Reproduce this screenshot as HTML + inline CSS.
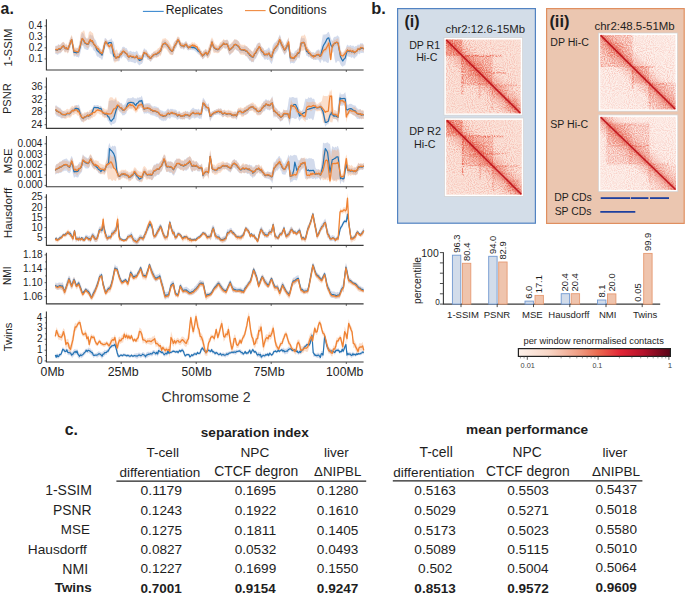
<!DOCTYPE html>
<html><head><meta charset="utf-8"><title>figure</title>
<style>
html,body{margin:0;padding:0;background:#fff;overflow:hidden}
svg{display:block}
text{font-family:"Liberation Sans",sans-serif;fill:#1e1e1e}
</style></head><body>
<svg width="685" height="598" viewBox="0 0 685 598">
<defs>
<linearGradient id="reds" x1="0" x2="1" y1="0" y2="0">
<stop offset="0" stop-color="#fdf1ea"/>
<stop offset="0.2" stop-color="#f8d6c6"/>
<stop offset="0.4" stop-color="#ef9c82"/>
<stop offset="0.52" stop-color="#eb6b50"/>
<stop offset="0.67" stop-color="#e22636"/>
<stop offset="0.82" stop-color="#b5122b"/>
<stop offset="1" stop-color="#580518"/>
</linearGradient>
<filter id="nz1" x="0" y="0" width="100%" height="100%" color-interpolation-filters="sRGB">
<feTurbulence type="fractalNoise" baseFrequency="0.95" numOctaves="1" seed="4" result="t"/>
<feColorMatrix in="t" type="matrix" values="0 0 0 0 0.92  0 0 0 0 0.36  0 0 0 0 0.28  3.2 0 0 0 -1.3"/>
<feGaussianBlur stdDeviation="0.3"/>
<feComposite in2="SourceGraphic" operator="in"/>
</filter>
<filter id="nz2" x="0" y="0" width="100%" height="100%" color-interpolation-filters="sRGB">
<feTurbulence type="fractalNoise" baseFrequency="0.9" numOctaves="1" seed="11" result="t"/>
<feColorMatrix in="t" type="matrix" values="0 0 0 0 0.9  0 0 0 0 0.3  0 0 0 0 0.22  0 3.2 0 0 -1.2"/>
<feGaussianBlur stdDeviation="0.3"/>
<feComposite in2="SourceGraphic" operator="in"/>
</filter>
<filter id="bl" x="-20%" y="-20%" width="140%" height="140%"><feGaussianBlur stdDeviation="1.2"/></filter>
<linearGradient id="gdiag" x1="1" y1="0" x2="0" y2="1">
<stop offset="0" stop-color="#fff" stop-opacity="0.22"/>
<stop offset="0.3" stop-color="#fff" stop-opacity="0.35"/>
<stop offset="0.42" stop-color="#fff" stop-opacity="0.55"/>
<stop offset="0.47" stop-color="#fff" stop-opacity="0.8"/>
<stop offset="0.5" stop-color="#fff" stop-opacity="1"/>
<stop offset="0.53" stop-color="#fff" stop-opacity="0.8"/>
<stop offset="0.58" stop-color="#fff" stop-opacity="0.55"/>
<stop offset="0.7" stop-color="#fff" stop-opacity="0.35"/>
<stop offset="1" stop-color="#fff" stop-opacity="0.22"/>
</linearGradient>
<linearGradient id="gdiag2" x1="1" y1="0" x2="0" y2="1">
<stop offset="0.38" stop-color="#e2452f" stop-opacity="0"/>
<stop offset="0.46" stop-color="#e2452f" stop-opacity="0.2"/>
<stop offset="0.5" stop-color="#d8302a" stop-opacity="0.55"/>
<stop offset="0.54" stop-color="#e2452f" stop-opacity="0.2"/>
<stop offset="0.62" stop-color="#e2452f" stop-opacity="0"/>
</linearGradient>
<mask id="mdiag" maskContentUnits="objectBoundingBox"><rect width="1" height="1" fill="url(#gdiag)"/></mask>
</defs>

<text x="0.58" y="13.70" font-size="15.84" font-weight="bold">a.</text>
<line x1="142.9" y1="11.4" x2="163.7" y2="11.4" stroke="#3c8ad0" stroke-width="1.1"/>
<text x="165.72" y="13.66" font-size="12.27">Replicates</text>
<line x1="245.0" y1="10.6" x2="265.6" y2="10.6" stroke="#f08a40" stroke-width="1.1"/>
<text x="268.69" y="13.78" font-size="12.24">Conditions</text>
<path d="M46.4,19.2 V70.0 H363.6" fill="none" stroke="#3a3a3a" stroke-width="1.1"/>
<line x1="44.6" y1="25.9" x2="46.4" y2="25.9" stroke="#3a3a3a" stroke-width="0.8"/>
<text x="28.50" y="28.95" font-size="10.00">0.4</text>
<line x1="44.6" y1="36.8" x2="46.4" y2="36.8" stroke="#3a3a3a" stroke-width="0.8"/>
<text x="28.65" y="39.85" font-size="10.00">0.3</text>
<line x1="44.6" y1="47.8" x2="46.4" y2="47.8" stroke="#3a3a3a" stroke-width="0.8"/>
<text x="28.70" y="50.85" font-size="10.00">0.2</text>
<line x1="44.6" y1="58.9" x2="46.4" y2="58.9" stroke="#3a3a3a" stroke-width="0.8"/>
<text x="28.70" y="61.95" font-size="10.00">0.1</text>
<line x1="121.2" y1="70.0" x2="121.2" y2="72.0" stroke="#3a3a3a" stroke-width="0.8"/>
<line x1="196.2" y1="70.0" x2="196.2" y2="72.0" stroke="#3a3a3a" stroke-width="0.8"/>
<line x1="271.2" y1="70.0" x2="271.2" y2="72.0" stroke="#3a3a3a" stroke-width="0.8"/>
<line x1="346.3" y1="70.0" x2="346.3" y2="72.0" stroke="#3a3a3a" stroke-width="0.8"/>
<text transform="translate(11.56,66.45) rotate(-90)" font-size="11.34">1-SSIM</text>
<path d="M46.4,77.6 V128.4 H363.6" fill="none" stroke="#3a3a3a" stroke-width="1.1"/>
<line x1="44.6" y1="87.0" x2="46.4" y2="87.0" stroke="#3a3a3a" stroke-width="0.8"/>
<text x="31.45" y="90.05" font-size="10.00">36</text>
<line x1="44.6" y1="99.5" x2="46.4" y2="99.5" stroke="#3a3a3a" stroke-width="0.8"/>
<text x="31.50" y="102.55" font-size="10.00">32</text>
<line x1="44.6" y1="112.1" x2="46.4" y2="112.1" stroke="#3a3a3a" stroke-width="0.8"/>
<text x="31.40" y="115.15" font-size="10.00">28</text>
<line x1="44.6" y1="124.7" x2="46.4" y2="124.7" stroke="#3a3a3a" stroke-width="0.8"/>
<text x="31.30" y="127.80" font-size="10.00">24</text>
<line x1="45.1" y1="93.2" x2="46.4" y2="93.2" stroke="#3a3a3a" stroke-width="0.7"/>
<line x1="45.1" y1="105.8" x2="46.4" y2="105.8" stroke="#3a3a3a" stroke-width="0.7"/>
<line x1="45.1" y1="118.4" x2="46.4" y2="118.4" stroke="#3a3a3a" stroke-width="0.7"/>
<line x1="121.2" y1="128.4" x2="121.2" y2="130.4" stroke="#3a3a3a" stroke-width="0.8"/>
<line x1="196.2" y1="128.4" x2="196.2" y2="130.4" stroke="#3a3a3a" stroke-width="0.8"/>
<line x1="271.2" y1="128.4" x2="271.2" y2="130.4" stroke="#3a3a3a" stroke-width="0.8"/>
<line x1="346.3" y1="128.4" x2="346.3" y2="130.4" stroke="#3a3a3a" stroke-width="0.8"/>
<text transform="translate(11.46,114.08) rotate(-90)" font-size="11.06">PSNR</text>
<path d="M46.4,136.1 V186.8 H363.6" fill="none" stroke="#3a3a3a" stroke-width="1.1"/>
<line x1="44.6" y1="143.8" x2="46.4" y2="143.8" stroke="#3a3a3a" stroke-width="0.8"/>
<text x="17.40" y="146.85" font-size="10.00">0.004</text>
<line x1="44.6" y1="154.5" x2="46.4" y2="154.5" stroke="#3a3a3a" stroke-width="0.8"/>
<text x="17.55" y="157.55" font-size="10.00">0.003</text>
<line x1="44.6" y1="164.8" x2="46.4" y2="164.8" stroke="#3a3a3a" stroke-width="0.8"/>
<text x="17.60" y="167.85" font-size="10.00">0.002</text>
<line x1="44.6" y1="175.1" x2="46.4" y2="175.1" stroke="#3a3a3a" stroke-width="0.8"/>
<text x="17.60" y="178.15" font-size="10.00">0.001</text>
<line x1="44.6" y1="185.4" x2="46.4" y2="185.4" stroke="#3a3a3a" stroke-width="0.8"/>
<text x="17.50" y="188.45" font-size="10.00">0.000</text>
<line x1="121.2" y1="186.8" x2="121.2" y2="188.8" stroke="#3a3a3a" stroke-width="0.8"/>
<line x1="196.2" y1="186.8" x2="196.2" y2="188.8" stroke="#3a3a3a" stroke-width="0.8"/>
<line x1="271.2" y1="186.8" x2="271.2" y2="188.8" stroke="#3a3a3a" stroke-width="0.8"/>
<line x1="346.3" y1="186.8" x2="346.3" y2="188.8" stroke="#3a3a3a" stroke-width="0.8"/>
<text transform="translate(11.63,173.42) rotate(-90)" font-size="11.54">MSE</text>
<path d="M46.4,194.3 V245.4 H363.6" fill="none" stroke="#3a3a3a" stroke-width="1.1"/>
<line x1="44.6" y1="197.2" x2="46.4" y2="197.2" stroke="#3a3a3a" stroke-width="0.8"/>
<text x="31.40" y="200.25" font-size="10.00">25</text>
<line x1="44.6" y1="207.5" x2="46.4" y2="207.5" stroke="#3a3a3a" stroke-width="0.8"/>
<text x="31.40" y="210.55" font-size="10.00">20</text>
<line x1="44.6" y1="217.6" x2="46.4" y2="217.6" stroke="#3a3a3a" stroke-width="0.8"/>
<text x="31.40" y="220.60" font-size="10.00">15</text>
<line x1="44.6" y1="227.6" x2="46.4" y2="227.6" stroke="#3a3a3a" stroke-width="0.8"/>
<text x="31.40" y="230.65" font-size="10.00">10</text>
<line x1="44.6" y1="237.5" x2="46.4" y2="237.5" stroke="#3a3a3a" stroke-width="0.8"/>
<text x="36.95" y="240.50" font-size="10.00">5</text>
<line x1="121.2" y1="245.4" x2="121.2" y2="247.4" stroke="#3a3a3a" stroke-width="0.8"/>
<line x1="196.2" y1="245.4" x2="196.2" y2="247.4" stroke="#3a3a3a" stroke-width="0.8"/>
<line x1="271.2" y1="245.4" x2="271.2" y2="247.4" stroke="#3a3a3a" stroke-width="0.8"/>
<line x1="346.3" y1="245.4" x2="346.3" y2="247.4" stroke="#3a3a3a" stroke-width="0.8"/>
<text transform="translate(11.83,238.24) rotate(-90)" font-size="11.70">Hausdorff</text>
<path d="M46.4,252.8 V303.9 H363.6" fill="none" stroke="#3a3a3a" stroke-width="1.1"/>
<line x1="44.6" y1="254.9" x2="46.4" y2="254.9" stroke="#3a3a3a" stroke-width="0.8"/>
<text x="23.05" y="257.95" font-size="10.00">1.18</text>
<line x1="44.6" y1="269.0" x2="46.4" y2="269.0" stroke="#3a3a3a" stroke-width="0.8"/>
<text x="22.95" y="272.05" font-size="10.00">1.14</text>
<line x1="44.6" y1="282.7" x2="46.4" y2="282.7" stroke="#3a3a3a" stroke-width="0.8"/>
<text x="23.05" y="285.75" font-size="10.00">1.10</text>
<line x1="44.6" y1="296.6" x2="46.4" y2="296.6" stroke="#3a3a3a" stroke-width="0.8"/>
<text x="23.10" y="299.65" font-size="10.00">1.06</text>
<line x1="45.1" y1="261.9" x2="46.4" y2="261.9" stroke="#3a3a3a" stroke-width="0.7"/>
<line x1="45.1" y1="275.9" x2="46.4" y2="275.9" stroke="#3a3a3a" stroke-width="0.7"/>
<line x1="45.1" y1="289.6" x2="46.4" y2="289.6" stroke="#3a3a3a" stroke-width="0.7"/>
<line x1="121.2" y1="303.9" x2="121.2" y2="305.9" stroke="#3a3a3a" stroke-width="0.8"/>
<line x1="196.2" y1="303.9" x2="196.2" y2="305.9" stroke="#3a3a3a" stroke-width="0.8"/>
<line x1="271.2" y1="303.9" x2="271.2" y2="305.9" stroke="#3a3a3a" stroke-width="0.8"/>
<line x1="346.3" y1="303.9" x2="346.3" y2="305.9" stroke="#3a3a3a" stroke-width="0.8"/>
<text transform="translate(11.12,284.90) rotate(-90)" font-size="10.06">NMI</text>
<path d="M46.4,311.4 V362.0 H363.6" fill="none" stroke="#3a3a3a" stroke-width="1.1"/>
<line x1="44.6" y1="317.6" x2="46.4" y2="317.6" stroke="#3a3a3a" stroke-width="0.8"/>
<text x="36.85" y="320.65" font-size="10.00">4</text>
<line x1="44.6" y1="328.3" x2="46.4" y2="328.3" stroke="#3a3a3a" stroke-width="0.8"/>
<text x="37.00" y="331.35" font-size="10.00">3</text>
<line x1="44.6" y1="339.2" x2="46.4" y2="339.2" stroke="#3a3a3a" stroke-width="0.8"/>
<text x="37.05" y="342.30" font-size="10.00">2</text>
<line x1="44.6" y1="350.2" x2="46.4" y2="350.2" stroke="#3a3a3a" stroke-width="0.8"/>
<text x="37.05" y="353.25" font-size="10.00">1</text>
<line x1="44.6" y1="360.9" x2="46.4" y2="360.9" stroke="#3a3a3a" stroke-width="0.8"/>
<text x="36.95" y="363.95" font-size="10.00">0</text>
<line x1="45.1" y1="322.9" x2="46.4" y2="322.9" stroke="#3a3a3a" stroke-width="0.7"/>
<line x1="45.1" y1="333.8" x2="46.4" y2="333.8" stroke="#3a3a3a" stroke-width="0.7"/>
<line x1="45.1" y1="344.7" x2="46.4" y2="344.7" stroke="#3a3a3a" stroke-width="0.7"/>
<line x1="45.1" y1="355.5" x2="46.4" y2="355.5" stroke="#3a3a3a" stroke-width="0.7"/>
<line x1="121.2" y1="362.0" x2="121.2" y2="364.0" stroke="#3a3a3a" stroke-width="0.8"/>
<line x1="196.2" y1="362.0" x2="196.2" y2="364.0" stroke="#3a3a3a" stroke-width="0.8"/>
<line x1="271.2" y1="362.0" x2="271.2" y2="364.0" stroke="#3a3a3a" stroke-width="0.8"/>
<line x1="346.3" y1="362.0" x2="346.3" y2="364.0" stroke="#3a3a3a" stroke-width="0.8"/>
<text transform="translate(11.65,351.32) rotate(-90)" font-size="11.20">Twins</text>
<path d="M55.3,46.1 L56.2,45.6 L57.2,45.9 L58.1,44.3 L59.1,44.4 L60.0,45.3 L61.2,43.7 L62.4,42.7 L63.5,42.0 L64.7,44.0 L65.6,45.5 L66.5,44.7 L67.3,46.5 L68.2,45.7 L69.1,41.9 L70.0,39.7 L70.8,37.7 L71.7,35.9 L72.8,40.1 L74.0,47.8 L74.9,48.8 L75.9,48.8 L76.8,48.5 L77.8,47.6 L78.7,46.1 L79.6,42.1 L80.5,38.6 L81.3,34.5 L82.2,32.8 L83.1,33.1 L84.0,34.6 L84.8,36.7 L85.7,37.6 L86.8,38.6 L88.0,38.8 L88.8,37.5 L89.6,34.8 L90.4,34.2 L91.3,35.7 L92.2,34.6 L93.0,36.0 L93.9,37.8 L94.8,39.4 L95.7,39.9 L96.5,42.3 L97.4,45.3 L98.3,46.1 L99.2,47.2 L100.2,48.4 L101.1,48.9 L102.0,50.2 L102.9,45.8 L103.8,42.6 L104.7,38.3 L105.6,37.9 L106.4,38.9 L107.3,40.2 L108.2,40.7 L109.0,39.8 L109.8,39.7 L110.6,39.3 L111.4,37.9 L112.6,41.0 L113.7,41.7 L114.8,47.8 L116.0,55.1 L116.9,53.4 L117.8,53.0 L118.7,53.4 L119.6,51.9 L120.4,50.0 L121.3,50.2 L122.2,47.2 L123.0,46.7 L123.9,46.8 L124.8,47.3 L125.7,48.3 L126.6,48.0 L127.8,50.6 L128.9,52.1 L129.8,50.9 L130.7,50.7 L131.5,51.6 L132.4,51.9 L133.3,51.5 L134.2,52.0 L135.0,52.3 L135.9,51.5 L136.8,50.5 L137.7,52.1 L138.5,53.9 L139.4,55.2 L140.2,55.7 L141.0,55.4 L141.8,55.3 L142.9,51.2 L144.1,48.0 L145.2,49.5 L146.4,49.8 L147.3,51.5 L148.2,53.3 L149.1,53.9 L150.0,55.4 L150.9,54.7 L151.8,53.5 L152.6,53.2 L153.5,51.9 L154.4,51.8 L155.3,51.6 L156.3,52.0 L157.2,50.8 L158.1,49.7 L158.9,49.8 L159.7,48.4 L160.5,47.7 L161.7,42.4 L162.8,40.5 L163.9,40.5 L165.1,39.6 L165.9,40.8 L166.7,41.6 L167.5,42.4 L168.7,43.4 L169.8,45.0 L170.9,46.9 L172.1,48.0 L173.0,45.7 L173.8,43.1 L174.7,41.6 L175.6,40.5 L176.4,39.7 L177.2,37.7 L178.0,37.5 L179.2,37.8 L180.3,41.0 L181.2,42.7 L182.1,43.3 L182.9,42.3 L183.8,43.6 L185.0,41.8 L186.2,41.1 L187.3,43.0 L188.5,45.2 L189.4,44.0 L190.2,44.0 L191.1,45.0 L192.0,44.2 L192.9,45.2 L193.8,44.0 L194.6,45.1 L195.5,44.8 L196.4,46.1 L197.2,46.7 L198.1,48.0 L199.0,48.8 L199.9,48.8 L200.8,50.4 L201.6,51.1 L202.5,52.9 L203.4,50.8 L204.2,51.1 L205.1,49.5 L206.0,49.4 L207.3,51.8 L208.5,48.7 L209.7,45.4 L210.8,41.3 L212.0,39.1 L213.2,42.2 L214.3,44.9 L215.2,45.2 L216.1,46.5 L216.9,46.6 L217.8,47.0 L219.0,45.6 L220.2,43.5 L221.1,43.4 L221.9,42.1 L222.8,41.0 L223.7,39.7 L224.6,40.6 L225.4,40.2 L226.3,40.0 L227.2,39.4 L228.3,41.1 L229.5,45.0 L230.3,43.9 L231.1,43.9 L231.9,43.2 L233.1,42.0 L234.2,39.6 L235.1,39.6 L235.9,40.0 L236.8,39.8 L237.7,40.7 L238.8,41.6 L240.0,44.4 L240.9,46.4 L241.8,46.4 L242.6,46.7 L243.5,47.0 L244.4,45.8 L245.2,46.0 L246.1,46.6 L247.0,46.2 L247.9,47.7 L248.8,47.9 L249.6,49.5 L250.5,49.7 L251.3,51.0 L252.1,51.3 L252.9,52.4 L253.8,49.7 L254.6,47.6 L255.5,48.0 L256.4,45.1 L257.3,43.6 L258.3,42.9 L259.2,42.5 L260.2,43.1 L261.2,45.9 L262.2,47.1 L263.2,48.0 L264.3,49.9 L265.3,50.0 L266.2,49.5 L267.2,49.6 L268.1,48.1 L269.0,47.3 L269.9,49.1 L270.7,51.1 L271.6,51.0 L272.8,45.6 L273.9,43.5 L274.8,42.6 L275.6,42.2 L276.5,41.1 L277.4,39.9 L278.5,37.4 L279.7,34.5 L280.5,36.1 L281.3,39.4 L282.1,40.6 L283.2,42.6 L284.4,45.4 L285.2,45.0 L286.0,43.1 L286.8,41.0 L287.7,39.4 L288.6,38.1 L289.5,44.2 L290.3,51.8 L291.2,52.1 L292.1,53.3 L292.9,52.8 L293.8,53.7 L294.8,51.3 L295.8,50.6 L296.8,50.2 L297.7,48.5 L298.7,48.4 L299.6,44.8 L301.2,36.7 L302.2,38.3 L303.3,38.3 L304.3,37.8 L305.5,41.3 L306.6,46.7 L307.5,47.0 L308.4,49.2 L309.2,49.8 L310.1,50.9 L311.0,51.4 L311.9,52.7 L312.7,52.0 L313.6,52.1 L314.5,53.4 L315.4,52.0 L316.2,50.8 L317.1,50.1 L318.0,49.7 L318.9,49.3 L319.7,50.7 L320.6,49.0 L321.8,41.1 L323.0,33.8 L323.9,35.5 L324.8,33.9 L325.6,34.4 L326.5,34.0 L327.6,32.6 L328.8,31.7 L329.8,34.7 L330.7,37.7 L331.5,39.7 L332.3,40.9 L333.5,37.7 L334.6,36.7 L335.5,36.7 L336.4,36.5 L337.2,35.2 L338.1,35.9 L339.3,37.3 L340.5,48.9 L341.6,52.2 L342.8,55.2 L344.0,52.6 L345.2,51.0 L346.4,46.2 L347.5,44.4 L348.4,45.6 L349.2,46.1 L350.1,44.9 L351.0,45.2 L351.9,46.2 L352.8,45.4 L353.6,45.8 L354.5,47.0 L355.4,46.0 L356.2,46.3 L357.1,45.6 L358.0,44.3 L358.9,45.1 L359.8,44.5 L360.6,43.1 L361.5,43.4 L362.6,43.3 L363.8,44.8 L363.8,53.2 L362.6,52.8 L361.5,53.1 L360.6,52.4 L359.8,54.6 L358.9,53.6 L358.0,53.7 L357.1,55.9 L356.2,56.6 L355.4,57.3 L354.5,58.8 L353.6,58.2 L352.8,56.7 L351.9,57.9 L351.0,57.4 L350.1,56.5 L349.2,57.1 L348.4,56.4 L347.5,55.8 L346.4,60.5 L345.2,65.2 L344.0,65.6 L342.8,66.8 L341.6,66.0 L340.5,64.6 L339.3,61.6 L338.1,60.9 L337.2,61.2 L336.4,62.8 L335.5,62.7 L334.6,59.0 L333.5,51.2 L332.3,53.1 L331.5,52.6 L330.7,51.2 L329.8,55.5 L328.8,62.4 L327.6,62.9 L326.5,62.2 L325.6,61.4 L324.8,60.9 L323.9,62.5 L323.0,60.8 L321.8,59.6 L320.6,63.1 L319.7,62.2 L318.9,60.5 L318.0,59.8 L317.1,59.6 L316.2,59.9 L315.4,60.1 L314.5,59.8 L313.6,60.0 L312.7,59.0 L311.9,58.8 L311.0,58.3 L310.1,57.2 L309.2,56.8 L308.4,57.4 L307.5,55.7 L306.6,55.9 L305.5,52.6 L304.3,48.4 L303.3,46.6 L302.2,47.6 L301.2,49.6 L299.6,58.6 L298.7,58.3 L297.7,57.5 L296.8,59.8 L295.8,61.0 L294.8,62.8 L293.8,63.5 L292.9,63.1 L292.1,62.9 L291.2,62.7 L290.3,63.9 L289.5,59.7 L288.6,51.2 L287.7,48.9 L286.8,52.3 L286.0,53.1 L285.2,54.4 L284.4,54.9 L283.2,52.4 L282.1,50.2 L281.3,49.0 L280.5,47.1 L279.7,44.8 L278.5,49.1 L277.4,51.3 L276.5,51.9 L275.6,53.5 L274.8,54.1 L273.9,56.6 L272.8,60.8 L271.6,64.2 L270.7,62.7 L269.9,61.5 L269.0,59.0 L268.1,60.0 L267.2,60.1 L266.2,58.8 L265.3,59.7 L264.3,59.6 L263.2,57.3 L262.2,56.5 L261.2,55.2 L260.2,52.8 L259.2,51.0 L258.3,53.8 L257.3,55.8 L256.4,57.8 L255.5,59.1 L254.6,59.5 L253.8,62.3 L252.9,62.2 L252.1,61.6 L251.3,62.5 L250.5,60.7 L249.6,61.1 L248.8,59.3 L247.9,58.4 L247.0,56.2 L246.1,56.2 L245.2,55.5 L244.4,53.4 L243.5,53.7 L242.6,53.0 L241.8,53.3 L240.9,53.3 L240.0,53.5 L238.8,51.8 L237.7,51.1 L236.8,50.5 L235.9,49.3 L235.1,49.2 L234.2,50.3 L233.1,52.1 L231.9,52.7 L231.1,54.0 L230.3,54.9 L229.5,55.6 L228.3,52.7 L227.2,49.1 L226.3,48.2 L225.4,48.7 L224.6,48.4 L223.7,47.0 L222.8,48.2 L221.9,48.8 L221.1,49.5 L220.2,50.6 L219.0,52.1 L217.8,52.5 L216.9,52.0 L216.1,52.1 L215.2,51.9 L214.3,51.2 L213.2,50.3 L212.0,45.2 L210.8,52.1 L209.7,55.1 L208.5,56.7 L207.3,58.0 L206.0,55.6 L205.1,56.8 L204.2,58.1 L203.4,58.8 L202.5,59.2 L201.6,57.5 L200.8,56.8 L199.9,55.0 L199.0,54.4 L198.1,54.2 L197.2,52.9 L196.4,52.2 L195.5,51.4 L194.6,50.8 L193.8,50.1 L192.9,50.5 L192.0,49.5 L191.1,50.3 L190.2,49.5 L189.4,50.0 L188.5,50.6 L187.3,50.0 L186.2,47.7 L185.0,48.1 L183.8,49.9 L182.9,48.5 L182.1,48.6 L181.2,48.6 L180.3,48.2 L179.2,45.2 L178.0,42.7 L177.2,45.1 L176.4,47.4 L175.6,48.4 L174.7,50.3 L173.8,52.2 L173.0,55.1 L172.1,54.7 L170.9,54.2 L169.8,53.4 L168.7,51.4 L167.5,49.0 L166.7,47.5 L165.9,47.8 L165.1,46.5 L163.9,47.5 L162.8,48.5 L161.7,52.1 L160.5,55.0 L159.7,54.3 L158.9,55.9 L158.1,56.2 L157.2,56.9 L156.3,57.3 L155.3,56.8 L154.4,57.6 L153.5,57.9 L152.6,59.3 L151.8,60.0 L150.9,61.9 L150.0,61.3 L149.1,59.9 L148.2,60.1 L147.3,59.5 L146.4,57.3 L145.2,57.7 L144.1,57.1 L142.9,62.2 L141.8,63.9 L141.0,63.9 L140.2,64.8 L139.4,65.5 L138.5,64.4 L137.7,63.8 L136.8,61.4 L135.9,63.3 L135.0,62.9 L134.2,63.2 L133.3,62.3 L132.4,62.3 L131.5,62.1 L130.7,61.8 L129.8,61.6 L128.9,62.2 L127.8,61.3 L126.6,59.1 L125.7,58.1 L124.8,57.7 L123.9,55.9 L123.0,56.5 L122.2,57.3 L121.3,58.8 L120.4,57.8 L119.6,60.8 L118.7,61.6 L117.8,60.8 L116.9,60.8 L116.0,61.3 L114.8,60.7 L113.7,61.7 L112.6,56.3 L111.4,54.1 L110.6,54.1 L109.8,52.9 L109.0,49.1 L108.2,46.7 L107.3,46.7 L106.4,46.4 L105.6,45.9 L104.7,49.6 L103.8,54.6 L102.9,58.0 L102.0,60.3 L101.1,58.7 L100.2,58.0 L99.2,57.7 L98.3,56.4 L97.4,56.7 L96.5,55.6 L95.7,52.9 L94.8,51.2 L93.9,50.7 L93.0,49.4 L92.2,46.7 L91.3,47.6 L90.4,45.7 L89.6,46.8 L88.8,48.8 L88.0,49.9 L86.8,49.9 L85.7,49.3 L84.8,49.3 L84.0,48.0 L83.1,46.0 L82.2,44.8 L81.3,48.9 L80.5,52.5 L79.6,56.0 L78.7,57.7 L77.8,57.0 L76.8,57.1 L75.9,56.6 L74.9,55.7 L74.0,57.2 L72.8,51.3 L71.7,43.2 L70.8,45.1 L70.0,48.4 L69.1,50.4 L68.2,52.5 L67.3,52.4 L66.5,50.8 L65.6,51.9 L64.7,51.7 L63.5,49.8 L62.4,50.4 L61.2,52.5 L60.0,53.7 L59.1,53.2 L58.1,54.7 L57.2,54.8 L56.2,54.1 L55.3,53.9Z" fill="rgba(125,150,200,0.34)" stroke="none"/>
<path d="M55.3,46.5 L56.2,45.9 L57.2,46.4 L58.1,44.7 L59.1,44.7 L60.0,45.2 L61.2,43.5 L62.4,42.0 L63.5,41.7 L64.7,43.0 L65.6,44.6 L66.5,43.2 L67.3,45.3 L68.2,44.7 L69.1,40.8 L70.0,38.8 L70.8,36.8 L71.7,34.7 L72.8,38.4 L74.0,46.2 L74.9,47.7 L75.9,47.3 L76.8,48.1 L77.8,48.3 L78.7,47.1 L79.6,42.7 L80.5,34.5 L81.3,32.1 L82.2,31.7 L83.1,31.3 L84.0,29.9 L84.8,32.6 L85.7,37.5 L86.8,39.6 L88.0,37.0 L88.8,32.6 L89.6,31.4 L90.4,31.0 L91.3,32.0 L92.2,32.7 L93.0,33.1 L93.9,37.3 L94.8,41.2 L95.7,43.1 L96.5,44.0 L97.4,45.5 L98.3,45.4 L99.2,46.9 L100.2,49.1 L101.1,49.9 L102.0,51.0 L102.9,47.7 L103.8,43.1 L104.7,40.2 L105.6,39.3 L106.4,39.7 L107.3,40.9 L108.2,42.0 L109.0,43.7 L109.8,43.7 L110.6,42.1 L111.4,41.1 L112.6,43.7 L113.7,48.4 L114.8,51.1 L116.0,49.8 L116.9,49.6 L117.8,52.1 L118.7,54.3 L119.6,52.9 L120.4,51.0 L121.3,51.4 L122.2,49.0 L123.0,48.6 L123.9,48.1 L124.8,48.9 L125.7,50.0 L126.6,50.0 L127.8,51.7 L128.9,53.9 L129.8,53.0 L130.7,53.6 L131.5,53.8 L132.4,54.1 L133.3,54.0 L134.2,55.2 L135.0,54.9 L135.9,54.5 L136.8,52.9 L137.7,54.7 L138.5,56.1 L139.4,55.0 L140.2,55.4 L141.0,55.6 L141.8,55.8 L142.9,51.1 L144.1,49.8 L145.2,50.9 L146.4,50.4 L147.3,52.0 L148.2,53.7 L149.1,54.0 L150.0,55.1 L150.9,54.9 L151.8,53.0 L152.6,53.0 L153.5,51.5 L154.4,51.3 L155.3,50.5 L156.3,50.2 L157.2,49.2 L158.1,48.0 L158.9,48.1 L159.7,46.7 L160.5,45.8 L161.7,40.7 L162.8,38.6 L163.9,38.8 L165.1,38.0 L165.9,38.4 L166.7,39.4 L167.5,39.8 L168.7,41.0 L169.8,43.3 L170.9,44.9 L172.1,47.2 L173.0,45.5 L173.8,42.5 L174.7,41.5 L175.6,40.4 L176.4,39.4 L177.2,36.8 L178.0,36.4 L179.2,36.9 L180.3,40.2 L181.2,42.0 L182.1,42.9 L182.9,42.8 L183.8,44.1 L185.0,42.0 L186.2,41.4 L187.3,43.1 L188.5,45.1 L189.4,44.5 L190.2,44.7 L191.1,42.6 L192.0,42.8 L192.9,41.8 L193.8,43.2 L194.6,42.1 L195.5,43.5 L196.4,44.0 L197.2,44.2 L198.1,46.5 L199.0,46.7 L199.9,47.6 L200.8,50.5 L201.6,50.5 L202.5,52.4 L203.4,50.5 L204.2,50.8 L205.1,49.2 L206.0,48.7 L207.3,50.8 L208.5,46.9 L209.7,43.9 L210.8,39.6 L212.0,37.2 L213.2,39.6 L214.3,42.5 L215.2,43.9 L216.1,44.7 L216.9,44.6 L217.8,46.0 L219.0,44.4 L220.2,42.1 L221.1,42.2 L221.9,40.8 L222.8,40.2 L223.7,38.8 L224.6,39.9 L225.4,40.3 L226.3,39.7 L227.2,39.8 L228.3,41.1 L229.5,45.5 L230.3,44.2 L231.1,43.0 L231.9,42.3 L233.1,41.0 L234.2,39.4 L235.1,39.3 L235.9,39.6 L236.8,39.8 L237.7,40.6 L238.8,41.6 L240.0,43.6 L240.9,44.4 L241.8,44.7 L242.6,44.7 L243.5,45.0 L244.4,44.5 L245.2,44.9 L246.1,45.9 L247.0,46.3 L247.9,47.8 L248.8,47.9 L249.6,49.5 L250.5,49.6 L251.3,50.8 L252.1,51.1 L252.9,51.9 L253.8,50.1 L254.6,48.7 L255.5,48.0 L256.4,46.0 L257.3,44.8 L258.3,43.2 L259.2,42.6 L260.2,43.5 L261.2,46.2 L262.2,47.8 L263.2,48.0 L264.3,50.5 L265.3,52.2 L266.2,51.1 L267.2,51.7 L268.1,50.6 L269.0,50.0 L269.9,51.5 L270.7,53.0 L271.6,52.7 L272.8,47.8 L273.9,45.9 L274.8,44.4 L275.6,43.4 L276.5,41.9 L277.4,41.3 L278.5,38.1 L279.7,35.9 L280.5,37.3 L281.3,39.3 L282.1,41.2 L283.2,42.5 L284.4,46.1 L285.2,45.4 L286.0,43.3 L286.8,41.9 L287.7,39.4 L288.6,37.1 L289.5,43.7 L290.3,51.8 L291.2,53.6 L292.1,54.7 L292.9,53.8 L293.8,54.7 L294.8,52.7 L295.8,52.7 L296.8,50.4 L297.7,48.8 L298.7,48.9 L299.6,44.1 L301.2,36.1 L302.2,35.5 L303.3,36.1 L304.3,34.2 L305.5,36.1 L306.6,39.8 L307.5,46.5 L308.4,48.6 L309.2,49.5 L310.1,50.2 L311.0,52.0 L311.9,52.5 L312.7,53.2 L313.6,54.5 L314.5,52.6 L315.4,53.2 L316.2,52.0 L317.1,51.4 L318.0,50.7 L318.9,50.5 L319.7,52.7 L320.6,52.6 L321.8,49.7 L323.0,47.3 L323.9,47.2 L324.8,46.4 L325.6,46.6 L326.5,43.9 L327.6,42.1 L328.8,39.0 L329.8,46.6 L330.7,57.0 L331.5,47.5 L332.3,40.8 L333.5,41.2 L334.6,39.5 L335.5,40.0 L336.4,39.0 L337.2,38.7 L338.1,38.1 L339.3,43.4 L340.5,50.4 L341.6,52.5 L342.8,52.5 L344.0,51.2 L345.2,49.6 L346.4,48.1 L347.5,46.7 L348.4,47.1 L349.2,47.3 L350.1,47.0 L351.0,47.4 L351.9,48.6 L352.8,47.8 L353.6,48.9 L354.5,49.2 L355.4,48.7 L356.2,48.5 L357.1,47.4 L358.0,46.1 L358.9,46.8 L359.8,46.4 L360.6,44.1 L361.5,44.8 L362.6,44.2 L363.8,45.8 L363.8,52.0 L362.6,51.3 L361.5,50.6 L360.6,50.8 L359.8,52.0 L358.9,51.4 L358.0,51.7 L357.1,53.8 L356.2,54.3 L355.4,54.5 L354.5,55.6 L353.6,54.9 L352.8,53.8 L351.9,54.6 L351.0,55.0 L350.1,53.3 L349.2,54.7 L348.4,54.0 L347.5,53.3 L346.4,55.1 L345.2,57.4 L344.0,58.4 L342.8,59.3 L341.6,58.8 L340.5,59.0 L339.3,55.6 L338.1,47.9 L337.2,45.9 L336.4,45.3 L335.5,45.7 L334.6,46.5 L333.5,48.0 L332.3,50.0 L331.5,58.5 L330.7,61.8 L329.8,57.6 L328.8,47.0 L327.6,49.4 L326.5,51.5 L325.6,52.4 L324.8,52.5 L323.9,53.1 L323.0,55.1 L321.8,58.6 L320.6,59.2 L319.7,59.5 L318.9,58.6 L318.0,58.2 L317.1,58.0 L316.2,58.2 L315.4,59.3 L314.5,58.7 L313.6,59.5 L312.7,59.1 L311.9,58.5 L311.0,58.2 L310.1,56.8 L309.2,55.7 L308.4,56.0 L307.5,52.9 L306.6,53.2 L305.5,51.1 L304.3,49.2 L303.3,51.1 L302.2,50.5 L301.2,51.1 L299.6,57.6 L298.7,56.6 L297.7,57.0 L296.8,59.0 L295.8,60.4 L294.8,60.0 L293.8,61.7 L292.9,61.1 L292.1,62.1 L291.2,60.4 L290.3,62.2 L289.5,55.5 L288.6,46.7 L287.7,48.1 L286.8,51.1 L286.0,52.4 L285.2,53.3 L284.4,53.9 L283.2,52.0 L282.1,49.6 L281.3,47.9 L280.5,45.8 L279.7,43.1 L278.5,47.3 L277.4,49.5 L276.5,50.2 L275.6,51.4 L274.8,52.3 L273.9,54.1 L272.8,58.0 L271.6,61.3 L270.7,60.0 L269.9,59.0 L269.0,56.2 L268.1,56.4 L267.2,58.0 L266.2,57.0 L265.3,57.2 L264.3,57.8 L263.2,56.1 L262.2,54.6 L261.2,54.1 L260.2,52.3 L259.2,50.4 L258.3,53.4 L257.3,54.7 L256.4,56.4 L255.5,57.9 L254.6,58.0 L253.8,61.0 L252.9,62.1 L252.1,61.5 L251.3,61.6 L250.5,59.8 L249.6,60.1 L248.8,58.0 L247.9,57.5 L247.0,56.1 L246.1,56.4 L245.2,55.6 L244.4,54.6 L243.5,55.0 L242.6,54.8 L241.8,54.8 L240.9,54.7 L240.0,54.2 L238.8,51.4 L237.7,50.2 L236.8,50.3 L235.9,49.3 L235.1,49.2 L234.2,50.4 L233.1,52.4 L231.9,53.1 L231.1,53.7 L230.3,54.0 L229.5,54.5 L228.3,52.5 L227.2,48.6 L226.3,48.3 L225.4,48.5 L224.6,48.3 L223.7,47.2 L222.8,48.5 L221.9,49.5 L221.1,50.5 L220.2,50.9 L219.0,52.9 L217.8,53.2 L216.9,53.2 L216.1,53.0 L215.2,52.8 L214.3,52.9 L213.2,52.2 L212.0,46.6 L210.8,53.7 L209.7,56.1 L208.5,57.9 L207.3,58.6 L206.0,56.1 L205.1,56.8 L204.2,57.3 L203.4,58.2 L202.5,59.4 L201.6,57.3 L200.8,56.9 L199.9,55.8 L199.0,53.3 L198.1,52.3 L197.2,50.0 L196.4,49.3 L195.5,49.5 L194.6,48.5 L193.8,49.5 L192.9,48.1 L192.0,48.0 L191.1,48.7 L190.2,50.0 L189.4,49.1 L188.5,50.3 L187.3,49.2 L186.2,47.0 L185.0,47.5 L183.8,48.9 L182.9,47.9 L182.1,48.5 L181.2,48.6 L180.3,48.2 L179.2,46.0 L178.0,42.6 L177.2,45.0 L176.4,47.2 L175.6,48.0 L174.7,50.0 L173.8,52.4 L173.0,54.7 L172.1,55.2 L170.9,55.1 L169.8,54.5 L168.7,52.7 L167.5,51.0 L166.7,49.6 L165.9,49.2 L165.1,48.0 L163.9,48.6 L162.8,49.8 L161.7,53.2 L160.5,56.6 L159.7,55.1 L158.9,56.9 L158.1,56.8 L157.2,57.6 L156.3,58.0 L155.3,57.6 L154.4,57.5 L153.5,57.9 L152.6,59.3 L151.8,59.7 L150.9,61.0 L150.0,61.3 L149.1,59.6 L148.2,59.0 L147.3,58.1 L146.4,56.6 L145.2,55.8 L144.1,55.0 L142.9,58.8 L141.8,62.0 L141.0,61.2 L140.2,61.4 L139.4,61.4 L138.5,61.3 L137.7,61.8 L136.8,59.0 L135.9,59.5 L135.0,59.5 L134.2,59.9 L133.3,59.0 L132.4,59.1 L131.5,59.2 L130.7,58.7 L129.8,59.0 L128.9,60.1 L127.8,60.1 L126.6,57.0 L125.7,56.0 L124.8,55.5 L123.9,54.6 L123.0,53.8 L122.2,55.0 L121.3,57.5 L120.4,56.7 L119.6,58.9 L118.7,59.9 L117.8,61.3 L116.9,61.6 L116.0,61.8 L114.8,63.1 L113.7,60.3 L112.6,53.0 L111.4,47.3 L110.6,48.0 L109.8,49.2 L109.0,49.3 L108.2,48.2 L107.3,46.7 L106.4,45.1 L105.6,44.5 L104.7,47.4 L103.8,51.9 L102.9,55.1 L102.0,56.0 L101.1,55.1 L100.2,55.9 L99.2,53.8 L98.3,52.0 L97.4,52.3 L96.5,50.3 L95.7,50.2 L94.8,48.5 L93.9,48.2 L93.0,46.6 L92.2,45.7 L91.3,45.1 L90.4,44.0 L89.6,44.8 L88.8,47.3 L88.0,48.4 L86.8,47.7 L85.7,46.6 L84.8,46.2 L84.0,44.8 L83.1,45.3 L82.2,45.7 L81.3,45.2 L80.5,48.7 L79.6,52.4 L78.7,55.3 L77.8,55.7 L76.8,55.3 L75.9,55.1 L74.9,54.8 L74.0,56.2 L72.8,52.1 L71.7,44.3 L70.8,45.7 L70.0,48.6 L69.1,51.1 L68.2,53.1 L67.3,53.4 L66.5,52.0 L65.6,52.4 L64.7,52.4 L63.5,49.8 L62.4,51.0 L61.2,52.3 L60.0,52.6 L59.1,52.4 L58.1,53.6 L57.2,53.6 L56.2,52.9 L55.3,52.7Z" fill="rgba(245,172,125,0.40)" stroke="none"/>
<path d="M55.3,50.0 L56.2,49.9 L57.2,50.3 L58.1,49.5 L59.1,48.8 L60.0,49.5 L61.2,48.1 L62.4,46.6 L63.5,45.9 L64.7,47.9 L65.6,48.7 L66.5,47.7 L67.3,49.4 L68.2,49.1 L69.1,46.1 L70.0,44.0 L70.8,41.4 L71.7,39.5 L72.8,45.7 L74.0,52.5 L74.9,52.3 L75.9,52.7 L76.8,52.8 L77.8,52.3 L78.7,51.9 L79.6,49.1 L80.5,45.5 L81.3,41.7 L82.2,38.8 L83.1,39.5 L84.0,41.3 L84.8,43.0 L85.7,43.5 L86.8,44.2 L88.0,44.3 L88.8,43.2 L89.6,40.8 L90.4,40.0 L91.3,41.7 L92.2,40.7 L93.0,42.7 L93.9,44.3 L94.8,45.3 L95.7,46.4 L96.5,49.0 L97.4,51.0 L98.3,51.3 L99.2,52.5 L100.2,53.2 L101.1,53.8 L102.0,55.2 L102.9,51.9 L103.8,48.6 L104.7,44.0 L105.6,41.9 L106.4,42.6 L107.3,43.4 L108.2,43.7 L109.0,42.7 L109.8,42.5 L110.6,42.7 L111.4,42.9 L112.6,49.8 L113.7,56.0 L114.8,56.7 L116.0,58.2 L116.9,57.1 L117.8,56.9 L118.7,57.5 L119.6,56.4 L120.4,53.9 L121.3,54.5 L122.2,52.3 L123.0,51.6 L123.9,51.4 L124.8,52.5 L125.7,53.2 L126.6,53.6 L127.8,56.0 L128.9,57.2 L129.8,56.3 L130.7,56.2 L131.5,56.9 L132.4,57.1 L133.3,56.9 L134.2,57.6 L135.0,57.6 L135.9,57.4 L136.8,56.0 L137.7,57.9 L138.5,59.1 L139.4,60.4 L140.2,60.2 L141.0,59.7 L141.8,59.6 L142.9,56.7 L144.1,52.5 L145.2,53.6 L146.4,53.5 L147.3,55.5 L148.2,56.7 L149.1,56.9 L150.0,58.3 L150.9,58.3 L151.8,56.8 L152.6,56.2 L153.5,54.9 L154.4,54.7 L155.3,54.2 L156.3,54.6 L157.2,53.9 L158.1,53.0 L158.9,52.9 L159.7,51.3 L160.5,51.4 L161.7,47.3 L162.8,44.5 L163.9,44.0 L165.1,43.0 L165.9,44.3 L166.7,44.6 L167.5,45.7 L168.7,47.4 L169.8,49.2 L170.9,50.5 L172.1,51.4 L173.0,50.4 L173.8,47.7 L174.7,46.0 L175.6,44.4 L176.4,43.6 L177.2,41.4 L178.0,40.1 L179.2,41.5 L180.3,44.6 L181.2,45.6 L182.1,45.9 L182.9,45.4 L183.8,46.7 L185.0,44.9 L186.2,44.4 L187.3,46.5 L188.5,47.9 L189.4,47.0 L190.2,46.7 L191.1,47.6 L192.0,46.9 L192.9,47.9 L193.8,47.1 L194.6,48.0 L195.5,48.1 L196.4,49.1 L197.2,49.8 L198.1,51.1 L199.0,51.6 L199.9,51.9 L200.8,53.6 L201.6,54.3 L202.5,56.0 L203.4,54.8 L204.2,54.6 L205.1,53.2 L206.0,52.5 L207.3,54.9 L208.5,52.7 L209.7,50.3 L210.8,46.7 L212.0,42.2 L213.2,46.2 L214.3,48.0 L215.2,48.6 L216.1,49.3 L216.9,49.3 L217.8,49.8 L219.0,48.9 L220.2,47.1 L221.1,46.5 L221.9,45.4 L222.8,44.6 L223.7,43.3 L224.6,44.5 L225.4,44.4 L226.3,44.1 L227.2,44.2 L228.3,46.9 L229.5,50.3 L230.3,49.4 L231.1,48.9 L231.9,48.0 L233.1,47.0 L234.2,44.9 L235.1,44.4 L235.9,44.6 L236.8,45.2 L237.7,45.9 L238.8,46.7 L240.0,49.0 L240.9,49.9 L241.8,49.8 L242.6,49.8 L243.5,50.4 L244.4,49.6 L245.2,50.7 L246.1,51.4 L247.0,51.2 L247.9,53.0 L248.8,53.6 L249.6,55.3 L250.5,55.2 L251.3,56.8 L252.1,56.4 L252.9,57.3 L253.8,56.0 L254.6,53.6 L255.5,53.5 L256.4,51.5 L257.3,49.7 L258.3,48.4 L259.2,46.8 L260.2,47.9 L261.2,50.5 L262.2,51.8 L263.2,52.6 L264.3,54.8 L265.3,54.8 L266.2,54.2 L267.2,54.9 L268.1,54.1 L269.0,53.1 L269.9,55.3 L270.7,56.9 L271.6,57.6 L272.8,53.2 L273.9,50.0 L274.8,48.4 L275.6,47.9 L276.5,46.5 L277.4,45.6 L278.5,43.3 L279.7,39.7 L280.5,41.6 L281.3,44.2 L282.1,45.4 L283.2,47.5 L284.4,50.1 L285.2,49.7 L286.0,48.1 L286.8,46.7 L287.7,44.1 L288.6,44.6 L289.5,51.9 L290.3,57.9 L291.2,57.4 L292.1,58.1 L292.9,58.0 L293.8,58.6 L294.8,57.1 L295.8,55.8 L296.8,55.0 L297.7,53.0 L298.7,53.4 L299.6,51.7 L301.2,43.1 L302.2,43.0 L303.3,42.4 L304.3,43.1 L305.5,46.9 L306.6,51.3 L307.5,51.3 L308.4,53.3 L309.2,53.3 L310.1,54.1 L311.0,54.9 L311.9,55.8 L312.7,55.5 L313.6,56.0 L314.5,56.6 L315.4,56.0 L316.2,55.3 L317.1,54.8 L318.0,54.8 L318.9,54.9 L319.7,56.4 L320.6,56.0 L321.8,51.0 L323.0,46.6 L323.9,44.7 L324.8,43.4 L325.6,41.9 L326.5,39.9 L327.6,38.2 L328.8,37.8 L329.8,41.6 L330.7,44.4 L331.5,46.2 L332.3,47.0 L333.5,44.4 L334.6,43.3 L335.5,43.2 L336.4,42.4 L337.2,42.4 L338.1,43.5 L339.3,50.2 L340.5,56.7 L341.6,59.1 L342.8,61.0 L344.0,59.1 L345.2,58.1 L346.4,53.3 L347.5,50.1 L348.4,51.0 L349.2,51.6 L350.1,50.7 L351.0,51.3 L351.9,52.0 L352.8,51.0 L353.6,52.0 L354.5,52.9 L355.4,51.7 L356.2,51.4 L357.1,50.8 L358.0,49.0 L358.9,49.3 L359.8,49.6 L360.6,47.8 L361.5,48.3 L362.6,48.1 L363.8,49.0" fill="none" stroke="#2373b3" stroke-width="1.2" stroke-linejoin="round"/>
<path d="M55.3,49.6 L56.2,49.4 L57.2,50.0 L58.1,49.2 L59.1,48.5 L60.0,48.9 L61.2,47.9 L62.4,46.5 L63.5,45.8 L64.7,47.7 L65.6,48.5 L66.5,47.6 L67.3,49.3 L68.2,48.9 L69.1,46.0 L70.0,43.7 L70.8,41.3 L71.7,39.5 L72.8,45.3 L74.0,51.2 L74.9,51.2 L75.9,51.2 L76.8,51.7 L77.8,52.0 L78.7,51.2 L79.6,47.8 L80.5,44.7 L81.3,41.4 L82.2,38.4 L83.1,39.4 L84.0,40.7 L84.8,42.5 L85.7,43.0 L86.8,43.7 L88.0,44.2 L88.8,42.8 L89.6,40.4 L90.4,39.5 L91.3,41.4 L92.2,40.6 L93.0,42.3 L93.9,44.2 L94.8,44.9 L95.7,46.7 L96.5,47.1 L97.4,48.9 L98.3,48.7 L99.2,50.4 L100.2,52.5 L101.1,52.5 L102.0,53.5 L102.9,51.4 L103.8,47.5 L104.7,43.8 L105.6,41.9 L106.4,42.4 L107.3,43.8 L108.2,45.1 L109.0,46.5 L109.8,46.5 L110.6,45.1 L111.4,44.2 L112.6,48.2 L113.7,52.4 L114.8,55.3 L116.0,58.2 L116.9,58.0 L117.8,56.6 L118.7,57.1 L119.6,55.9 L120.4,53.9 L121.3,54.4 L122.2,52.0 L123.0,51.2 L123.9,51.4 L124.8,52.2 L125.7,53.0 L126.6,53.5 L127.8,55.9 L128.9,57.0 L129.8,56.0 L130.7,56.2 L131.5,56.5 L132.4,56.6 L133.3,56.5 L134.2,57.6 L135.0,57.2 L135.9,57.0 L136.8,55.9 L137.7,58.3 L138.5,58.7 L139.4,58.2 L140.2,58.4 L141.0,58.4 L141.8,58.9 L142.9,55.0 L144.1,52.4 L145.2,53.3 L146.4,53.5 L147.3,55.1 L148.2,56.3 L149.1,56.8 L150.0,58.2 L150.9,58.0 L151.8,56.3 L152.6,56.2 L153.5,54.7 L154.4,54.4 L155.3,54.0 L156.3,54.1 L157.2,53.4 L158.1,52.4 L158.9,52.5 L159.7,50.9 L160.5,51.2 L161.7,46.9 L162.8,44.2 L163.9,43.7 L165.1,43.0 L165.9,43.8 L166.7,44.5 L167.5,45.4 L168.7,46.8 L169.8,48.9 L170.9,50.0 L172.1,51.2 L173.0,50.1 L173.8,47.4 L174.7,45.8 L175.6,44.2 L176.4,43.3 L177.2,40.9 L178.0,39.5 L179.2,41.4 L180.3,44.2 L181.2,45.3 L182.1,45.7 L182.9,45.4 L183.8,46.5 L185.0,44.8 L186.2,44.2 L187.3,46.2 L188.5,47.7 L189.4,46.8 L190.2,47.3 L191.1,45.7 L192.0,45.4 L192.9,44.9 L193.8,46.3 L194.6,45.3 L195.5,46.5 L196.4,46.6 L197.2,47.1 L198.1,49.4 L199.0,50.0 L199.9,51.7 L200.8,53.7 L201.6,53.9 L202.5,55.9 L203.4,54.4 L204.2,54.1 L205.1,53.0 L206.0,52.4 L207.3,54.7 L208.5,52.4 L209.7,50.0 L210.8,46.6 L212.0,41.9 L213.2,45.9 L214.3,47.7 L215.2,48.3 L216.1,48.9 L216.9,48.9 L217.8,49.6 L219.0,48.7 L220.2,46.5 L221.1,46.3 L221.9,45.2 L222.8,44.4 L223.7,43.0 L224.6,44.1 L225.4,44.4 L226.3,44.0 L227.2,44.2 L228.3,46.8 L229.5,50.0 L230.3,49.1 L231.1,48.4 L231.9,47.7 L233.1,46.7 L234.2,44.9 L235.1,44.3 L235.9,44.5 L236.8,45.0 L237.7,45.4 L238.8,46.5 L240.0,48.9 L240.9,49.5 L241.8,49.8 L242.6,49.7 L243.5,50.0 L244.4,49.6 L245.2,50.3 L246.1,51.1 L247.0,51.2 L247.9,52.6 L248.8,53.0 L249.6,54.8 L250.5,54.7 L251.3,56.2 L252.1,56.3 L252.9,57.0 L253.8,55.6 L254.6,53.3 L255.5,53.0 L256.4,51.2 L257.3,49.7 L258.3,48.3 L259.2,46.5 L260.2,47.9 L261.2,50.2 L262.2,51.2 L263.2,52.1 L264.3,54.2 L265.3,54.7 L266.2,54.0 L267.2,54.8 L268.1,53.5 L269.0,53.1 L269.9,55.2 L270.7,56.5 L271.6,57.0 L272.8,52.9 L273.9,50.0 L274.8,48.4 L275.6,47.4 L276.5,46.1 L277.4,45.4 L278.5,42.7 L279.7,39.5 L280.5,41.5 L281.3,43.6 L282.1,45.4 L283.2,47.3 L284.4,50.0 L285.2,49.3 L286.0,47.8 L286.8,46.5 L287.7,43.7 L288.6,41.9 L289.5,49.6 L290.3,57.0 L291.2,57.0 L292.1,58.4 L292.9,57.4 L293.8,58.2 L294.8,56.4 L295.8,56.5 L296.8,54.7 L297.7,52.9 L298.7,52.8 L299.6,51.2 L301.2,43.0 L302.2,42.6 L303.3,42.3 L304.3,43.0 L305.5,46.5 L306.6,50.0 L307.5,49.8 L308.4,52.3 L309.2,52.6 L310.1,53.5 L311.0,55.1 L311.9,55.5 L312.7,56.2 L313.6,57.0 L314.5,55.6 L315.4,56.2 L316.2,55.1 L317.1,54.7 L318.0,54.5 L318.9,54.5 L319.7,56.1 L320.6,55.9 L321.8,54.1 L323.0,51.2 L323.9,50.2 L324.8,49.5 L325.6,49.5 L326.5,47.7 L327.6,45.7 L328.8,43.0 L329.8,52.1 L330.7,59.4 L331.5,53.0 L332.3,45.4 L333.5,44.6 L334.6,43.0 L335.5,42.8 L336.4,42.2 L337.2,42.3 L338.1,43.0 L339.3,49.5 L340.5,54.7 L341.6,55.7 L342.8,55.9 L344.0,54.8 L345.2,53.5 L346.4,51.6 L347.5,50.0 L348.4,50.5 L349.2,51.0 L350.1,50.1 L351.0,51.2 L351.9,51.6 L352.8,50.8 L353.6,51.9 L354.5,52.4 L355.4,51.6 L356.2,51.4 L357.1,50.6 L358.0,48.9 L358.9,49.1 L359.8,49.2 L360.6,47.5 L361.5,47.7 L362.6,47.8 L363.8,48.9" fill="none" stroke="#ef8232" stroke-width="1.3" stroke-linejoin="round"/>
<path d="M55.3,106.1 L56.1,105.0 L56.9,106.2 L57.7,106.6 L58.6,107.3 L59.5,107.8 L60.3,107.7 L61.2,109.5 L62.1,110.3 L63.0,111.0 L63.8,111.1 L64.7,111.4 L65.6,112.0 L66.6,111.3 L67.5,110.9 L68.5,111.2 L69.4,111.2 L70.6,109.3 L71.7,108.1 L72.6,108.0 L73.5,107.8 L74.3,106.8 L75.2,105.3 L76.1,105.2 L77.0,105.3 L77.8,105.2 L78.7,104.4 L79.8,107.1 L81.0,111.1 L81.8,113.4 L82.6,114.0 L83.4,115.3 L84.3,113.8 L85.2,113.6 L86.0,113.1 L86.9,112.3 L87.8,111.6 L88.7,113.1 L89.5,111.7 L90.4,112.3 L91.3,110.1 L92.2,109.2 L93.0,106.7 L93.9,104.9 L94.8,105.1 L95.7,105.4 L96.5,105.2 L97.4,105.0 L98.3,105.0 L99.2,106.1 L100.0,106.2 L100.9,105.5 L101.8,107.2 L102.7,109.3 L103.5,110.3 L104.4,111.3 L105.3,111.8 L106.2,110.8 L107.0,110.8 L107.9,110.0 L108.8,101.0 L109.7,100.7 L110.5,100.6 L111.4,100.2 L112.6,100.2 L113.7,100.7 L114.8,100.3 L116.0,99.1 L116.8,102.7 L117.7,102.4 L118.7,102.0 L119.7,102.5 L120.7,103.2 L121.6,102.7 L122.5,104.5 L123.4,105.2 L124.3,104.6 L125.2,103.7 L126.0,102.2 L126.9,99.1 L127.8,98.2 L128.9,98.0 L130.1,98.4 L131.0,97.8 L131.8,98.3 L132.7,97.0 L133.6,97.6 L134.8,98.4 L135.9,98.3 L136.7,98.8 L137.5,97.3 L138.3,98.1 L139.2,97.2 L140.1,97.4 L140.9,97.1 L141.8,95.6 L142.9,99.2 L144.1,104.3 L145.0,103.7 L145.8,103.6 L146.7,103.3 L147.6,103.2 L148.5,103.3 L149.3,103.3 L150.2,103.5 L151.1,105.5 L152.0,105.4 L153.0,107.0 L153.9,105.9 L154.9,106.3 L155.8,106.4 L156.7,106.8 L157.7,107.6 L158.6,107.5 L159.6,109.5 L160.5,110.0 L161.4,110.5 L162.2,110.5 L163.1,111.2 L164.0,111.4 L164.9,111.4 L165.8,110.9 L166.6,110.1 L167.5,108.7 L168.4,108.6 L169.3,109.9 L170.3,108.7 L171.2,108.9 L172.1,108.8 L173.0,109.2 L174.0,109.4 L174.9,109.6 L175.9,109.7 L176.8,110.4 L177.7,112.4 L178.7,111.0 L179.6,111.0 L180.6,112.9 L181.5,112.8 L182.4,112.9 L183.4,111.9 L184.3,112.4 L185.3,110.7 L186.2,111.5 L187.1,111.3 L187.9,110.9 L188.8,112.4 L189.7,111.7 L190.6,110.0 L191.4,109.3 L192.3,108.2 L193.2,107.6 L194.1,108.4 L195.0,109.1 L196.0,109.1 L196.9,109.2 L197.8,109.6 L198.7,108.6 L199.6,110.1 L200.4,109.6 L201.3,108.6 L202.2,101.4 L203.0,97.4 L204.0,98.8 L205.0,100.3 L206.0,102.4 L206.8,103.8 L207.7,104.6 L208.5,102.8 L210.1,111.0 L210.9,112.5 L211.8,111.4 L212.6,110.9 L213.5,110.9 L214.3,109.9 L215.2,110.3 L216.2,109.1 L217.1,109.5 L218.1,108.5 L219.0,108.8 L219.9,109.0 L220.9,108.1 L221.8,109.6 L222.8,111.0 L223.7,110.3 L224.6,110.3 L225.6,111.2 L226.5,111.3 L227.5,112.1 L228.4,110.9 L229.3,111.4 L230.2,110.9 L231.2,111.7 L232.1,113.2 L233.0,112.3 L233.9,112.7 L234.8,112.1 L235.6,111.7 L236.5,112.3 L237.3,109.7 L238.1,108.8 L238.9,108.7 L239.8,109.1 L240.7,108.6 L241.7,109.8 L242.6,109.6 L243.5,109.6 L244.4,107.5 L245.4,107.5 L246.3,106.4 L247.3,105.9 L248.2,105.1 L249.1,104.5 L250.1,104.8 L251.0,103.8 L252.0,104.0 L252.9,103.9 L253.8,105.1 L254.8,106.1 L255.7,105.7 L256.7,106.9 L257.6,108.0 L258.5,109.0 L259.4,108.2 L260.2,107.5 L261.1,105.6 L262.0,104.1 L262.9,102.9 L263.9,100.8 L264.8,100.8 L265.7,99.1 L266.6,99.6 L267.4,100.4 L268.3,99.6 L269.2,101.2 L270.2,100.5 L271.3,98.4 L272.3,96.1 L273.9,104.4 L274.8,106.1 L275.6,107.8 L276.5,108.3 L277.4,109.4 L278.3,111.1 L279.1,110.4 L280.0,111.9 L280.9,113.2 L281.8,112.6 L282.6,112.2 L283.5,109.7 L284.4,110.1 L285.3,110.7 L286.1,109.9 L287.0,110.0 L287.9,105.7 L288.8,99.3 L289.6,97.0 L291.0,97.7 L292.0,97.1 L292.9,97.1 L293.9,97.2 L294.9,98.0 L295.7,97.7 L296.5,97.8 L297.3,97.5 L298.5,105.5 L299.6,111.1 L300.5,110.6 L301.4,111.3 L302.2,110.0 L303.1,109.1 L304.2,103.5 L305.4,98.5 L306.6,99.1 L307.5,99.0 L308.4,97.1 L309.2,98.0 L310.1,97.7 L311.0,97.3 L311.9,98.0 L312.7,99.2 L313.6,98.6 L314.5,99.5 L315.4,103.8 L316.2,105.0 L317.1,105.4 L318.0,105.3 L318.9,105.1 L319.7,104.1 L320.6,103.1 L321.8,105.2 L323.0,107.1 L324.1,111.5 L325.3,118.2 L326.3,119.6 L327.3,119.1 L328.3,118.0 L329.1,114.2 L330.0,111.3 L330.8,110.9 L331.6,109.2 L332.3,111.8 L333.2,111.9 L334.1,113.2 L334.9,112.2 L335.8,112.8 L337.0,113.3 L338.1,104.7 L339.1,95.9 L340.0,92.0 L340.9,94.8 L341.9,93.9 L342.8,94.6 L344.0,93.8 L345.2,92.0 L346.3,97.6 L347.2,104.0 L348.1,105.2 L348.9,104.1 L349.8,103.9 L350.7,103.8 L351.7,104.1 L352.6,104.7 L353.6,105.2 L354.5,105.4 L355.4,105.6 L356.2,106.8 L357.1,108.5 L358.0,108.5 L358.8,109.8 L359.7,109.1 L360.5,109.0 L361.3,111.0 L362.1,110.6 L363.0,111.1 L363.8,111.5 L363.8,118.2 L363.0,119.0 L362.1,117.9 L361.3,119.6 L360.5,118.5 L359.7,119.2 L358.8,119.0 L358.0,118.8 L357.1,119.1 L356.2,117.5 L355.4,116.4 L354.5,115.6 L353.6,115.6 L352.6,114.7 L351.7,113.7 L350.7,113.4 L349.8,113.6 L348.9,113.8 L348.1,113.9 L347.2,113.9 L346.3,115.9 L345.2,106.2 L344.0,104.9 L342.8,105.4 L341.9,106.1 L340.9,105.2 L340.0,105.9 L339.1,115.3 L338.1,123.0 L337.0,120.3 L335.8,119.3 L334.9,119.1 L334.1,119.3 L333.2,118.2 L332.3,118.0 L331.6,115.7 L330.8,117.2 L330.0,118.8 L329.1,122.1 L328.3,124.5 L327.3,124.3 L326.3,125.2 L325.3,126.8 L324.1,121.7 L323.0,115.7 L321.8,113.3 L320.6,109.8 L319.7,110.1 L318.9,110.1 L318.0,109.9 L317.1,110.4 L316.2,109.8 L315.4,110.9 L314.5,115.6 L313.6,119.6 L312.7,120.2 L311.9,119.0 L311.0,118.3 L310.1,118.7 L309.2,119.0 L308.4,118.1 L307.5,120.0 L306.6,120.1 L305.4,119.5 L304.2,118.4 L303.1,117.5 L302.2,117.5 L301.4,118.8 L300.5,119.2 L299.6,121.3 L298.5,119.2 L297.3,116.8 L296.5,118.8 L295.7,118.7 L294.9,119.0 L293.9,118.2 L292.9,118.1 L292.0,118.1 L291.0,118.7 L289.6,125.8 L288.8,122.5 L287.9,118.9 L287.0,117.6 L286.1,117.3 L285.3,117.3 L284.4,117.5 L283.5,118.5 L282.6,120.4 L281.8,120.5 L280.9,121.4 L280.0,121.4 L279.1,119.3 L278.3,118.9 L277.4,118.1 L276.5,116.8 L275.6,117.5 L274.8,115.9 L273.9,118.3 L272.3,109.8 L271.3,108.8 L270.2,110.2 L269.2,110.4 L268.3,109.8 L267.4,110.1 L266.6,108.9 L265.7,109.2 L264.8,111.6 L263.9,110.7 L262.9,112.2 L262.0,112.5 L261.1,114.6 L260.2,114.7 L259.4,114.6 L258.5,114.7 L257.6,114.6 L256.7,114.3 L255.7,111.8 L254.8,111.7 L253.8,111.0 L252.9,109.8 L252.0,109.7 L251.0,110.4 L250.1,110.6 L249.1,111.6 L248.2,113.3 L247.3,114.1 L246.3,114.5 L245.4,115.0 L244.4,114.7 L243.5,116.0 L242.6,115.3 L241.7,115.4 L240.7,114.3 L239.8,113.7 L238.9,114.5 L238.1,115.1 L237.3,118.2 L236.5,120.0 L235.6,118.5 L234.8,117.4 L233.9,118.6 L233.0,117.8 L232.1,117.9 L231.2,117.4 L230.2,116.4 L229.3,116.2 L228.4,116.2 L227.5,116.8 L226.5,117.0 L225.6,116.3 L224.6,115.8 L223.7,116.6 L222.8,117.4 L221.8,116.4 L220.9,115.1 L219.9,115.4 L219.0,114.3 L218.1,114.5 L217.1,114.6 L216.2,114.9 L215.2,115.1 L214.3,115.1 L213.5,116.2 L212.6,117.0 L211.8,118.1 L210.9,119.8 L210.1,121.7 L208.5,112.7 L207.7,110.9 L206.8,111.2 L206.0,111.4 L205.0,110.2 L204.0,109.0 L203.0,108.7 L202.2,115.8 L201.3,119.4 L200.4,118.2 L199.6,119.0 L198.7,118.2 L197.8,117.5 L196.9,117.6 L196.0,118.0 L195.0,118.3 L194.1,118.7 L193.2,117.3 L192.3,117.9 L191.4,118.4 L190.6,119.3 L189.7,119.9 L188.8,119.4 L187.9,119.1 L187.1,117.9 L186.2,118.6 L185.3,118.3 L184.3,119.7 L183.4,118.8 L182.4,119.5 L181.5,119.2 L180.6,119.4 L179.6,118.6 L178.7,118.7 L177.7,119.7 L176.8,119.5 L175.9,117.8 L174.9,118.2 L174.0,117.0 L173.0,117.7 L172.1,116.6 L171.2,117.2 L170.3,118.4 L169.3,118.7 L168.4,117.7 L167.5,118.4 L166.6,119.9 L165.8,120.7 L164.9,120.7 L164.0,120.6 L163.1,121.5 L162.2,120.2 L161.4,120.7 L160.5,119.6 L159.6,119.5 L158.6,118.0 L157.7,117.0 L156.7,117.2 L155.8,116.4 L154.9,116.2 L153.9,115.3 L153.0,115.9 L152.0,114.8 L151.1,115.4 L150.2,114.5 L149.3,113.6 L148.5,113.5 L147.6,113.0 L146.7,113.5 L145.8,113.6 L145.0,113.1 L144.1,114.3 L142.9,111.0 L141.8,108.2 L140.9,107.1 L140.1,107.1 L139.2,108.7 L138.3,108.7 L137.5,107.3 L136.7,108.8 L135.9,109.6 L134.8,109.1 L133.6,107.6 L132.7,107.6 L131.8,108.8 L131.0,107.8 L130.1,109.0 L128.9,108.0 L127.8,108.6 L126.9,111.7 L126.0,113.9 L125.2,114.3 L124.3,115.2 L123.4,115.3 L122.5,115.5 L121.6,113.7 L120.7,112.8 L119.7,111.9 L118.7,109.7 L117.7,110.4 L116.8,117.3 L116.0,122.1 L114.8,123.3 L113.7,124.0 L112.6,123.8 L111.4,125.7 L110.5,124.8 L109.7,123.8 L108.8,121.6 L107.9,121.1 L107.0,118.6 L106.2,116.5 L105.3,117.0 L104.4,116.4 L103.5,115.6 L102.7,115.6 L101.8,114.4 L100.9,111.1 L100.0,110.7 L99.2,111.1 L98.3,110.4 L97.4,110.4 L96.5,109.8 L95.7,109.9 L94.8,109.6 L93.9,110.7 L93.0,113.6 L92.2,116.2 L91.3,117.2 L90.4,118.0 L89.5,117.8 L88.7,119.7 L87.8,118.9 L86.9,119.8 L86.0,120.4 L85.2,120.5 L84.3,120.7 L83.4,121.8 L82.6,121.6 L81.8,121.9 L81.0,121.0 L79.8,117.7 L78.7,113.6 L77.8,112.0 L77.0,112.6 L76.1,111.3 L75.2,111.8 L74.3,113.0 L73.5,113.1 L72.6,112.8 L71.7,114.3 L70.6,116.0 L69.4,116.5 L68.5,116.2 L67.5,116.0 L66.6,116.5 L65.6,117.9 L64.7,118.2 L63.8,117.8 L63.0,118.5 L62.1,118.2 L61.2,118.5 L60.3,117.6 L59.5,117.0 L58.6,117.1 L57.7,115.9 L56.9,116.8 L56.1,114.9 L55.3,114.3Z" fill="rgba(125,150,200,0.34)" stroke="none"/>
<path d="M55.3,106.6 L56.1,105.8 L56.9,107.4 L57.7,107.0 L58.6,108.1 L59.5,108.4 L60.3,108.8 L61.2,109.4 L62.1,110.8 L63.0,111.1 L63.8,110.7 L64.7,110.6 L65.6,110.3 L66.6,109.1 L67.5,108.7 L68.5,109.5 L69.4,109.3 L70.6,107.5 L71.7,106.2 L72.6,105.8 L73.5,106.9 L74.3,105.2 L75.2,106.1 L76.1,105.6 L77.0,105.0 L77.8,107.4 L78.7,106.9 L79.8,109.2 L81.0,111.5 L81.8,113.4 L82.6,113.5 L83.4,113.6 L84.3,112.3 L85.2,112.3 L86.0,112.4 L86.9,112.1 L87.8,111.4 L88.7,112.0 L89.5,110.1 L90.4,110.0 L91.3,109.0 L92.2,109.6 L93.0,107.6 L93.9,108.0 L94.8,108.3 L95.7,106.8 L96.5,106.9 L97.4,106.8 L98.3,106.9 L99.2,107.2 L100.0,106.4 L100.9,107.7 L101.8,107.2 L102.7,108.6 L103.5,108.1 L104.4,108.8 L105.3,109.8 L106.2,108.8 L107.0,110.2 L107.9,106.4 L108.8,99.6 L109.7,97.7 L110.5,97.2 L111.4,97.2 L112.6,97.5 L113.7,99.2 L114.8,98.8 L116.0,96.8 L116.8,100.1 L117.7,101.1 L118.7,101.0 L119.7,102.9 L120.7,103.8 L121.6,104.1 L122.5,105.8 L123.4,107.0 L124.3,106.9 L125.2,105.3 L126.0,105.0 L126.9,103.7 L127.8,102.5 L128.9,100.8 L130.1,100.2 L131.0,101.4 L131.8,101.2 L132.7,101.1 L133.6,102.5 L134.8,103.6 L135.9,106.8 L136.7,105.5 L137.5,103.7 L138.3,101.2 L139.2,101.2 L140.1,101.5 L140.9,101.6 L141.8,100.7 L142.9,102.6 L144.1,105.5 L145.0,104.8 L145.8,104.8 L146.7,104.5 L147.6,104.3 L148.5,104.7 L149.3,104.9 L150.2,104.8 L151.1,106.2 L152.0,106.8 L153.0,108.2 L153.9,108.1 L154.9,108.2 L155.8,107.9 L156.7,108.2 L157.7,108.1 L158.6,108.7 L159.6,110.7 L160.5,111.6 L161.4,113.0 L162.2,112.3 L163.1,113.5 L164.0,113.1 L164.9,112.7 L165.8,112.2 L166.6,111.9 L167.5,110.1 L168.4,109.8 L169.3,110.9 L170.3,110.9 L171.2,110.5 L172.1,110.2 L173.0,111.4 L174.0,111.1 L174.9,111.3 L175.9,111.2 L176.8,112.2 L177.7,113.2 L178.7,112.2 L179.6,111.9 L180.6,113.6 L181.5,113.0 L182.4,112.7 L183.4,111.6 L184.3,111.9 L185.3,110.8 L186.2,111.9 L187.1,112.3 L187.9,111.9 L188.8,112.7 L189.7,112.6 L190.6,111.2 L191.4,110.2 L192.3,110.2 L193.2,110.0 L194.1,110.3 L195.0,110.8 L196.0,110.1 L196.9,110.3 L197.8,110.8 L198.7,110.8 L199.6,112.3 L200.4,111.0 L201.3,109.8 L202.2,103.5 L203.0,99.4 L204.0,100.4 L205.0,101.3 L206.0,103.5 L206.8,105.3 L207.7,105.9 L208.5,103.5 L210.1,111.4 L210.9,113.4 L211.8,112.3 L212.6,111.5 L213.5,110.9 L214.3,110.0 L215.2,110.5 L216.2,109.6 L217.1,109.8 L218.1,108.6 L219.0,108.6 L219.9,109.1 L220.9,108.5 L221.8,109.5 L222.8,110.8 L223.7,109.9 L224.6,109.5 L225.6,110.5 L226.5,110.4 L227.5,110.2 L228.4,109.6 L229.3,110.2 L230.2,110.4 L231.2,110.6 L232.1,111.5 L233.0,111.2 L233.9,112.3 L234.8,111.1 L235.6,111.6 L236.5,113.0 L237.3,110.1 L238.1,108.2 L238.9,107.4 L239.8,107.9 L240.7,107.1 L241.7,108.0 L242.6,108.1 L243.5,108.0 L244.4,107.0 L245.4,106.8 L246.3,105.5 L247.3,105.5 L248.2,105.1 L249.1,104.6 L250.1,103.8 L251.0,103.0 L252.0,102.8 L252.9,102.3 L253.8,103.1 L254.8,104.5 L255.7,104.2 L256.7,106.2 L257.6,106.8 L258.5,107.7 L259.4,106.6 L260.2,106.7 L261.1,105.4 L262.0,103.1 L262.9,103.2 L263.9,101.5 L264.8,102.1 L265.7,100.5 L266.6,100.5 L267.4,101.1 L268.3,100.8 L269.2,101.1 L270.2,100.0 L271.3,98.6 L272.3,96.9 L273.9,105.5 L274.8,106.9 L275.6,108.3 L276.5,108.7 L277.4,109.7 L278.3,111.3 L279.1,111.0 L280.0,111.4 L280.9,113.1 L281.8,112.5 L282.6,112.0 L283.5,109.2 L284.4,109.9 L285.3,110.1 L286.1,110.0 L287.0,110.9 L287.9,109.8 L288.8,112.7 L289.6,112.7 L291.0,99.4 L292.0,102.0 L292.9,103.2 L293.9,103.1 L294.9,102.9 L295.7,104.1 L296.5,105.3 L297.3,107.8 L298.5,109.2 L299.6,109.1 L300.5,110.8 L301.4,110.9 L302.2,111.2 L303.1,112.1 L304.2,113.0 L305.4,109.6 L306.6,101.0 L307.5,102.1 L308.4,102.3 L309.2,102.2 L310.1,102.1 L311.0,102.3 L311.9,101.7 L312.7,101.4 L313.6,101.7 L314.5,102.3 L315.4,101.8 L316.2,103.6 L317.1,103.9 L318.0,103.7 L318.9,102.9 L319.7,102.3 L320.6,101.9 L321.8,100.9 L323.0,95.2 L324.1,96.0 L325.3,96.0 L326.3,95.9 L327.3,96.2 L328.3,95.3 L329.1,93.9 L330.0,89.9 L330.8,91.9 L331.6,88.9 L332.3,98.0 L333.2,106.7 L334.1,110.2 L334.9,109.9 L335.8,110.5 L337.0,111.5 L338.1,111.4 L339.1,102.2 L340.0,95.2 L340.9,97.3 L341.9,98.1 L342.8,97.9 L344.0,99.7 L345.2,96.4 L346.3,111.2 L347.2,110.6 L348.1,110.1 L348.9,108.4 L349.8,107.7 L350.7,107.9 L351.7,108.0 L352.6,107.6 L353.6,107.2 L354.5,106.9 L355.4,107.8 L356.2,108.7 L357.1,110.2 L358.0,110.2 L358.8,110.1 L359.7,109.7 L360.5,109.2 L361.3,110.5 L362.1,109.7 L363.0,110.4 L363.8,110.3 L363.8,119.1 L363.0,119.0 L362.1,118.6 L361.3,119.2 L360.5,118.0 L359.7,118.6 L358.8,117.9 L358.0,116.8 L357.1,116.8 L356.2,116.6 L355.4,116.6 L354.5,115.5 L353.6,115.1 L352.6,114.7 L351.7,114.2 L350.7,113.3 L349.8,112.3 L348.9,115.1 L348.1,116.9 L347.2,118.6 L346.3,122.8 L345.2,107.4 L344.0,104.4 L342.8,103.5 L341.9,103.8 L340.9,104.0 L340.0,106.2 L339.1,115.2 L338.1,122.6 L337.0,119.4 L335.8,118.9 L334.9,118.8 L334.1,118.7 L333.2,119.1 L332.3,122.6 L331.6,122.2 L330.8,122.4 L330.0,121.4 L329.1,120.9 L328.3,122.3 L327.3,123.2 L326.3,122.9 L325.3,123.0 L324.1,123.0 L323.0,122.2 L321.8,114.3 L320.6,111.1 L319.7,110.9 L318.9,111.3 L318.0,111.0 L317.1,111.5 L316.2,111.1 L315.4,109.7 L314.5,110.0 L313.6,109.1 L312.7,109.8 L311.9,111.0 L311.0,111.2 L310.1,110.9 L309.2,110.0 L308.4,110.6 L307.5,111.5 L306.6,114.4 L305.4,122.2 L304.2,120.4 L303.1,119.7 L302.2,118.3 L301.4,117.0 L300.5,117.3 L299.6,115.7 L298.5,115.4 L297.3,114.6 L296.5,112.5 L295.7,112.2 L294.9,110.1 L293.9,109.4 L292.9,109.4 L292.0,108.8 L291.0,111.4 L289.6,123.7 L288.8,120.5 L287.9,117.2 L287.0,116.8 L286.1,117.0 L285.3,117.3 L284.4,117.1 L283.5,118.3 L282.6,119.9 L281.8,119.9 L280.9,120.9 L280.0,120.8 L279.1,118.8 L278.3,118.7 L277.4,117.3 L276.5,116.5 L275.6,116.0 L274.8,115.2 L273.9,116.9 L272.3,109.1 L271.3,108.4 L270.2,109.8 L269.2,109.7 L268.3,108.6 L267.4,109.1 L266.6,107.5 L265.7,107.9 L264.8,109.5 L263.9,110.1 L262.9,112.1 L262.0,113.0 L261.1,114.6 L260.2,114.8 L259.4,115.4 L258.5,115.3 L257.6,115.6 L256.7,115.0 L255.7,113.0 L254.8,112.5 L253.8,112.5 L252.9,110.7 L252.0,110.7 L251.0,110.9 L250.1,111.0 L249.1,111.3 L248.2,112.7 L247.3,113.7 L246.3,114.6 L245.4,115.3 L244.4,115.2 L243.5,116.8 L242.6,116.7 L241.7,117.0 L240.7,115.2 L239.8,114.8 L238.9,115.0 L238.1,115.8 L237.3,117.3 L236.5,118.8 L235.6,118.3 L234.8,118.3 L233.9,119.0 L233.0,118.2 L232.1,118.9 L231.2,117.5 L230.2,116.8 L229.3,117.5 L228.4,117.4 L227.5,117.9 L226.5,117.1 L225.6,116.8 L224.6,116.0 L223.7,117.1 L222.8,116.8 L221.8,116.3 L220.9,114.1 L219.9,115.0 L219.0,113.8 L218.1,113.6 L217.1,113.7 L216.2,113.7 L215.2,114.9 L214.3,114.8 L213.5,115.6 L212.6,115.8 L211.8,117.0 L210.9,118.3 L210.1,120.4 L208.5,111.9 L207.7,109.6 L206.8,109.6 L206.0,109.5 L205.0,108.4 L204.0,106.5 L203.0,106.6 L202.2,113.7 L201.3,117.2 L200.4,116.1 L199.6,116.2 L198.7,115.5 L197.8,116.2 L196.9,116.2 L196.0,116.8 L195.0,116.4 L194.1,116.2 L193.2,114.8 L192.3,115.8 L191.4,116.7 L190.6,117.8 L189.7,119.2 L188.8,118.3 L187.9,118.0 L187.1,117.0 L186.2,117.5 L185.3,117.6 L184.3,119.5 L183.4,119.2 L182.4,119.5 L181.5,118.8 L180.6,118.7 L179.6,117.5 L178.7,117.1 L177.7,117.8 L176.8,117.2 L175.9,116.5 L174.9,115.9 L174.0,115.5 L173.0,115.5 L172.1,114.6 L171.2,115.1 L170.3,116.3 L169.3,116.8 L168.4,116.5 L167.5,116.9 L166.6,117.7 L165.8,118.5 L164.9,118.5 L164.0,118.7 L163.1,118.3 L162.2,117.9 L161.4,117.8 L160.5,117.8 L159.6,118.3 L158.6,116.5 L157.7,115.9 L156.7,114.9 L155.8,114.5 L154.9,114.0 L153.9,112.9 L153.0,114.2 L152.0,113.2 L151.1,113.8 L150.2,113.0 L149.3,111.8 L148.5,112.2 L147.6,111.1 L146.7,111.7 L145.8,112.2 L145.0,111.5 L144.1,112.3 L142.9,111.3 L141.8,107.7 L140.9,107.6 L140.1,108.1 L139.2,109.0 L138.3,109.6 L137.5,111.8 L136.7,112.1 L135.9,113.2 L134.8,111.6 L133.6,110.5 L132.7,109.2 L131.8,109.1 L131.0,109.8 L130.1,108.2 L128.9,109.6 L127.8,110.5 L126.9,110.9 L126.0,111.1 L125.2,112.6 L124.3,113.1 L123.4,113.1 L122.5,113.2 L121.6,111.5 L120.7,111.6 L119.7,111.6 L118.7,110.6 L117.7,108.7 L116.8,113.0 L116.0,114.8 L114.8,116.8 L113.7,117.2 L112.6,116.7 L111.4,118.4 L110.5,118.4 L109.7,118.1 L108.8,118.5 L107.9,117.6 L107.0,118.3 L106.2,117.3 L105.3,118.1 L104.4,118.2 L103.5,116.9 L102.7,117.3 L101.8,114.8 L100.9,114.7 L100.0,114.4 L99.2,113.9 L98.3,113.2 L97.4,113.2 L96.5,114.5 L95.7,115.5 L94.8,116.7 L93.9,116.8 L93.0,117.2 L92.2,118.5 L91.3,118.1 L90.4,119.4 L89.5,119.5 L88.7,120.0 L87.8,118.6 L86.9,119.7 L86.0,120.6 L85.2,121.3 L84.3,121.4 L83.4,122.8 L82.6,121.8 L81.8,121.1 L81.0,120.3 L79.8,118.7 L78.7,115.5 L77.8,116.0 L77.0,114.7 L76.1,114.1 L75.2,113.9 L74.3,114.5 L73.5,115.3 L72.6,114.6 L71.7,116.2 L70.6,117.5 L69.4,117.7 L68.5,117.6 L67.5,117.7 L66.6,118.5 L65.6,118.7 L64.7,118.8 L63.8,118.2 L63.0,118.1 L62.1,117.8 L61.2,117.6 L60.3,116.1 L59.5,116.3 L58.6,115.9 L57.7,115.4 L56.9,114.8 L56.1,113.9 L55.3,113.4Z" fill="rgba(245,172,125,0.40)" stroke="none"/>
<path d="M55.3,110.2 L56.1,110.0 L56.9,111.5 L57.7,111.3 L58.6,112.2 L59.5,112.4 L60.3,112.6 L61.2,114.0 L62.1,114.2 L63.0,114.8 L63.8,114.5 L64.7,114.8 L65.6,115.0 L66.6,113.9 L67.5,113.4 L68.5,113.7 L69.4,113.8 L70.6,112.7 L71.7,111.2 L72.6,110.4 L73.5,110.5 L74.3,109.9 L75.2,108.6 L76.1,108.2 L77.0,109.0 L77.8,108.6 L78.7,109.0 L79.8,112.4 L81.0,116.0 L81.8,117.6 L82.6,117.8 L83.4,118.6 L84.3,117.2 L85.2,117.0 L86.0,116.8 L86.9,116.0 L87.8,115.3 L88.7,116.4 L89.5,114.7 L90.4,115.2 L91.3,113.7 L92.2,112.7 L93.0,110.1 L93.9,107.8 L94.8,107.3 L95.7,107.6 L96.5,107.5 L97.4,107.7 L98.3,107.7 L99.2,108.6 L100.0,108.5 L100.9,108.3 L101.8,110.8 L102.7,112.4 L103.5,113.0 L104.4,113.8 L105.3,114.4 L106.2,113.6 L107.0,114.7 L107.9,116.6 L108.8,116.8 L109.7,119.4 L110.5,120.8 L111.4,121.2 L112.6,119.4 L113.7,118.5 L114.8,114.6 L116.0,110.5 L116.8,108.3 L117.7,106.4 L118.7,105.9 L119.7,107.2 L120.7,108.0 L121.6,108.2 L122.5,110.0 L123.4,110.3 L124.3,109.9 L125.2,109.0 L126.0,108.0 L126.9,105.7 L127.8,103.4 L128.9,102.9 L130.1,102.5 L131.0,102.3 L131.8,102.5 L132.7,102.8 L133.6,102.9 L134.8,104.6 L135.9,105.5 L136.7,103.6 L137.5,103.2 L138.3,102.5 L139.2,101.2 L140.1,100.9 L140.9,101.1 L141.8,100.5 L142.9,105.1 L144.1,109.3 L145.0,108.4 L145.8,108.6 L146.7,108.4 L147.6,108.1 L148.5,108.4 L149.3,108.4 L150.2,109.0 L151.1,110.4 L152.0,110.1 L153.0,111.5 L153.9,110.6 L154.9,111.2 L155.8,111.4 L156.7,112.0 L157.7,112.3 L158.6,112.7 L159.6,114.5 L160.5,114.8 L161.4,115.6 L162.2,115.4 L163.1,116.4 L164.0,116.0 L164.9,116.0 L165.8,115.8 L166.6,115.0 L167.5,113.5 L168.4,113.2 L169.3,114.3 L170.3,113.6 L171.2,113.1 L172.1,112.7 L173.0,113.5 L174.0,113.2 L174.9,113.9 L175.9,113.8 L176.8,114.9 L177.7,116.0 L178.7,114.8 L179.6,114.8 L180.6,116.1 L181.5,116.0 L182.4,116.2 L183.4,115.4 L184.3,116.0 L185.3,114.5 L186.2,115.0 L187.1,114.6 L187.9,115.0 L188.8,115.9 L189.7,115.8 L190.6,114.6 L191.4,113.9 L192.3,113.1 L193.2,112.4 L194.1,113.5 L195.0,113.7 L196.0,113.6 L196.9,113.4 L197.8,113.6 L198.7,113.4 L199.6,114.6 L200.4,113.9 L201.3,114.0 L202.2,108.6 L203.0,103.1 L204.0,103.9 L205.0,105.3 L206.0,106.9 L206.8,107.5 L207.7,107.7 L208.5,107.8 L210.1,116.3 L210.9,116.2 L211.8,114.8 L212.6,114.0 L213.5,113.6 L214.3,112.5 L215.2,112.7 L216.2,112.0 L217.1,112.1 L218.1,111.5 L219.0,111.5 L219.9,112.2 L220.9,111.6 L221.8,113.0 L222.8,114.2 L223.7,113.5 L224.6,113.1 L225.6,113.8 L226.5,114.2 L227.5,114.4 L228.4,113.5 L229.3,113.8 L230.2,113.6 L231.2,114.5 L232.1,115.6 L233.0,115.0 L233.9,115.7 L234.8,114.7 L235.6,115.1 L236.5,116.1 L237.3,114.0 L238.1,111.9 L238.9,111.6 L239.8,111.4 L240.7,111.4 L241.7,112.6 L242.6,112.5 L243.5,112.8 L244.4,111.1 L245.4,111.3 L246.3,110.4 L247.3,110.0 L248.2,109.2 L249.1,108.0 L250.1,107.7 L251.0,107.1 L252.0,106.9 L252.9,106.9 L253.8,108.1 L254.8,108.9 L255.7,108.7 L256.7,110.6 L257.6,111.3 L258.5,111.8 L259.4,111.4 L260.2,111.1 L261.1,110.1 L262.0,108.3 L262.9,107.6 L263.9,105.8 L264.8,106.2 L265.7,104.2 L266.6,104.3 L267.4,105.2 L268.3,104.7 L269.2,105.8 L270.2,105.3 L271.3,103.6 L272.3,103.0 L273.9,111.4 L274.8,111.0 L275.6,112.6 L276.5,112.5 L277.4,113.7 L278.3,115.0 L279.1,114.8 L280.0,116.6 L280.9,117.3 L281.8,116.5 L282.6,116.3 L283.5,114.1 L284.4,113.8 L285.3,114.0 L286.1,113.6 L287.0,113.8 L287.9,113.8 L288.8,116.9 L289.6,118.5 L291.0,105.7 L292.0,105.3 L292.9,106.3 L293.9,104.5 L294.9,104.5 L295.7,104.7 L296.5,106.4 L297.3,108.0 L298.5,112.5 L299.6,116.2 L300.5,114.9 L301.4,115.0 L302.2,113.8 L303.1,113.3 L304.2,112.6 L305.4,112.4 L306.6,109.6 L307.5,109.5 L308.4,109.2 L309.2,108.9 L310.1,108.6 L311.0,108.6 L311.9,108.1 L312.7,107.9 L313.6,107.5 L314.5,107.6 L315.4,107.3 L316.2,107.4 L317.1,107.9 L318.0,107.6 L318.9,107.6 L319.7,107.1 L320.6,106.5 L321.8,109.2 L323.0,111.4 L324.1,116.6 L325.3,122.5 L326.3,122.4 L327.3,121.7 L328.3,121.3 L329.1,118.1 L330.0,115.1 L330.8,114.1 L331.6,112.4 L332.3,114.9 L333.2,115.0 L334.1,116.3 L334.9,115.7 L335.8,116.0 L337.0,116.8 L338.1,117.2 L339.1,108.4 L340.0,97.8 L340.9,99.0 L341.9,98.5 L342.8,98.7 L344.0,98.3 L345.2,98.8 L346.3,109.6 L347.2,110.1 L348.1,109.6 L348.9,108.9 L349.8,108.8 L350.7,108.6 L351.7,108.9 L352.6,109.7 L353.6,110.4 L354.5,110.5 L355.4,111.0 L356.2,112.2 L357.1,113.8 L358.0,113.7 L358.8,114.4 L359.7,114.2 L360.5,113.7 L361.3,115.3 L362.1,114.2 L363.0,115.0 L363.8,114.9" fill="none" stroke="#2373b3" stroke-width="1.2" stroke-linejoin="round"/>
<path d="M55.3,110.0 L56.1,109.9 L56.9,111.1 L57.7,111.2 L58.6,112.0 L59.5,112.3 L60.3,112.5 L61.2,113.5 L62.1,114.3 L63.0,114.6 L63.8,114.4 L64.7,114.7 L65.6,114.5 L66.6,113.8 L67.5,113.2 L68.5,113.5 L69.4,113.5 L70.6,112.5 L71.7,111.2 L72.6,110.2 L73.5,111.1 L74.3,109.9 L75.2,110.0 L76.1,109.9 L77.0,109.9 L77.8,111.7 L78.7,111.2 L79.8,113.9 L81.0,115.9 L81.8,117.3 L82.6,117.6 L83.4,118.2 L84.3,116.9 L85.2,116.8 L86.0,116.5 L86.9,115.9 L87.8,115.0 L88.7,116.0 L89.5,114.8 L90.4,114.7 L91.3,113.6 L92.2,114.1 L93.0,112.4 L93.9,112.4 L94.8,112.5 L95.7,111.1 L96.5,110.7 L97.4,110.0 L98.3,110.0 L99.2,110.6 L100.0,110.4 L100.9,111.2 L101.8,111.0 L102.7,112.9 L103.5,112.5 L104.4,113.5 L105.3,113.9 L106.2,113.0 L107.0,114.3 L107.9,113.5 L108.8,114.1 L109.7,113.9 L110.5,113.9 L111.4,113.5 L112.6,111.3 L113.7,108.9 L114.8,108.7 L116.0,107.7 L116.8,105.7 L117.7,104.9 L118.7,105.8 L119.7,107.3 L120.7,107.7 L121.6,107.8 L122.5,109.5 L123.4,110.0 L124.3,110.0 L125.2,109.0 L126.0,108.0 L126.9,107.3 L127.8,106.5 L128.9,105.2 L130.1,104.2 L131.0,105.6 L131.8,105.2 L132.7,105.2 L133.6,106.5 L134.8,107.6 L135.9,110.0 L136.7,108.8 L137.5,107.7 L138.3,105.4 L139.2,105.1 L140.1,104.8 L140.9,104.6 L141.8,104.2 L142.9,106.9 L144.1,108.9 L145.0,108.2 L145.8,108.5 L146.7,108.1 L147.6,107.7 L148.5,108.5 L149.3,108.3 L150.2,108.9 L151.1,110.0 L152.0,110.0 L153.0,111.2 L153.9,110.5 L154.9,111.1 L155.8,111.2 L156.7,111.6 L157.7,112.0 L158.6,112.6 L159.6,114.5 L160.5,114.7 L161.4,115.4 L162.2,115.1 L163.1,115.9 L164.0,115.9 L164.9,115.6 L165.8,115.3 L166.6,114.8 L167.5,113.5 L168.4,113.1 L169.3,113.8 L170.3,113.6 L171.2,112.8 L172.1,112.4 L173.0,113.5 L174.0,113.3 L174.9,113.6 L175.9,113.8 L176.8,114.7 L177.7,115.5 L178.7,114.6 L179.6,114.7 L180.6,116.1 L181.5,115.9 L182.4,116.1 L183.4,115.4 L184.3,115.7 L185.3,114.2 L186.2,114.7 L187.1,114.6 L187.9,115.0 L188.8,115.5 L189.7,115.9 L190.6,114.5 L191.4,113.5 L192.3,113.0 L193.2,112.4 L194.1,113.3 L195.0,113.6 L196.0,113.5 L196.9,113.2 L197.8,113.5 L198.7,113.1 L199.6,114.2 L200.4,113.5 L201.3,113.5 L202.2,108.6 L203.0,103.0 L204.0,103.4 L205.0,104.9 L206.0,106.5 L206.8,107.4 L207.7,107.8 L208.5,107.7 L210.1,115.9 L210.9,115.8 L211.8,114.7 L212.6,113.7 L213.5,113.2 L214.3,112.4 L215.2,112.7 L216.2,111.6 L217.1,111.7 L218.1,111.1 L219.0,111.2 L219.9,112.1 L220.9,111.3 L221.8,112.9 L222.8,113.8 L223.7,113.5 L224.6,112.7 L225.6,113.6 L226.5,113.7 L227.5,114.1 L228.4,113.5 L229.3,113.9 L230.2,113.6 L231.2,114.1 L232.1,115.2 L233.0,114.7 L233.9,115.6 L234.8,114.7 L235.6,115.0 L236.5,115.9 L237.3,113.7 L238.1,112.0 L238.9,111.2 L239.8,111.4 L240.7,111.1 L241.7,112.5 L242.6,112.4 L243.5,112.4 L244.4,111.1 L245.4,111.1 L246.3,110.0 L247.3,109.6 L248.2,108.9 L249.1,108.0 L250.1,107.4 L251.0,107.0 L252.0,106.8 L252.9,106.5 L253.8,107.8 L254.8,108.5 L255.7,108.6 L256.7,110.6 L257.6,111.2 L258.5,111.5 L259.4,111.0 L260.2,110.8 L261.1,110.0 L262.0,108.1 L262.9,107.6 L263.9,105.8 L264.8,105.8 L265.7,104.2 L266.6,104.0 L267.4,105.1 L268.3,104.7 L269.2,105.4 L270.2,104.9 L271.3,103.5 L272.3,103.0 L273.9,111.2 L274.8,111.0 L275.6,112.2 L276.5,112.6 L277.4,113.5 L278.3,115.0 L279.1,114.9 L280.0,116.1 L280.9,117.0 L281.8,116.2 L282.6,116.0 L283.5,113.7 L284.4,113.5 L285.3,113.7 L286.1,113.5 L287.0,113.9 L287.9,113.5 L288.8,116.6 L289.6,118.2 L291.0,105.4 L292.0,105.4 L292.9,106.3 L293.9,106.3 L294.9,106.5 L295.7,108.2 L296.5,108.9 L297.3,111.2 L298.5,112.3 L299.6,112.4 L300.5,114.0 L301.4,113.9 L302.2,114.7 L303.1,115.9 L304.2,116.7 L305.4,115.9 L306.6,107.7 L307.5,106.8 L308.4,106.4 L309.2,106.1 L310.1,106.5 L311.0,106.7 L311.9,106.4 L312.7,105.6 L313.6,105.4 L314.5,106.2 L315.4,105.8 L316.2,107.4 L317.1,107.7 L318.0,107.3 L318.9,107.1 L319.7,106.6 L320.6,106.5 L321.8,107.5 L323.0,108.9 L324.1,110.2 L325.3,112.4 L326.3,111.3 L327.3,111.5 L328.3,111.2 L329.1,103.2 L330.0,96.0 L330.8,96.3 L331.6,96.0 L332.3,113.5 L333.2,114.3 L334.1,114.5 L334.9,114.3 L335.8,114.7 L337.0,115.4 L338.1,117.0 L339.1,108.7 L340.0,100.7 L340.9,100.7 L341.9,100.9 L342.8,100.7 L344.0,102.0 L345.2,101.9 L346.3,117.0 L347.2,114.6 L348.1,113.5 L348.9,111.7 L349.8,110.0 L350.7,110.6 L351.7,111.1 L352.6,111.2 L353.6,111.2 L354.5,111.2 L355.4,112.2 L356.2,112.6 L357.1,113.5 L358.0,113.5 L358.8,114.0 L359.7,114.1 L360.5,113.6 L361.3,114.9 L362.1,114.2 L363.0,114.7 L363.8,114.7" fill="none" stroke="#ef8232" stroke-width="1.3" stroke-linejoin="round"/>
<path d="M55.3,166.2 L56.2,164.2 L57.0,164.0 L57.9,163.7 L58.8,163.3 L59.7,161.8 L60.6,161.4 L61.5,161.3 L62.4,160.0 L63.3,159.8 L64.2,159.0 L65.0,159.3 L65.9,158.6 L66.8,158.5 L67.7,159.7 L68.5,160.4 L69.4,161.4 L70.6,158.2 L71.7,155.7 L72.8,158.6 L74.0,165.5 L74.9,166.3 L75.8,166.3 L76.6,166.1 L77.5,165.4 L78.4,164.3 L79.2,162.1 L80.1,162.8 L81.0,161.5 L82.0,157.4 L82.9,154.3 L83.8,155.7 L84.8,156.4 L85.7,157.0 L86.8,157.8 L88.0,158.6 L88.9,157.3 L89.9,155.2 L90.8,155.0 L91.8,156.5 L92.9,159.3 L93.9,161.1 L94.8,162.5 L95.7,162.9 L96.5,164.1 L97.4,163.9 L98.3,165.2 L99.2,166.1 L100.0,166.8 L100.9,168.9 L101.8,167.0 L102.7,167.1 L103.5,167.1 L104.4,167.7 L105.6,163.7 L106.7,159.3 L107.6,149.9 L108.6,145.3 L109.5,142.8 L110.5,146.5 L111.4,147.1 L112.6,145.6 L113.7,146.6 L114.8,145.6 L116.0,147.1 L116.8,156.0 L117.6,169.5 L118.4,172.1 L119.3,173.3 L120.2,173.0 L121.0,171.7 L121.9,171.3 L122.8,172.1 L123.7,170.7 L124.5,171.4 L125.4,171.4 L126.3,172.1 L127.2,172.5 L128.0,172.3 L128.9,174.8 L129.8,173.6 L130.7,173.7 L131.5,172.0 L132.4,172.4 L133.2,170.8 L134.0,170.4 L134.8,169.1 L135.9,170.0 L137.1,172.2 L138.2,173.7 L139.4,175.9 L140.2,175.2 L141.0,174.8 L141.8,174.7 L142.9,170.9 L144.1,168.4 L145.0,168.7 L145.8,170.0 L146.7,171.4 L147.6,171.8 L148.5,170.6 L149.3,170.8 L150.2,170.3 L151.1,170.7 L152.0,169.4 L152.8,167.2 L153.7,165.2 L154.6,164.5 L155.5,164.8 L156.3,163.6 L157.2,163.2 L158.1,163.5 L159.0,163.4 L159.8,162.4 L160.7,161.3 L161.6,160.4 L162.4,157.9 L163.2,156.3 L164.0,155.1 L165.2,155.6 L166.3,160.5 L167.2,162.3 L168.1,161.2 L168.9,161.5 L169.8,161.4 L170.7,161.3 L171.6,161.8 L172.4,161.9 L173.3,164.1 L174.2,162.0 L175.1,160.1 L175.9,159.8 L176.8,158.2 L177.7,159.2 L178.6,158.8 L179.4,158.8 L180.3,159.6 L181.2,161.2 L182.1,161.0 L182.9,161.1 L183.8,161.2 L184.7,159.1 L185.6,159.5 L186.4,158.3 L187.3,157.4 L188.5,157.3 L189.7,156.5 L190.8,157.3 L192.0,160.3 L192.9,161.3 L193.8,160.6 L194.6,161.9 L195.5,161.8 L196.4,161.1 L197.2,162.1 L198.1,162.9 L199.0,164.7 L200.0,165.1 L201.0,164.7 L202.0,163.8 L203.0,171.7 L204.0,170.2 L205.0,169.0 L206.0,168.4 L206.8,168.6 L207.7,168.7 L208.5,166.9 L210.1,151.0 L211.1,155.9 L212.0,163.6 L212.9,166.6 L213.8,166.9 L214.6,167.2 L215.5,167.5 L216.4,167.3 L217.2,166.8 L218.1,165.1 L219.0,165.6 L219.9,164.9 L220.8,164.7 L221.6,163.5 L222.5,163.3 L223.4,162.5 L224.4,163.2 L225.3,163.2 L226.3,163.0 L227.2,162.4 L228.1,163.0 L228.9,163.4 L229.8,163.6 L230.7,164.7 L231.6,162.3 L232.6,160.5 L233.5,159.7 L234.5,159.1 L235.5,160.6 L236.5,160.1 L237.5,162.2 L238.6,163.2 L239.6,165.2 L240.6,166.7 L241.6,165.5 L242.5,164.4 L243.5,164.4 L244.4,165.7 L245.4,164.5 L246.3,164.1 L247.3,164.2 L248.2,165.5 L249.1,164.3 L250.1,164.9 L251.0,165.3 L252.0,165.2 L252.9,168.1 L253.8,166.3 L254.6,166.7 L255.5,165.1 L256.4,164.8 L257.5,165.4 L258.7,165.1 L259.6,165.8 L260.4,167.5 L261.3,166.5 L262.2,168.6 L263.1,169.2 L263.9,170.4 L264.8,172.2 L265.7,173.0 L266.6,172.0 L267.4,171.3 L268.3,171.4 L269.2,172.1 L270.2,172.1 L271.3,172.4 L272.3,169.9 L273.9,161.3 L274.8,162.4 L275.6,161.1 L276.5,159.1 L277.4,158.6 L278.5,156.5 L279.7,156.0 L280.5,158.2 L281.3,158.6 L282.1,160.9 L283.2,162.9 L284.4,163.9 L285.2,162.6 L286.0,161.0 L286.8,159.7 L287.7,157.2 L288.6,154.5 L289.5,157.0 L290.3,155.1 L291.2,155.6 L292.1,156.0 L292.9,155.6 L293.8,155.1 L294.8,154.8 L295.8,155.3 L296.8,155.4 L297.9,159.5 L298.9,160.4 L300.0,159.8 L301.2,157.6 L302.1,158.4 L303.1,157.9 L304.1,158.5 L305.0,158.5 L305.8,159.0 L306.6,158.3 L307.5,158.9 L308.4,158.6 L309.2,157.7 L310.1,158.7 L311.0,157.7 L311.9,158.8 L312.7,158.9 L313.6,159.0 L314.5,161.5 L315.4,167.6 L316.2,169.1 L317.1,169.0 L318.0,169.4 L318.9,169.0 L319.7,170.2 L320.6,169.5 L321.8,159.2 L323.0,142.5 L324.1,143.3 L325.3,143.2 L326.5,142.7 L327.6,142.3 L328.8,143.6 L330.0,144.0 L331.1,151.7 L332.3,146.1 L333.5,147.1 L334.6,147.8 L335.5,146.4 L336.4,147.7 L337.2,145.9 L338.1,146.3 L339.3,149.9 L340.5,172.5 L341.4,174.9 L342.2,175.7 L343.1,175.8 L344.0,173.6 L345.1,165.6 L346.3,161.2 L347.1,163.8 L348.0,167.1 L348.8,167.9 L349.7,167.4 L350.5,168.8 L351.4,167.8 L352.2,167.9 L353.1,168.5 L353.9,168.5 L354.8,167.4 L355.7,167.8 L356.6,166.5 L357.4,165.8 L358.3,163.0 L359.2,164.1 L360.1,164.1 L361.0,163.7 L362.0,164.5 L362.9,163.7 L363.8,162.9 L363.8,169.0 L362.9,169.9 L362.0,169.8 L361.0,169.4 L360.1,169.8 L359.2,170.4 L358.3,171.1 L357.4,174.0 L356.6,174.6 L355.7,175.5 L354.8,174.6 L353.9,174.7 L353.1,174.0 L352.2,173.8 L351.4,173.3 L350.5,174.1 L349.7,173.3 L348.8,173.2 L348.0,173.8 L347.1,171.9 L346.3,168.1 L345.1,176.8 L344.0,183.0 L343.1,181.9 L342.2,181.4 L341.4,180.9 L340.5,184.8 L339.3,178.7 L338.1,179.3 L337.2,178.9 L336.4,180.7 L335.5,179.4 L334.6,180.8 L333.5,180.1 L332.3,179.1 L331.1,175.8 L330.0,179.0 L328.8,178.6 L327.6,177.3 L326.5,177.7 L325.3,178.9 L324.1,178.3 L323.0,177.5 L321.8,177.2 L320.6,180.8 L319.7,179.1 L318.9,178.0 L318.0,178.3 L317.1,178.8 L316.2,178.4 L315.4,179.7 L314.5,178.0 L313.6,179.0 L312.7,178.9 L311.9,178.8 L311.0,177.7 L310.1,178.7 L309.2,177.7 L308.4,178.6 L307.5,178.9 L306.6,178.3 L305.8,179.0 L305.0,178.6 L304.1,171.7 L303.1,167.4 L302.1,169.4 L301.2,170.1 L300.0,172.9 L298.9,173.4 L297.9,177.7 L296.8,180.4 L295.8,180.3 L294.8,179.8 L293.8,180.1 L292.9,180.4 L292.1,182.2 L291.2,181.6 L290.3,183.1 L289.5,178.7 L288.6,169.4 L287.7,169.1 L286.8,172.0 L286.0,173.3 L285.2,175.1 L284.4,174.5 L283.2,174.4 L282.1,173.9 L281.3,171.2 L280.5,170.5 L279.7,168.1 L278.5,169.2 L277.4,170.8 L276.5,170.2 L275.6,172.0 L274.8,172.6 L273.9,175.5 L272.3,183.5 L271.3,181.2 L270.2,180.1 L269.2,178.9 L268.3,179.1 L267.4,178.5 L266.6,178.6 L265.7,178.2 L264.8,178.3 L263.9,177.0 L263.1,175.9 L262.2,175.4 L261.3,172.6 L260.4,173.8 L259.6,173.2 L258.7,171.7 L257.5,173.2 L256.4,173.7 L255.5,175.5 L254.6,177.1 L253.8,176.3 L252.9,178.5 L252.0,176.9 L251.0,176.3 L250.1,175.8 L249.1,173.5 L248.2,174.0 L247.3,173.9 L246.3,173.1 L245.4,172.7 L244.4,173.0 L243.5,172.8 L242.5,171.9 L241.6,173.6 L240.6,173.1 L239.6,173.3 L238.6,172.2 L237.5,171.1 L236.5,169.5 L235.5,168.9 L234.5,167.4 L233.5,167.6 L232.6,169.0 L231.6,170.6 L230.7,172.5 L229.8,172.3 L228.9,171.2 L228.1,171.4 L227.2,169.6 L226.3,169.4 L225.3,168.4 L224.4,169.2 L223.4,168.8 L222.5,168.9 L221.6,169.4 L220.8,170.6 L219.9,170.9 L219.0,170.9 L218.1,171.1 L217.2,172.9 L216.4,172.8 L215.5,173.5 L214.6,172.8 L213.8,172.3 L212.9,172.5 L212.0,172.8 L211.1,167.0 L210.1,161.8 L208.5,178.5 L207.7,175.5 L206.8,174.7 L206.0,174.9 L205.0,175.9 L204.0,177.0 L203.0,179.5 L202.0,173.2 L201.0,170.0 L200.0,171.3 L199.0,171.7 L198.1,171.2 L197.2,171.2 L196.4,169.6 L195.5,170.6 L194.6,171.1 L193.8,169.8 L192.9,171.8 L192.0,172.2 L190.8,169.9 L189.7,166.0 L188.5,168.9 L187.3,169.7 L186.4,170.7 L185.6,170.8 L184.7,169.7 L183.8,171.2 L182.9,170.4 L182.1,169.1 L181.2,169.7 L180.3,169.5 L179.4,169.1 L178.6,168.2 L177.7,167.7 L176.8,169.0 L175.9,172.0 L175.1,173.1 L174.2,175.2 L173.3,175.5 L172.4,174.6 L171.6,172.8 L170.7,172.9 L169.8,173.0 L168.9,172.2 L168.1,171.4 L167.2,171.9 L166.3,171.5 L165.2,168.4 L164.0,163.4 L163.2,167.6 L162.4,169.7 L161.6,171.4 L160.7,171.7 L159.8,173.6 L159.0,175.0 L158.1,175.1 L157.2,175.1 L156.3,176.0 L155.5,176.7 L154.6,176.5 L153.7,178.0 L152.8,179.6 L152.0,180.3 L151.1,179.8 L150.2,178.6 L149.3,179.2 L148.5,178.1 L147.6,178.4 L146.7,178.0 L145.8,176.8 L145.0,175.4 L144.1,175.6 L142.9,179.1 L141.8,181.3 L141.0,181.2 L140.2,182.2 L139.4,182.3 L138.2,181.1 L137.1,180.7 L135.9,179.2 L134.8,175.8 L134.0,176.5 L133.2,177.6 L132.4,178.7 L131.5,178.6 L130.7,180.3 L129.8,179.4 L128.9,180.6 L128.0,178.6 L127.2,178.6 L126.3,178.4 L125.4,177.5 L124.5,178.3 L123.7,176.9 L122.8,177.4 L121.9,176.6 L121.0,178.1 L120.2,179.0 L119.3,179.7 L118.4,178.7 L117.6,177.7 L116.8,175.9 L116.0,168.6 L114.8,167.6 L113.7,168.6 L112.6,167.6 L111.4,169.1 L110.5,168.5 L109.5,167.6 L108.6,168.6 L107.6,168.1 L106.7,168.6 L105.6,171.8 L104.4,173.9 L103.5,172.8 L102.7,172.3 L101.8,173.2 L100.9,174.2 L100.0,173.6 L99.2,173.5 L98.3,173.1 L97.4,171.1 L96.5,170.1 L95.7,168.8 L94.8,168.9 L93.9,168.8 L92.9,168.1 L91.8,166.3 L90.8,162.9 L89.9,165.7 L88.9,168.1 L88.0,168.6 L86.8,168.4 L85.7,168.6 L84.8,167.8 L83.8,166.2 L82.9,166.3 L82.0,171.7 L81.0,173.1 L80.1,174.1 L79.2,174.9 L78.4,177.3 L77.5,177.4 L76.6,177.2 L75.8,176.6 L74.9,176.9 L74.0,178.1 L72.8,173.4 L71.7,166.9 L70.6,171.9 L69.4,173.3 L68.5,172.7 L67.7,172.3 L66.8,170.7 L65.9,170.5 L65.0,171.0 L64.2,170.6 L63.3,171.6 L62.4,171.6 L61.5,172.6 L60.6,173.0 L59.7,172.7 L58.8,173.4 L57.9,173.1 L57.0,173.9 L56.2,173.8 L55.3,174.8Z" fill="rgba(125,150,200,0.34)" stroke="none"/>
<path d="M55.3,166.8 L56.2,164.6 L57.0,164.6 L57.9,163.3 L58.8,162.7 L59.7,161.8 L60.6,162.0 L61.5,161.5 L62.4,160.6 L63.3,160.8 L64.2,160.2 L65.0,160.8 L65.9,161.0 L66.8,160.7 L67.7,161.4 L68.5,161.8 L69.4,162.7 L70.6,159.7 L71.7,158.0 L72.8,159.3 L74.0,164.3 L74.9,166.3 L75.8,164.9 L76.6,165.9 L77.5,165.4 L78.4,163.9 L79.2,164.2 L80.1,164.2 L81.0,162.1 L82.0,158.5 L82.9,155.0 L83.8,156.2 L84.8,157.4 L85.7,158.5 L86.8,158.4 L88.0,159.4 L88.9,157.5 L89.9,154.7 L90.8,154.1 L91.8,156.2 L92.9,158.7 L93.9,159.8 L94.8,161.0 L95.7,160.1 L96.5,160.6 L97.4,161.0 L98.3,160.8 L99.2,163.0 L100.0,163.3 L100.9,164.0 L101.8,164.2 L102.7,164.4 L103.5,164.8 L104.4,165.8 L105.6,162.5 L106.7,159.8 L107.6,157.8 L108.6,156.0 L109.5,155.3 L110.5,154.9 L111.4,156.4 L112.6,157.1 L113.7,155.5 L114.8,156.8 L116.0,157.1 L116.8,162.9 L117.6,169.4 L118.4,171.8 L119.3,171.8 L120.2,170.8 L121.0,170.5 L121.9,169.5 L122.8,170.1 L123.7,169.8 L124.5,170.1 L125.4,169.3 L126.3,170.5 L127.2,171.0 L128.0,170.9 L128.9,172.8 L129.8,171.7 L130.7,172.1 L131.5,170.6 L132.4,171.1 L133.2,170.0 L134.0,167.8 L134.8,167.2 L135.9,168.1 L137.1,169.9 L138.2,170.8 L139.4,171.5 L140.2,171.7 L141.0,171.5 L141.8,172.2 L142.9,167.8 L144.1,165.9 L145.0,166.5 L145.8,167.6 L146.7,168.8 L147.6,170.4 L148.5,169.6 L149.3,169.9 L150.2,168.8 L151.1,170.1 L152.0,169.2 L152.8,167.2 L153.7,165.5 L154.6,165.3 L155.5,165.4 L156.3,164.1 L157.2,163.9 L158.1,164.2 L159.0,163.8 L159.8,162.0 L160.7,161.2 L161.6,160.2 L162.4,158.0 L163.2,156.5 L164.0,154.0 L165.2,155.3 L166.3,159.4 L167.2,161.7 L168.1,161.3 L168.9,161.8 L169.8,161.9 L170.7,161.4 L171.6,162.2 L172.4,162.3 L173.3,164.1 L174.2,162.4 L175.1,161.1 L175.9,160.5 L176.8,158.4 L177.7,158.8 L178.6,158.4 L179.4,158.6 L180.3,159.1 L181.2,160.1 L182.1,159.9 L182.9,160.5 L183.8,160.6 L184.7,159.4 L185.6,159.9 L186.4,159.0 L187.3,158.0 L188.5,157.2 L189.7,155.8 L190.8,157.3 L192.0,160.0 L192.9,161.0 L193.8,160.1 L194.6,161.7 L195.5,161.2 L196.4,161.1 L197.2,162.4 L198.1,163.3 L199.0,165.0 L200.0,165.5 L201.0,164.5 L202.0,163.2 L203.0,170.4 L204.0,168.9 L205.0,167.8 L206.0,167.0 L206.8,167.0 L207.7,167.2 L208.5,165.8 L210.1,149.7 L211.1,155.1 L212.0,162.7 L212.9,164.8 L213.8,164.6 L214.6,164.7 L215.5,166.1 L216.4,164.4 L217.2,164.0 L218.1,162.7 L219.0,163.0 L219.9,162.5 L220.8,162.4 L221.6,161.7 L222.5,161.2 L223.4,161.3 L224.4,162.5 L225.3,162.5 L226.3,162.3 L227.2,161.7 L228.1,163.4 L228.9,163.0 L229.8,164.7 L230.7,164.0 L231.6,161.8 L232.6,160.6 L233.5,160.0 L234.5,159.5 L235.5,160.6 L236.5,161.0 L237.5,162.3 L238.6,163.1 L239.6,165.4 L240.6,166.1 L241.6,164.6 L242.5,163.5 L243.5,163.1 L244.4,164.6 L245.4,163.7 L246.3,164.3 L247.3,164.6 L248.2,165.4 L249.1,165.0 L250.1,165.8 L251.0,166.9 L252.0,166.2 L252.9,168.5 L253.8,167.3 L254.6,167.2 L255.5,165.4 L256.4,165.2 L257.5,165.2 L258.7,164.0 L259.6,165.1 L260.4,166.6 L261.3,165.0 L262.2,167.2 L263.1,168.8 L263.9,170.2 L264.8,171.7 L265.7,172.2 L266.6,172.8 L267.4,172.3 L268.3,172.6 L269.2,172.3 L270.2,172.7 L271.3,173.4 L272.3,171.6 L273.9,162.7 L274.8,163.6 L275.6,162.3 L276.5,160.4 L277.4,160.8 L278.5,158.6 L279.7,158.0 L280.5,160.7 L281.3,160.8 L282.1,163.6 L283.2,165.0 L284.4,166.8 L285.2,165.2 L286.0,164.0 L286.8,162.5 L287.7,159.2 L288.6,157.0 L289.5,163.7 L290.3,171.7 L291.2,172.2 L292.1,172.1 L292.9,172.0 L293.8,172.5 L294.8,171.6 L295.8,172.3 L296.8,169.7 L297.9,164.7 L298.9,162.0 L300.0,160.6 L301.2,158.1 L302.1,158.5 L303.1,157.5 L304.1,158.5 L305.0,156.8 L305.8,161.8 L306.6,169.5 L307.5,171.7 L308.4,171.8 L309.2,172.3 L310.1,171.4 L311.0,170.4 L311.9,172.3 L312.7,170.4 L313.6,170.5 L314.5,170.7 L315.4,170.5 L316.2,170.7 L317.1,170.8 L318.0,170.3 L318.9,169.3 L319.7,170.5 L320.6,170.6 L321.8,164.4 L323.0,150.5 L324.1,149.6 L325.3,150.0 L326.5,149.3 L327.6,150.7 L328.8,149.4 L330.0,150.8 L331.1,157.2 L332.3,149.0 L333.5,150.4 L334.6,149.6 L335.5,150.3 L336.4,150.9 L337.2,149.5 L338.1,149.2 L339.3,152.7 L340.5,171.8 L341.4,174.3 L342.2,173.5 L343.1,173.5 L344.0,170.1 L345.1,159.3 L346.3,154.2 L347.1,157.5 L348.0,164.3 L348.8,165.1 L349.7,165.0 L350.5,166.0 L351.4,164.8 L352.2,165.7 L353.1,166.5 L353.9,167.7 L354.8,166.5 L355.7,167.7 L356.6,166.2 L357.4,165.0 L358.3,162.6 L359.2,163.7 L360.1,163.3 L361.0,163.3 L362.0,163.6 L362.9,163.7 L363.8,162.8 L363.8,168.6 L362.9,169.2 L362.0,169.7 L361.0,169.0 L360.1,169.7 L359.2,170.1 L358.3,171.3 L357.4,174.5 L356.6,174.3 L355.7,175.3 L354.8,174.4 L353.9,175.4 L353.1,175.0 L352.2,175.1 L351.4,175.2 L350.5,176.1 L349.7,174.8 L348.8,175.4 L348.0,176.5 L347.1,172.6 L346.3,163.2 L345.1,173.6 L344.0,182.3 L343.1,179.5 L342.2,179.2 L341.4,179.4 L340.5,180.6 L339.3,179.6 L338.1,180.2 L337.2,180.5 L336.4,181.9 L335.5,181.3 L334.6,180.6 L333.5,181.4 L332.3,180.0 L331.1,179.4 L330.0,184.2 L328.8,179.4 L327.6,180.7 L326.5,179.3 L325.3,180.0 L324.1,179.6 L323.0,180.5 L321.8,177.8 L320.6,179.4 L319.7,178.5 L318.9,177.0 L318.0,176.9 L317.1,177.0 L316.2,175.6 L315.4,177.0 L314.5,177.7 L313.6,177.3 L312.7,176.4 L311.9,177.2 L311.0,176.4 L310.1,178.6 L309.2,178.8 L308.4,178.2 L307.5,179.2 L306.6,180.5 L305.8,175.3 L305.0,167.6 L304.1,167.7 L303.1,167.8 L302.1,168.9 L301.2,168.7 L300.0,171.1 L298.9,171.8 L297.9,175.0 L296.8,178.1 L295.8,177.9 L294.8,177.3 L293.8,177.5 L292.9,177.5 L292.1,178.4 L291.2,178.9 L290.3,180.7 L289.5,175.6 L288.6,166.0 L287.7,166.8 L286.8,168.9 L286.0,169.9 L285.2,171.8 L284.4,171.6 L283.2,171.4 L282.1,170.2 L281.3,168.0 L280.5,167.3 L279.7,165.0 L278.5,166.9 L277.4,168.2 L276.5,168.9 L275.6,170.4 L274.8,170.9 L273.9,173.3 L272.3,180.8 L271.3,179.7 L270.2,178.6 L269.2,177.7 L268.3,177.2 L267.4,176.9 L266.6,177.8 L265.7,177.8 L264.8,177.9 L263.9,176.8 L263.1,176.2 L262.2,175.8 L261.3,173.6 L260.4,173.6 L259.6,173.5 L258.7,172.0 L257.5,173.2 L256.4,173.2 L255.5,175.1 L254.6,175.8 L253.8,175.2 L252.9,176.9 L252.0,175.3 L251.0,174.1 L250.1,174.6 L249.1,172.7 L248.2,173.0 L247.3,173.3 L246.3,171.9 L245.4,172.5 L244.4,173.6 L243.5,172.9 L242.5,172.6 L241.6,173.4 L240.6,173.2 L239.6,173.0 L238.6,171.5 L237.5,170.6 L236.5,168.0 L235.5,168.1 L234.5,166.9 L233.5,166.8 L232.6,168.2 L231.6,170.0 L230.7,172.0 L229.8,171.2 L228.9,170.6 L228.1,170.6 L227.2,169.7 L226.3,169.2 L225.3,169.1 L224.4,169.8 L223.4,169.3 L222.5,170.2 L221.6,171.2 L220.8,172.5 L219.9,172.7 L219.0,173.0 L218.1,173.3 L217.2,174.5 L216.4,174.6 L215.5,174.7 L214.6,174.9 L213.8,174.0 L212.9,173.3 L212.0,173.3 L211.1,167.7 L210.1,163.1 L208.5,179.6 L207.7,176.6 L206.8,175.6 L206.0,176.0 L205.0,176.5 L204.0,178.0 L203.0,179.6 L202.0,172.8 L201.0,170.0 L200.0,170.3 L199.0,171.0 L198.1,170.5 L197.2,170.8 L196.4,169.2 L195.5,170.2 L194.6,170.9 L193.8,170.2 L192.9,171.3 L192.0,171.4 L190.8,169.2 L189.7,166.2 L188.5,168.0 L187.3,168.8 L186.4,169.7 L185.6,169.6 L184.7,169.4 L183.8,170.8 L182.9,170.9 L182.1,170.1 L181.2,170.3 L180.3,169.9 L179.4,168.4 L178.6,168.2 L177.7,168.1 L176.8,168.4 L175.9,170.4 L175.1,171.5 L174.2,173.8 L173.3,174.3 L172.4,173.2 L171.6,172.3 L170.7,171.6 L169.8,171.9 L168.9,171.3 L168.1,171.3 L167.2,172.0 L166.3,172.0 L165.2,167.6 L164.0,163.4 L163.2,166.9 L162.4,168.4 L161.6,171.2 L160.7,171.6 L159.8,172.9 L159.0,174.3 L158.1,174.2 L157.2,174.0 L156.3,174.9 L155.5,175.9 L154.6,175.5 L153.7,176.8 L152.8,179.0 L152.0,180.2 L151.1,179.9 L150.2,179.0 L149.3,179.4 L148.5,178.9 L147.6,179.6 L146.7,179.7 L145.8,178.9 L145.0,177.0 L144.1,177.1 L142.9,180.7 L141.8,182.6 L141.0,181.9 L140.2,181.4 L139.4,180.9 L138.2,180.9 L137.1,180.1 L135.9,178.6 L134.8,175.8 L134.0,176.0 L133.2,178.4 L132.4,178.9 L131.5,179.8 L130.7,181.0 L129.8,181.1 L128.9,182.0 L128.0,179.7 L127.2,179.2 L126.3,179.6 L125.4,178.5 L124.5,178.5 L123.7,177.4 L122.8,178.3 L121.9,178.3 L121.0,179.2 L120.2,180.3 L119.3,180.1 L118.4,180.6 L117.6,178.1 L116.8,178.2 L116.0,181.1 L114.8,180.8 L113.7,179.5 L112.6,181.1 L111.4,180.4 L110.5,178.9 L109.5,179.3 L108.6,180.0 L107.6,177.5 L106.7,170.5 L105.6,173.1 L104.4,175.0 L103.5,174.2 L102.7,174.3 L101.8,174.1 L100.9,174.4 L100.0,173.4 L99.2,173.0 L98.3,171.9 L97.4,170.4 L96.5,170.7 L95.7,168.9 L94.8,170.1 L93.9,169.2 L92.9,167.6 L91.8,166.3 L90.8,163.3 L89.9,165.9 L88.9,167.6 L88.0,167.4 L86.8,166.7 L85.7,165.9 L84.8,165.8 L83.8,164.9 L82.9,164.8 L82.0,169.8 L81.0,171.7 L80.1,172.5 L79.2,172.7 L78.4,173.6 L77.5,175.4 L76.6,175.2 L75.8,173.8 L74.9,173.9 L74.0,174.1 L72.8,169.4 L71.7,164.0 L70.6,169.2 L69.4,171.1 L68.5,170.9 L67.7,170.2 L66.8,168.6 L65.9,168.0 L65.0,168.4 L64.2,169.0 L63.3,169.7 L62.4,170.8 L61.5,172.0 L60.6,172.1 L59.7,171.9 L58.8,173.3 L57.9,173.0 L57.0,173.1 L56.2,172.9 L55.3,174.0Z" fill="rgba(245,172,125,0.40)" stroke="none"/>
<path d="M55.3,170.5 L56.2,169.0 L57.0,169.0 L57.9,168.4 L58.8,168.3 L59.7,167.2 L60.6,167.2 L61.5,167.0 L62.4,165.8 L63.3,165.7 L64.2,164.8 L65.0,165.1 L65.9,164.5 L66.8,164.6 L67.7,166.0 L68.5,166.6 L69.4,167.4 L70.6,165.0 L71.7,161.3 L72.8,166.0 L74.0,171.8 L74.9,171.6 L75.8,171.4 L76.6,171.6 L77.5,171.4 L78.4,170.8 L79.2,168.5 L80.1,168.4 L81.0,167.3 L82.0,164.5 L82.9,160.3 L83.8,161.0 L84.8,162.1 L85.7,162.8 L86.8,163.1 L88.0,163.6 L88.9,162.7 L89.9,160.4 L90.8,159.0 L91.8,161.4 L92.9,163.7 L93.9,165.0 L94.8,165.7 L95.7,165.9 L96.5,167.1 L97.4,167.5 L98.3,169.1 L99.2,169.8 L100.0,170.2 L100.9,171.6 L101.8,170.1 L102.7,169.7 L103.5,170.0 L104.4,170.8 L105.6,167.8 L106.7,165.1 L107.6,164.1 L108.6,162.9 L109.5,148.5 L110.5,149.9 L111.4,150.5 L112.6,152.1 L113.7,153.6 L114.8,156.5 L116.0,163.0 L116.8,170.7 L117.6,173.6 L118.4,175.4 L119.3,176.5 L120.2,176.0 L121.0,174.9 L121.9,174.0 L122.8,174.7 L123.7,173.8 L124.5,174.8 L125.4,174.5 L126.3,175.2 L127.2,175.6 L128.0,175.4 L128.9,177.7 L129.8,176.5 L130.7,177.0 L131.5,175.3 L132.4,175.6 L133.2,174.2 L134.0,173.4 L134.8,172.4 L135.9,174.6 L137.1,176.4 L138.2,177.4 L139.4,179.1 L140.2,178.7 L141.0,178.0 L141.8,178.0 L142.9,175.0 L144.1,172.0 L145.0,172.0 L145.8,173.4 L146.7,174.7 L147.6,175.1 L148.5,174.4 L149.3,175.0 L150.2,174.4 L151.1,175.3 L152.0,174.9 L152.8,173.4 L153.7,171.6 L154.6,170.5 L155.5,170.7 L156.3,169.8 L157.2,169.1 L158.1,169.3 L159.0,169.2 L159.8,168.0 L160.7,166.5 L161.6,165.9 L162.4,163.8 L163.2,161.9 L164.0,159.3 L165.2,162.0 L166.3,166.0 L167.2,167.1 L168.1,166.3 L168.9,166.8 L169.8,167.2 L170.7,167.1 L171.6,167.3 L172.4,168.3 L173.3,169.8 L174.2,168.6 L175.1,166.6 L175.9,165.9 L176.8,163.6 L177.7,163.5 L178.6,163.5 L179.4,164.0 L180.3,164.6 L181.2,165.5 L182.1,165.0 L182.9,165.8 L183.8,166.2 L184.7,164.4 L185.6,165.2 L186.4,164.5 L187.3,163.6 L188.5,163.1 L189.7,161.3 L190.8,163.6 L192.0,166.2 L192.9,166.5 L193.8,165.2 L194.6,166.5 L195.5,166.2 L196.4,165.4 L197.2,166.7 L198.1,167.0 L199.0,168.2 L200.0,168.2 L201.0,167.3 L202.0,168.5 L203.0,175.6 L204.0,173.6 L205.0,172.5 L206.0,171.6 L206.8,171.7 L207.7,172.1 L208.5,172.7 L210.1,156.4 L211.1,161.4 L212.0,168.2 L212.9,169.5 L213.8,169.6 L214.6,170.0 L215.5,170.5 L216.4,170.0 L217.2,169.8 L218.1,168.1 L219.0,168.2 L219.9,167.9 L220.8,167.7 L221.6,166.5 L222.5,166.1 L223.4,165.7 L224.4,166.2 L225.3,165.8 L226.3,166.2 L227.2,166.0 L228.1,167.2 L228.9,167.3 L229.8,167.9 L230.7,168.6 L231.6,166.4 L232.6,164.7 L233.5,163.7 L234.5,163.3 L235.5,164.7 L236.5,164.8 L237.5,166.7 L238.6,167.7 L239.6,169.3 L240.6,169.9 L241.6,169.6 L242.5,168.2 L243.5,168.6 L244.4,169.3 L245.4,168.6 L246.3,168.6 L247.3,169.0 L248.2,169.8 L249.1,168.9 L250.1,170.4 L251.0,170.8 L252.0,171.0 L252.9,173.3 L253.8,171.3 L254.6,171.9 L255.5,170.3 L256.4,169.2 L257.5,169.3 L258.7,168.4 L259.6,169.5 L260.4,170.6 L261.3,169.6 L262.2,172.0 L263.1,172.5 L263.9,173.7 L264.8,175.3 L265.7,175.6 L266.6,175.3 L267.4,174.9 L268.3,175.3 L269.2,175.5 L270.2,176.1 L271.3,176.8 L272.3,176.7 L273.9,168.4 L274.8,167.5 L275.6,166.5 L276.5,164.7 L277.4,164.7 L278.5,162.8 L279.7,162.0 L280.5,164.3 L281.3,164.9 L282.1,167.4 L283.2,168.6 L284.4,169.2 L285.2,168.9 L286.0,167.1 L286.8,165.9 L287.7,163.2 L288.6,161.5 L289.5,170.2 L290.3,176.3 L291.2,175.7 L292.1,175.8 L292.9,173.2 L293.8,170.0 L294.8,162.2 L295.8,166.0 L296.8,170.4 L297.9,169.2 L298.9,166.9 L300.0,166.4 L301.2,163.8 L302.1,163.9 L303.1,162.6 L304.1,163.1 L305.0,163.9 L305.8,166.8 L306.6,170.4 L307.5,170.5 L308.4,169.8 L309.2,171.0 L310.1,170.6 L311.0,170.4 L311.9,170.7 L312.7,170.3 L313.6,170.4 L314.5,172.4 L315.4,174.2 L316.2,173.8 L317.1,173.9 L318.0,173.8 L318.9,173.5 L319.7,174.7 L320.6,175.1 L321.8,170.1 L323.0,165.5 L324.1,156.3 L325.3,148.7 L326.5,150.3 L327.6,152.6 L328.8,162.1 L330.0,172.4 L331.1,166.1 L332.3,159.5 L333.5,159.3 L334.6,158.4 L335.5,158.1 L336.4,157.0 L337.2,156.9 L338.1,156.9 L339.3,167.0 L340.5,178.6 L341.4,177.9 L342.2,178.6 L343.1,178.9 L344.0,178.3 L345.1,171.2 L346.3,164.7 L347.1,167.8 L348.0,170.4 L348.8,170.6 L349.7,170.3 L350.5,171.4 L351.4,170.6 L352.2,170.8 L353.1,171.2 L353.9,171.6 L354.8,171.0 L355.7,171.7 L356.6,170.5 L357.4,169.9 L358.3,167.1 L359.2,167.2 L360.1,166.9 L361.0,166.6 L362.0,167.1 L362.9,166.8 L363.8,166.0" fill="none" stroke="#2373b3" stroke-width="1.2" stroke-linejoin="round"/>
<path d="M55.3,170.4 L56.2,168.8 L57.0,168.8 L57.9,168.2 L58.8,168.0 L59.7,166.9 L60.6,167.0 L61.5,166.7 L62.4,165.7 L63.3,165.2 L64.2,164.6 L65.0,164.6 L65.9,164.5 L66.8,164.6 L67.7,165.8 L68.5,166.3 L69.4,166.9 L70.6,164.5 L71.7,161.0 L72.8,164.3 L74.0,169.2 L74.9,170.1 L75.8,169.3 L76.6,170.5 L77.5,170.4 L78.4,168.7 L79.2,168.5 L80.1,168.3 L81.0,166.9 L82.0,164.2 L82.9,159.9 L83.8,160.6 L84.8,161.6 L85.7,162.2 L86.8,162.5 L88.0,163.4 L88.9,162.5 L89.9,160.3 L90.8,158.7 L91.8,161.3 L92.9,163.2 L93.9,164.5 L94.8,165.6 L95.7,164.5 L96.5,165.6 L97.4,165.7 L98.3,166.3 L99.2,168.0 L100.0,168.3 L100.9,169.2 L101.8,169.2 L102.7,169.4 L103.5,169.5 L104.4,170.4 L105.6,167.8 L106.7,164.5 L107.6,164.8 L108.6,163.8 L109.5,163.4 L110.5,162.0 L111.4,162.2 L112.6,164.7 L113.7,168.0 L114.8,168.5 L116.0,170.4 L116.8,172.2 L117.6,173.8 L118.4,176.2 L119.3,175.9 L120.2,175.5 L121.0,174.8 L121.9,173.9 L122.8,174.2 L123.7,173.6 L124.5,174.3 L125.4,173.9 L126.3,175.1 L127.2,175.1 L128.0,175.3 L128.9,177.4 L129.8,176.4 L130.7,176.5 L131.5,175.2 L132.4,175.0 L133.2,174.2 L134.0,171.9 L134.8,171.5 L135.9,173.4 L137.1,175.0 L138.2,175.8 L139.4,176.2 L140.2,176.6 L141.0,176.7 L141.8,177.4 L142.9,174.2 L144.1,171.5 L145.0,171.7 L145.8,173.2 L146.7,174.3 L147.6,175.0 L148.5,174.3 L149.3,174.7 L150.2,173.9 L151.1,175.0 L152.0,174.7 L152.8,173.1 L153.7,171.1 L154.6,170.4 L155.5,170.7 L156.3,169.5 L157.2,168.9 L158.1,169.2 L159.0,169.0 L159.8,167.5 L160.7,166.4 L161.6,165.7 L162.4,163.2 L163.2,161.7 L164.0,158.7 L165.2,161.5 L166.3,165.7 L167.2,166.8 L168.1,166.3 L168.9,166.6 L169.8,166.9 L170.7,166.5 L171.6,167.3 L172.4,167.8 L173.3,169.2 L174.2,168.1 L175.1,166.3 L175.9,165.5 L176.8,163.4 L177.7,163.5 L178.6,163.3 L179.4,163.5 L180.3,164.5 L181.2,165.2 L182.1,165.0 L182.9,165.7 L183.8,165.7 L184.7,164.4 L185.6,164.8 L186.4,164.4 L187.3,163.4 L188.5,162.6 L189.7,161.0 L190.8,163.2 L192.0,165.7 L192.9,166.2 L193.8,165.1 L194.6,166.3 L195.5,165.7 L196.4,165.2 L197.2,166.6 L198.1,166.9 L199.0,168.0 L200.0,167.9 L201.0,167.3 L202.0,168.0 L203.0,175.0 L204.0,173.4 L205.0,172.1 L206.0,171.5 L206.8,171.3 L207.7,171.9 L208.5,172.7 L210.1,156.4 L211.1,161.4 L212.0,168.0 L212.9,169.1 L213.8,169.3 L214.6,169.8 L215.5,170.4 L216.4,169.5 L217.2,169.3 L218.1,168.0 L219.0,168.0 L219.9,167.6 L220.8,167.5 L221.6,166.4 L222.5,165.7 L223.4,165.3 L224.4,166.2 L225.3,165.8 L226.3,165.8 L227.2,165.7 L228.1,167.0 L228.9,166.8 L229.8,167.9 L230.7,168.0 L231.6,165.9 L232.6,164.4 L233.5,163.4 L234.5,163.2 L235.5,164.3 L236.5,164.5 L237.5,166.5 L238.6,167.3 L239.6,169.2 L240.6,169.6 L241.6,169.0 L242.5,168.1 L243.5,168.0 L244.4,169.1 L245.4,168.1 L246.3,168.1 L247.3,169.0 L248.2,169.2 L249.1,168.8 L250.1,170.2 L251.0,170.5 L252.0,170.8 L252.9,172.7 L253.8,171.3 L254.6,171.5 L255.5,170.3 L256.4,169.2 L257.5,169.2 L258.7,168.0 L259.6,169.3 L260.4,170.1 L261.3,169.3 L262.2,171.5 L263.1,172.5 L263.9,173.5 L264.8,174.8 L265.7,175.0 L266.6,175.3 L267.4,174.6 L268.3,174.9 L269.2,175.0 L270.2,175.7 L271.3,176.5 L272.3,176.2 L273.9,168.0 L274.8,167.3 L275.6,166.4 L276.5,164.6 L277.4,164.5 L278.5,162.7 L279.7,161.5 L280.5,164.0 L281.3,164.4 L282.1,166.9 L283.2,168.2 L284.4,169.2 L285.2,168.5 L286.0,166.9 L286.8,165.7 L287.7,163.0 L288.6,161.5 L289.5,169.6 L290.3,176.2 L291.2,175.6 L292.1,175.2 L292.9,174.8 L293.8,175.0 L294.8,174.5 L295.8,175.1 L296.8,173.9 L297.9,169.8 L298.9,166.9 L300.0,165.9 L301.2,163.4 L302.1,163.7 L303.1,162.6 L304.1,163.1 L305.0,162.2 L305.8,168.5 L306.6,175.0 L307.5,175.4 L308.4,175.0 L309.2,175.6 L310.1,175.0 L311.0,173.4 L311.9,174.7 L312.7,173.4 L313.6,173.9 L314.5,174.2 L315.4,173.7 L316.2,173.2 L317.1,173.9 L318.0,173.6 L318.9,173.2 L319.7,174.5 L320.6,175.0 L321.8,172.6 L323.0,170.4 L324.1,166.2 L325.3,161.0 L326.5,160.1 L327.6,161.0 L328.8,171.7 L330.0,180.9 L331.1,172.6 L332.3,163.4 L333.5,163.6 L334.6,163.4 L335.5,163.6 L336.4,163.1 L337.2,163.3 L338.1,162.2 L339.3,168.1 L340.5,176.2 L341.4,176.9 L342.2,176.4 L343.1,176.5 L344.0,176.2 L345.1,166.4 L346.3,158.7 L347.1,165.0 L348.0,170.4 L348.8,170.2 L349.7,169.9 L350.5,171.1 L351.4,170.0 L352.2,170.4 L353.1,170.8 L353.9,171.5 L354.8,170.5 L355.7,171.5 L356.6,170.2 L357.4,169.8 L358.3,166.9 L359.2,166.9 L360.1,166.5 L361.0,166.1 L362.0,166.7 L362.9,166.4 L363.8,165.7" fill="none" stroke="#ef8232" stroke-width="1.3" stroke-linejoin="round"/>
<path d="M55.3,238.0 L56.2,236.5 L57.0,238.1 L57.9,238.2 L58.8,237.2 L59.7,235.7 L60.6,235.6 L61.5,235.2 L62.4,234.1 L63.5,233.1 L64.7,233.7 L65.6,232.0 L66.6,232.0 L67.5,230.9 L68.5,231.2 L69.5,231.3 L70.5,231.1 L71.3,232.8 L72.1,233.6 L72.9,235.4 L74.5,228.8 L75.9,234.7 L76.7,236.7 L77.5,236.0 L78.3,237.4 L79.1,235.6 L79.9,236.2 L80.8,237.7 L81.7,236.2 L82.5,236.9 L83.4,237.1 L84.3,237.6 L85.2,235.6 L86.0,234.2 L86.9,235.2 L87.8,235.2 L88.7,236.3 L89.5,235.5 L90.4,236.6 L91.6,233.4 L92.7,232.5 L93.9,233.2 L95.1,235.6 L96.2,236.0 L97.4,233.6 L98.3,229.6 L99.3,226.6 L100.2,226.5 L101.1,226.4 L102.0,227.0 L103.2,221.7 L104.4,224.6 L105.6,230.4 L106.7,234.3 L107.6,236.0 L108.5,234.2 L109.3,235.0 L110.2,234.8 L111.1,233.0 L112.0,229.7 L112.8,230.6 L113.7,229.6 L114.8,227.5 L116.0,226.3 L116.8,222.5 L117.7,220.6 L118.9,227.9 L119.9,235.5 L120.9,237.5 L121.9,238.0 L122.8,238.6 L123.7,238.9 L124.5,238.8 L125.4,238.4 L126.3,238.1 L127.2,235.6 L128.0,233.9 L128.9,234.5 L129.7,233.8 L130.5,232.9 L131.3,231.5 L132.4,233.8 L133.6,236.5 L134.5,237.5 L135.3,237.5 L136.2,238.7 L137.1,238.5 L138.0,236.9 L138.8,236.3 L139.7,234.4 L140.6,234.5 L141.8,234.9 L142.9,236.6 L143.7,234.5 L144.5,231.6 L145.3,230.5 L146.4,227.1 L147.6,225.1 L148.4,223.9 L149.2,221.5 L150.0,220.6 L151.6,222.9 L152.6,224.5 L153.5,231.7 L154.7,234.2 L155.8,231.9 L156.9,229.0 L158.1,227.0 L158.9,225.8 L159.7,224.3 L160.5,223.7 L161.7,225.4 L162.8,229.8 L163.9,232.0 L165.1,235.0 L165.9,235.6 L166.7,235.2 L167.5,233.1 L168.7,224.1 L169.8,220.1 L170.9,222.9 L172.1,227.0 L173.0,230.5 L173.8,228.6 L174.7,231.8 L175.6,234.6 L176.5,234.1 L177.3,232.4 L178.2,231.4 L179.1,232.5 L180.0,232.6 L180.9,233.7 L181.8,235.0 L182.7,237.1 L183.6,235.9 L184.4,235.4 L185.3,236.0 L186.2,235.2 L187.1,235.6 L187.9,237.3 L188.8,237.0 L189.7,238.0 L190.6,237.5 L191.4,238.8 L192.3,238.5 L193.2,238.1 L194.1,238.5 L194.9,237.7 L195.8,238.7 L196.7,236.5 L197.6,236.6 L198.4,235.8 L199.3,235.6 L200.2,234.0 L201.1,233.0 L202.1,232.3 L203.0,231.2 L204.0,231.8 L205.0,232.1 L206.0,233.1 L207.3,235.2 L208.2,234.3 L209.1,234.7 L209.9,233.7 L210.8,232.1 L212.0,226.1 L213.2,224.9 L214.3,226.5 L215.5,232.6 L216.4,233.1 L217.2,234.2 L218.1,234.2 L219.0,234.0 L219.8,235.5 L220.6,237.5 L221.4,237.4 L222.3,237.3 L223.2,236.3 L224.0,236.5 L224.9,235.6 L225.8,234.8 L226.7,231.2 L227.5,228.9 L228.4,229.7 L229.6,228.6 L230.7,227.8 L231.6,227.9 L232.4,230.3 L233.3,230.3 L234.2,231.6 L235.1,232.4 L235.9,234.8 L236.8,234.4 L237.7,235.7 L238.6,235.6 L239.4,235.9 L240.3,235.1 L241.2,235.1 L242.3,233.4 L243.5,232.2 L244.3,229.5 L245.1,227.3 L245.9,226.6 L247.1,227.2 L248.2,228.2 L249.3,229.5 L250.5,234.2 L251.4,232.3 L252.3,233.6 L253.2,234.2 L254.1,232.8 L255.0,235.3 L255.9,236.2 L256.7,237.4 L257.6,238.4 L258.5,234.4 L259.4,229.6 L260.2,228.2 L261.1,226.4 L262.0,226.8 L262.9,229.7 L263.7,229.7 L264.6,232.2 L265.5,231.6 L266.4,232.2 L267.2,232.7 L268.1,231.5 L269.0,229.3 L269.9,229.0 L270.7,229.7 L271.6,227.5 L273.2,221.8 L274.1,225.0 L275.1,232.3 L276.0,234.4 L276.9,235.0 L277.7,236.0 L278.6,234.5 L279.5,232.2 L280.4,231.8 L281.2,232.0 L282.1,229.7 L283.1,227.5 L284.0,225.2 L285.1,229.1 L286.3,233.6 L287.2,232.7 L288.2,231.8 L289.1,230.8 L290.2,227.5 L291.4,226.3 L292.2,227.5 L293.0,228.2 L293.8,231.1 L294.7,230.0 L295.6,230.1 L296.4,231.8 L297.3,230.1 L298.5,229.0 L299.6,227.3 L300.8,230.4 L301.9,236.5 L302.8,235.8 L303.6,236.3 L304.5,237.3 L305.4,235.5 L306.3,231.2 L307.1,228.1 L308.0,224.8 L308.9,224.1 L309.7,222.0 L310.5,219.9 L311.3,216.4 L312.9,212.2 L313.9,215.1 L314.8,219.8 L316.0,224.5 L317.1,232.8 L318.0,232.1 L318.9,230.2 L319.7,227.4 L320.6,225.8 L321.8,223.6 L323.0,222.6 L324.1,219.9 L325.3,218.5 L326.5,222.5 L327.6,229.4 L328.5,231.1 L329.4,233.0 L330.2,235.5 L331.1,236.1 L332.0,235.3 L332.9,234.9 L333.7,235.8 L334.6,235.8 L335.5,237.9 L336.4,236.4 L337.2,236.4 L338.1,234.9 L339.1,230.6 L340.0,226.5 L340.9,225.0 L341.9,224.0 L342.8,221.8 L343.7,220.4 L344.6,219.5 L345.4,219.7 L346.3,218.5 L347.5,212.9 L348.7,217.6 L349.9,226.4 L351.0,235.3 L351.9,236.9 L352.8,237.2 L353.6,235.9 L354.5,235.6 L355.6,233.0 L356.8,230.5 L357.7,230.5 L358.6,231.6 L359.4,232.2 L360.3,233.4 L361.2,232.0 L362.1,230.6 L362.9,229.0 L363.8,227.7 L363.8,233.3 L362.9,234.9 L362.1,235.5 L361.2,235.8 L360.3,236.3 L359.4,235.3 L358.6,235.3 L357.7,233.3 L356.8,234.7 L355.6,237.8 L354.5,239.1 L353.6,238.9 L352.8,239.9 L351.9,239.4 L351.0,241.4 L349.9,234.8 L348.7,226.7 L347.5,215.5 L346.3,225.0 L345.4,222.9 L344.6,222.9 L343.7,224.3 L342.8,226.4 L341.9,228.0 L340.9,229.6 L340.0,232.8 L339.1,237.7 L338.1,240.9 L337.2,240.0 L336.4,240.5 L335.5,242.4 L334.6,241.9 L333.7,240.7 L332.9,240.5 L332.0,241.3 L331.1,240.9 L330.2,241.3 L329.4,240.5 L328.5,238.1 L327.6,238.2 L326.5,233.8 L325.3,226.2 L324.1,226.7 L323.0,229.4 L321.8,229.7 L320.6,232.7 L319.7,233.9 L318.9,236.1 L318.0,237.2 L317.1,239.4 L316.0,235.0 L314.8,229.3 L313.9,224.1 L312.9,215.5 L311.3,223.0 L310.5,224.7 L309.7,226.9 L308.9,229.7 L308.0,231.9 L307.1,235.6 L306.3,239.3 L305.4,241.8 L304.5,241.0 L303.6,239.5 L302.8,239.5 L301.9,241.0 L300.8,238.6 L299.6,233.1 L298.5,233.5 L297.3,235.3 L296.4,235.5 L295.6,235.5 L294.7,233.7 L293.8,234.3 L293.0,233.4 L292.2,232.5 L291.4,232.2 L290.2,235.3 L289.1,236.8 L288.2,237.1 L287.2,238.0 L286.3,238.8 L285.1,236.8 L284.0,230.6 L283.1,233.8 L282.1,235.7 L281.2,236.1 L280.4,235.7 L279.5,237.2 L278.6,240.3 L277.7,239.9 L276.9,239.5 L276.0,239.0 L275.1,239.6 L274.1,235.1 L273.2,227.2 L271.6,235.5 L270.7,234.9 L269.9,234.8 L269.0,235.8 L268.1,238.3 L267.2,237.6 L266.4,238.2 L265.5,237.2 L264.6,238.3 L263.7,235.3 L262.9,235.6 L262.0,234.1 L261.1,231.9 L260.2,235.3 L259.4,238.2 L258.5,242.1 L257.6,243.0 L256.7,242.3 L255.9,239.8 L255.0,240.0 L254.1,237.7 L253.2,237.6 L252.3,237.0 L251.4,235.3 L250.5,238.4 L249.3,235.9 L248.2,233.0 L247.1,232.5 L245.9,229.4 L245.1,232.6 L244.3,235.2 L243.5,237.6 L242.3,237.7 L241.2,239.4 L240.3,238.9 L239.4,239.1 L238.6,238.2 L237.7,238.9 L236.8,238.1 L235.9,238.0 L235.1,236.9 L234.2,236.5 L233.3,234.9 L232.4,235.5 L231.6,234.0 L230.7,233.2 L229.6,234.7 L228.4,235.7 L227.5,235.9 L226.7,239.8 L225.8,241.8 L224.9,241.2 L224.0,242.6 L223.2,242.1 L222.3,242.5 L221.4,242.0 L220.6,241.6 L219.8,241.2 L219.0,240.3 L218.1,239.8 L217.2,240.2 L216.4,239.2 L215.5,239.9 L214.3,236.3 L213.2,230.7 L212.0,235.9 L210.8,240.0 L209.9,239.0 L209.1,238.9 L208.2,238.6 L207.3,239.3 L206.0,237.2 L205.0,235.6 L204.0,234.8 L203.0,234.7 L202.1,236.1 L201.1,237.2 L200.2,238.0 L199.3,239.1 L198.4,238.6 L197.6,239.6 L196.7,240.4 L195.8,241.5 L194.9,240.6 L194.1,241.1 L193.2,241.0 L192.3,241.2 L191.4,241.7 L190.6,240.3 L189.7,241.2 L188.8,240.0 L187.9,240.3 L187.1,239.1 L186.2,237.7 L185.3,238.5 L184.4,238.0 L183.6,239.1 L182.7,239.7 L181.8,239.1 L180.9,237.4 L180.0,236.5 L179.1,235.7 L178.2,236.1 L177.3,238.6 L176.5,239.2 L175.6,240.0 L174.7,240.0 L173.8,235.6 L173.0,235.9 L172.1,234.2 L170.9,230.1 L169.8,223.8 L168.7,232.6 L167.5,239.7 L166.7,238.4 L165.9,239.5 L165.1,239.9 L163.9,238.6 L162.8,236.2 L161.7,232.3 L160.5,228.5 L159.7,230.9 L158.9,233.0 L158.1,234.3 L156.9,236.8 L155.8,238.2 L154.7,238.4 L153.5,238.8 L152.6,232.9 L151.6,230.3 L150.0,226.5 L149.2,228.9 L148.4,230.5 L147.6,231.9 L146.4,235.2 L145.3,237.6 L144.5,238.2 L143.7,241.3 L142.9,240.7 L141.8,240.1 L140.6,240.2 L139.7,240.9 L138.8,243.2 L138.0,243.5 L137.1,244.9 L136.2,244.8 L135.3,243.7 L134.5,243.5 L133.6,243.0 L132.4,241.8 L131.3,238.1 L130.5,238.9 L129.7,238.3 L128.9,238.4 L128.0,239.2 L127.2,240.5 L126.3,241.3 L125.4,241.0 L124.5,241.4 L123.7,241.5 L122.8,241.2 L121.9,241.6 L120.9,240.4 L119.9,242.0 L118.9,236.6 L117.7,227.2 L116.8,230.3 L116.0,234.1 L114.8,234.2 L113.7,235.4 L112.8,236.5 L112.0,236.7 L111.1,239.8 L110.2,239.4 L109.3,239.3 L108.5,240.1 L107.6,241.1 L106.7,240.4 L105.6,238.1 L104.4,233.9 L103.2,227.1 L102.0,234.0 L101.1,232.5 L100.2,232.5 L99.3,233.8 L98.3,238.8 L97.4,241.3 L96.2,241.9 L95.1,242.2 L93.9,240.7 L92.7,237.5 L91.6,240.4 L90.4,243.0 L89.5,241.6 L88.7,241.5 L87.8,240.6 L86.9,239.5 L86.0,239.6 L85.2,241.7 L84.3,241.8 L83.4,241.7 L82.5,241.3 L81.7,238.8 L80.8,241.4 L79.9,241.2 L79.1,240.5 L78.3,241.8 L77.5,240.7 L76.7,240.9 L75.9,242.2 L74.5,232.3 L72.9,241.7 L72.1,239.3 L71.3,238.8 L70.5,236.4 L69.5,234.7 L68.5,235.1 L67.5,235.3 L66.6,235.8 L65.6,235.9 L64.7,236.4 L63.5,236.0 L62.4,237.9 L61.5,239.3 L60.6,239.3 L59.7,240.0 L58.8,240.9 L57.9,241.0 L57.0,241.3 L56.2,240.0 L55.3,240.9Z" fill="rgba(125,150,200,0.34)" stroke="none"/>
<path d="M55.3,238.4 L56.2,236.9 L57.0,237.9 L57.9,237.8 L58.8,237.6 L59.7,237.1 L60.6,236.8 L61.5,236.0 L62.4,234.8 L63.5,233.4 L64.7,233.7 L65.6,232.4 L66.6,231.2 L67.5,229.8 L68.5,229.5 L69.5,232.1 L70.5,232.6 L71.3,234.2 L72.1,234.5 L72.9,236.2 L74.5,229.7 L75.9,235.8 L76.7,237.5 L77.5,237.1 L78.3,238.6 L79.1,236.2 L79.9,237.3 L80.8,238.3 L81.7,236.8 L82.5,237.1 L83.4,238.6 L84.3,238.9 L85.2,237.2 L86.0,236.0 L86.9,236.2 L87.8,236.4 L88.7,237.7 L89.5,237.7 L90.4,238.3 L91.6,234.4 L92.7,233.5 L93.9,234.9 L95.1,236.5 L96.2,236.7 L97.4,234.4 L98.3,230.5 L99.3,227.7 L100.2,227.9 L101.1,226.3 L102.0,223.4 L103.2,215.9 L104.4,226.4 L105.6,230.6 L106.7,234.8 L107.6,237.2 L108.5,236.0 L109.3,236.5 L110.2,236.2 L111.1,234.4 L112.0,231.2 L112.8,231.5 L113.7,230.4 L114.8,229.0 L116.0,227.6 L116.8,219.5 L117.7,214.6 L118.9,232.0 L119.9,237.3 L120.9,237.7 L121.9,238.7 L122.8,238.8 L123.7,239.6 L124.5,239.3 L125.4,238.7 L126.3,237.7 L127.2,235.8 L128.0,235.0 L128.9,234.7 L129.7,234.8 L130.5,234.8 L131.3,233.8 L132.4,235.8 L133.6,238.0 L134.5,239.6 L135.3,239.4 L136.2,239.8 L137.1,239.8 L138.0,237.8 L138.8,237.3 L139.7,236.0 L140.6,236.3 L141.8,236.0 L142.9,237.0 L143.7,235.1 L144.5,232.3 L145.3,231.5 L146.4,227.8 L147.6,224.3 L148.4,222.1 L149.2,220.1 L150.0,219.4 L151.6,221.9 L152.6,224.5 L153.5,231.6 L154.7,235.3 L155.8,233.3 L156.9,230.6 L158.1,228.0 L158.9,228.0 L159.7,225.5 L160.5,224.3 L161.7,225.6 L162.8,229.5 L163.9,231.9 L165.1,235.1 L165.9,235.1 L166.7,234.4 L167.5,232.6 L168.7,224.2 L169.8,220.6 L170.9,223.9 L172.1,227.5 L173.0,231.6 L173.8,230.5 L174.7,234.0 L175.6,236.4 L176.5,235.6 L177.3,234.0 L178.2,232.5 L179.1,232.5 L180.0,233.3 L180.9,233.8 L181.8,234.7 L182.7,236.5 L183.6,235.2 L184.4,234.9 L185.3,235.2 L186.2,234.1 L187.1,234.7 L187.9,236.2 L188.8,236.5 L189.7,237.6 L190.6,236.8 L191.4,238.6 L192.3,238.3 L193.2,238.4 L194.1,238.6 L194.9,238.7 L195.8,239.1 L196.7,237.5 L197.6,237.2 L198.4,236.0 L199.3,236.3 L200.2,234.9 L201.1,234.1 L202.1,232.7 L203.0,231.4 L204.0,232.0 L205.0,231.6 L206.0,232.2 L207.3,235.4 L208.2,234.8 L209.1,235.1 L209.9,234.6 L210.8,232.7 L212.0,227.2 L213.2,226.0 L214.3,228.1 L215.5,234.3 L216.4,234.9 L217.2,236.3 L218.1,236.1 L219.0,235.4 L219.8,236.6 L220.6,238.1 L221.4,237.9 L222.3,237.8 L223.2,237.2 L224.0,237.5 L224.9,236.8 L225.8,236.6 L226.7,233.5 L227.5,231.2 L228.4,231.4 L229.6,229.9 L230.7,229.3 L231.6,229.4 L232.4,231.5 L233.3,231.3 L234.2,232.3 L235.1,232.5 L235.9,234.0 L236.8,234.2 L237.7,235.3 L238.6,234.6 L239.4,235.2 L240.3,235.1 L241.2,235.2 L242.3,233.7 L243.5,232.2 L244.3,229.0 L245.1,227.0 L245.9,226.3 L247.1,227.9 L248.2,228.8 L249.3,230.7 L250.5,235.2 L251.4,233.1 L252.3,233.8 L253.2,234.6 L254.1,233.9 L255.0,235.9 L255.9,236.4 L256.7,238.4 L257.6,239.6 L258.5,235.2 L259.4,231.7 L260.2,229.2 L261.1,227.3 L262.0,228.1 L262.9,230.4 L263.7,231.3 L264.6,233.6 L265.5,233.9 L266.4,234.4 L267.2,234.1 L268.1,233.3 L269.0,230.6 L269.9,230.2 L270.7,230.7 L271.6,227.9 L273.2,222.6 L274.1,225.3 L275.1,233.1 L276.0,234.9 L276.9,235.7 L277.7,236.9 L278.6,235.5 L279.5,232.8 L280.4,232.5 L281.2,232.2 L282.1,230.7 L283.1,228.8 L284.0,226.4 L285.1,229.9 L286.3,234.1 L287.2,233.6 L288.2,232.2 L289.1,231.3 L290.2,228.6 L291.4,226.9 L292.2,227.5 L293.0,228.9 L293.8,231.7 L294.7,231.1 L295.6,231.2 L296.4,232.4 L297.3,231.5 L298.5,229.8 L299.6,228.2 L300.8,231.0 L301.9,236.2 L302.8,236.1 L303.6,235.9 L304.5,237.2 L305.4,235.6 L306.3,231.5 L307.1,228.0 L308.0,225.0 L308.9,223.8 L309.7,221.0 L310.5,219.4 L311.3,216.2 L312.9,211.8 L313.9,215.2 L314.8,220.5 L316.0,225.5 L317.1,234.1 L318.0,232.8 L318.9,231.1 L319.7,229.0 L320.6,227.4 L321.8,225.0 L323.0,224.1 L324.1,221.9 L325.3,220.3 L326.5,224.3 L327.6,231.5 L328.5,233.2 L329.4,235.3 L330.2,237.1 L331.1,237.8 L332.0,237.2 L332.9,236.7 L333.7,237.0 L334.6,237.4 L335.5,239.2 L336.4,237.1 L337.2,237.1 L338.1,234.6 L339.1,221.0 L340.0,208.0 L340.9,209.1 L341.9,209.7 L342.8,208.6 L343.7,207.1 L344.6,207.3 L345.4,208.3 L346.3,204.6 L347.5,192.8 L348.7,217.1 L349.9,225.6 L351.0,234.6 L351.9,236.1 L352.8,236.3 L353.6,235.3 L354.5,234.9 L355.6,232.4 L356.8,229.9 L357.7,230.1 L358.6,232.0 L359.4,233.0 L360.3,233.7 L361.2,232.1 L362.1,231.1 L362.9,229.8 L363.8,228.6 L363.8,233.2 L362.9,235.0 L362.1,236.4 L361.2,236.7 L360.3,237.3 L359.4,236.1 L358.6,236.1 L357.7,234.7 L356.8,236.5 L355.6,240.0 L354.5,240.9 L353.6,240.5 L352.8,241.9 L351.9,241.3 L351.0,243.6 L349.9,236.7 L348.7,228.3 L347.5,203.6 L346.3,215.2 L345.4,213.5 L344.6,212.3 L343.7,212.7 L342.8,213.4 L341.9,213.4 L340.9,212.5 L340.0,216.4 L339.1,229.4 L338.1,243.6 L337.2,240.0 L336.4,240.7 L335.5,241.7 L334.6,240.8 L333.7,240.0 L332.9,239.2 L332.0,240.1 L331.1,240.4 L330.2,240.4 L329.4,239.5 L328.5,237.1 L327.6,237.3 L326.5,233.1 L325.3,225.1 L324.1,226.0 L323.0,228.3 L321.8,229.8 L320.6,232.0 L319.7,233.6 L318.9,236.7 L318.0,237.7 L317.1,239.3 L316.0,234.8 L314.8,229.5 L313.9,224.9 L312.9,217.2 L311.3,224.6 L310.5,225.8 L309.7,228.6 L308.9,231.0 L308.0,232.7 L307.1,236.7 L306.3,240.1 L305.4,242.6 L304.5,241.8 L303.6,241.1 L302.8,240.6 L301.9,242.0 L300.8,239.2 L299.6,233.6 L298.5,234.1 L297.3,234.9 L296.4,235.7 L295.6,235.1 L294.7,233.5 L293.8,234.7 L293.0,234.2 L292.2,233.4 L291.4,232.5 L290.2,234.9 L289.1,237.5 L288.2,238.0 L287.2,238.4 L286.3,239.3 L285.1,237.2 L284.0,230.6 L283.1,233.5 L282.1,235.7 L281.2,237.0 L280.4,236.1 L279.5,238.1 L278.6,240.3 L277.7,239.5 L276.9,239.4 L276.0,239.2 L275.1,240.3 L274.1,236.4 L273.2,227.4 L271.6,236.1 L270.7,234.6 L269.9,234.9 L269.0,235.5 L268.1,237.7 L267.2,237.8 L266.4,237.6 L265.5,236.5 L264.6,237.4 L263.7,235.1 L262.9,235.3 L262.0,233.4 L261.1,232.1 L260.2,234.9 L259.4,237.6 L258.5,241.7 L257.6,243.2 L256.7,242.3 L255.9,240.1 L255.0,240.5 L254.1,237.1 L253.2,238.2 L252.3,238.2 L251.4,235.8 L250.5,238.2 L249.3,236.0 L248.2,233.0 L247.1,232.3 L245.9,230.7 L245.1,234.0 L244.3,236.2 L243.5,238.8 L242.3,238.8 L241.2,240.6 L240.3,240.4 L239.4,240.3 L238.6,239.6 L237.7,240.5 L236.8,239.9 L235.9,239.4 L235.1,237.7 L234.2,236.5 L233.3,235.2 L232.4,234.9 L231.6,233.0 L230.7,232.5 L229.6,234.5 L228.4,235.0 L227.5,235.1 L226.7,239.0 L225.8,241.2 L224.9,241.4 L224.0,242.5 L223.2,242.6 L222.3,243.2 L221.4,242.5 L220.6,242.2 L219.8,241.4 L219.0,240.4 L218.1,239.5 L217.2,239.6 L216.4,237.9 L215.5,239.1 L214.3,235.9 L213.2,231.0 L212.0,235.2 L210.8,240.7 L209.9,239.2 L209.1,239.2 L208.2,239.6 L207.3,240.4 L206.0,238.8 L205.0,236.5 L204.0,236.1 L203.0,235.0 L202.1,236.5 L201.1,237.6 L200.2,238.5 L199.3,239.1 L198.4,239.0 L197.6,240.5 L196.7,240.7 L195.8,241.9 L194.9,241.3 L194.1,241.7 L193.2,242.0 L192.3,242.2 L191.4,242.9 L190.6,242.3 L189.7,242.8 L188.8,241.5 L187.9,241.9 L187.1,241.0 L186.2,239.3 L185.3,240.8 L184.4,240.0 L183.6,241.2 L182.7,241.7 L181.8,240.6 L180.9,238.5 L180.0,236.6 L179.1,236.3 L178.2,235.7 L177.3,238.0 L176.5,238.9 L175.6,239.4 L174.7,239.3 L173.8,234.5 L173.0,235.3 L172.1,234.3 L170.9,230.4 L169.8,224.8 L168.7,233.8 L167.5,240.8 L166.7,240.0 L165.9,240.4 L165.1,240.7 L163.9,239.3 L162.8,236.9 L161.7,233.0 L160.5,229.5 L159.7,231.3 L158.9,232.4 L158.1,233.8 L156.9,236.1 L155.8,237.7 L154.7,238.2 L153.5,239.4 L152.6,233.4 L151.6,228.1 L150.0,223.6 L149.2,225.9 L148.4,227.4 L147.6,230.5 L146.4,234.6 L145.3,237.3 L144.5,238.4 L143.7,241.2 L142.9,241.2 L141.8,240.5 L140.6,239.5 L139.7,240.0 L138.8,242.6 L138.0,243.4 L137.1,244.0 L136.2,244.2 L135.3,243.1 L134.5,242.5 L133.6,242.4 L132.4,241.0 L131.3,237.2 L130.5,237.7 L129.7,238.2 L128.9,238.7 L128.0,239.2 L127.2,241.1 L126.3,242.1 L125.4,241.7 L124.5,242.0 L123.7,242.2 L122.8,241.8 L121.9,241.7 L120.9,240.6 L119.9,241.0 L118.9,241.4 L117.7,223.8 L116.8,227.8 L116.0,234.2 L114.8,233.8 L113.7,236.0 L112.8,236.4 L112.0,236.2 L111.1,239.8 L110.2,239.6 L109.3,239.0 L108.5,239.3 L107.6,240.7 L106.7,241.0 L105.6,238.7 L104.4,237.6 L103.2,222.5 L102.0,233.6 L101.1,232.1 L100.2,232.9 L99.3,234.1 L98.3,238.8 L97.4,241.4 L96.2,241.9 L95.1,241.7 L93.9,240.1 L92.7,237.5 L91.6,240.2 L90.4,242.1 L89.5,240.4 L88.7,241.4 L87.8,240.8 L86.9,239.6 L86.0,239.0 L85.2,241.0 L84.3,241.8 L83.4,241.8 L82.5,241.7 L81.7,239.6 L80.8,241.3 L79.9,240.9 L79.1,240.7 L78.3,241.5 L77.5,240.0 L76.7,241.3 L75.9,242.4 L74.5,232.1 L72.9,242.0 L72.1,239.5 L71.3,238.8 L70.5,236.2 L69.5,236.8 L68.5,234.8 L67.5,234.2 L66.6,236.4 L65.6,237.3 L64.7,237.3 L63.5,236.4 L62.4,238.6 L61.5,239.2 L60.6,239.7 L59.7,240.2 L58.8,241.4 L57.9,242.1 L57.0,243.0 L56.2,240.7 L55.3,242.0Z" fill="rgba(245,172,125,0.40)" stroke="none"/>
<path d="M55.3,239.4 L56.2,238.2 L57.0,239.7 L57.9,239.6 L58.8,239.0 L59.7,237.9 L60.6,237.4 L61.5,237.3 L62.4,236.0 L63.5,234.5 L64.7,235.1 L65.6,233.9 L66.6,233.9 L67.5,233.1 L68.5,233.1 L69.5,233.0 L70.5,233.7 L71.3,235.8 L72.1,236.5 L72.9,238.5 L74.5,230.6 L75.9,238.5 L76.7,238.8 L77.5,238.3 L78.3,239.6 L79.1,238.1 L79.9,238.7 L80.8,239.5 L81.7,237.5 L82.5,239.1 L83.4,239.4 L84.3,239.7 L85.2,238.7 L86.0,236.9 L86.9,237.4 L87.8,237.9 L88.7,238.9 L89.5,238.5 L90.4,239.8 L91.6,236.9 L92.7,235.0 L93.9,236.9 L95.1,238.9 L96.2,239.0 L97.4,237.4 L98.3,234.2 L99.3,230.2 L100.2,229.5 L101.1,229.4 L102.0,230.5 L103.2,224.4 L104.4,229.2 L105.6,234.3 L106.7,237.3 L107.6,238.5 L108.5,237.1 L109.3,237.1 L110.2,237.1 L111.1,236.4 L112.0,233.2 L112.8,233.6 L113.7,232.5 L114.8,230.8 L116.0,230.2 L116.8,226.4 L117.7,223.9 L118.9,232.3 L119.9,238.7 L120.9,238.9 L121.9,239.8 L122.8,239.9 L123.7,240.2 L124.5,240.1 L125.4,239.7 L126.3,239.7 L127.2,238.1 L128.0,236.5 L128.9,236.4 L129.7,236.1 L130.5,235.9 L131.3,234.8 L132.4,237.8 L133.6,239.8 L134.5,240.5 L135.3,240.6 L136.2,241.7 L137.1,241.7 L138.0,240.2 L138.8,239.7 L139.7,237.6 L140.6,237.4 L141.8,237.5 L142.9,238.6 L143.7,237.9 L144.5,234.9 L145.3,234.0 L146.4,231.2 L147.6,228.5 L148.4,227.2 L149.2,225.2 L150.0,223.6 L151.6,226.6 L152.6,228.7 L153.5,235.2 L154.7,236.3 L155.8,235.0 L156.9,232.9 L158.1,230.7 L158.9,229.4 L159.7,227.6 L160.5,226.1 L161.7,228.8 L162.8,233.0 L163.9,235.3 L165.1,237.4 L165.9,237.5 L166.7,236.8 L167.5,236.4 L168.7,228.4 L169.8,222.0 L170.9,226.5 L172.1,230.6 L173.0,233.2 L173.8,232.1 L174.7,235.9 L175.6,237.3 L176.5,236.6 L177.3,235.5 L178.2,233.7 L179.1,234.1 L180.0,234.6 L180.9,235.6 L181.8,237.1 L182.7,238.4 L183.6,237.5 L184.4,236.7 L185.3,237.2 L186.2,236.5 L187.1,237.3 L187.9,238.8 L188.8,238.5 L189.7,239.6 L190.6,238.9 L191.4,240.2 L192.3,239.8 L193.2,239.6 L194.1,239.8 L194.9,239.2 L195.8,240.1 L196.7,238.4 L197.6,238.1 L198.4,237.2 L199.3,237.3 L200.2,236.0 L201.1,235.1 L202.1,234.2 L203.0,232.9 L204.0,233.3 L205.0,233.8 L206.0,235.2 L207.3,237.2 L208.2,236.5 L209.1,236.8 L209.9,236.3 L210.8,236.1 L212.0,231.0 L213.2,227.8 L214.3,231.4 L215.5,236.2 L216.4,236.2 L217.2,237.2 L218.1,237.0 L219.0,237.2 L219.8,238.3 L220.6,239.6 L221.4,239.7 L222.3,239.9 L223.2,239.2 L224.0,239.6 L224.9,238.4 L225.8,238.3 L226.7,235.5 L227.5,232.4 L228.4,232.7 L229.6,231.7 L230.7,230.5 L231.6,230.9 L232.4,232.9 L233.3,232.6 L234.2,234.0 L235.1,234.7 L235.9,236.4 L236.8,236.3 L237.7,237.3 L238.6,236.9 L239.4,237.5 L240.3,237.0 L241.2,237.2 L242.3,235.5 L243.5,234.9 L244.3,232.3 L245.1,229.9 L245.9,228.0 L247.1,229.9 L248.2,230.6 L249.3,232.7 L250.5,236.3 L251.4,233.8 L252.3,235.3 L253.2,235.9 L254.1,235.2 L255.0,237.7 L255.9,238.0 L256.7,239.8 L257.6,240.7 L258.5,238.3 L259.4,233.9 L260.2,231.8 L261.1,229.1 L262.0,230.4 L262.9,232.6 L263.7,232.5 L264.6,235.3 L265.5,234.4 L266.4,235.2 L267.2,235.2 L268.1,234.9 L269.0,232.5 L269.9,231.9 L270.7,232.3 L271.6,231.5 L273.2,224.5 L274.1,230.1 L275.1,236.0 L276.0,236.7 L276.9,237.2 L277.7,238.0 L278.6,237.4 L279.5,234.7 L280.4,233.8 L281.2,234.1 L282.1,232.7 L283.1,230.6 L284.0,227.9 L285.1,232.9 L286.3,236.2 L287.2,235.3 L288.2,234.4 L289.1,233.8 L290.2,231.4 L291.4,229.3 L292.2,230.0 L293.0,230.8 L293.8,232.7 L294.7,231.8 L295.6,232.8 L296.4,233.7 L297.3,232.7 L298.5,231.2 L299.6,230.2 L300.8,234.5 L301.9,238.7 L302.8,237.7 L303.6,237.9 L304.5,239.2 L305.4,238.7 L306.3,235.3 L307.1,231.8 L308.0,228.3 L308.9,226.9 L309.7,224.4 L310.5,222.3 L311.3,219.7 L312.9,213.8 L313.9,219.6 L314.8,224.5 L316.0,229.8 L317.1,236.1 L318.0,234.6 L318.9,233.1 L319.7,230.7 L320.6,229.2 L321.8,226.7 L323.0,226.0 L324.1,223.3 L325.3,222.4 L326.5,228.1 L327.6,233.8 L328.5,234.6 L329.4,236.7 L330.2,238.4 L331.1,238.5 L332.0,238.3 L332.9,237.7 L333.7,238.2 L334.6,238.9 L335.5,240.2 L336.4,238.5 L337.2,238.2 L338.1,237.9 L339.1,234.1 L340.0,229.6 L340.9,227.3 L341.9,226.0 L342.8,224.1 L343.7,222.3 L344.6,221.2 L345.4,221.3 L346.3,221.8 L347.5,214.2 L348.7,222.2 L349.9,230.6 L351.0,238.3 L351.9,238.1 L352.8,238.6 L353.6,237.4 L354.5,237.4 L355.6,235.4 L356.8,232.6 L357.7,231.9 L358.6,233.4 L359.4,233.8 L360.3,234.9 L361.2,233.9 L362.1,233.0 L362.9,231.9 L363.8,230.5" fill="none" stroke="#2373b3" stroke-width="1.2" stroke-linejoin="round"/>
<path d="M55.3,240.2 L56.2,238.8 L57.0,240.4 L57.9,239.9 L58.8,239.5 L59.7,238.6 L60.6,238.2 L61.5,237.6 L62.4,236.7 L63.5,234.9 L64.7,235.5 L65.6,234.8 L66.6,233.8 L67.5,232.0 L68.5,232.1 L69.5,234.4 L70.5,234.4 L71.3,236.5 L72.1,237.0 L72.9,239.1 L74.5,230.9 L75.9,239.1 L76.7,239.4 L77.5,238.6 L78.3,240.0 L79.1,238.5 L79.9,239.1 L80.8,239.8 L81.7,238.2 L82.5,239.4 L83.4,240.2 L84.3,240.3 L85.2,239.1 L86.0,237.5 L86.9,237.9 L87.8,238.6 L88.7,239.6 L89.5,239.1 L90.4,240.2 L91.6,237.3 L92.7,235.5 L93.9,237.5 L95.1,239.1 L96.2,239.3 L97.4,237.9 L98.3,234.7 L99.3,230.9 L100.2,230.4 L101.1,229.2 L102.0,228.5 L103.2,219.2 L104.4,232.0 L105.6,234.6 L106.7,237.9 L107.6,238.9 L108.5,237.7 L109.3,237.7 L110.2,237.9 L111.1,237.1 L112.0,233.7 L112.8,233.9 L113.7,233.2 L114.8,231.4 L116.0,230.9 L116.8,223.6 L117.7,219.2 L118.9,236.7 L119.9,239.2 L120.9,239.2 L121.9,240.2 L122.8,240.3 L123.7,240.9 L124.5,240.7 L125.4,240.2 L126.3,239.9 L127.2,238.5 L128.0,237.1 L128.9,236.7 L129.7,236.5 L130.5,236.3 L131.3,235.5 L132.4,238.4 L133.6,240.2 L134.5,241.0 L135.3,241.2 L136.2,242.0 L137.1,241.9 L138.0,240.6 L138.8,239.9 L139.7,238.0 L140.6,237.9 L141.8,238.2 L142.9,239.1 L143.7,238.1 L144.5,235.3 L145.3,234.4 L146.4,231.2 L147.6,227.4 L148.4,224.8 L149.2,223.0 L150.0,221.5 L151.6,225.0 L152.6,228.9 L153.5,235.5 L154.7,236.7 L155.8,235.5 L156.9,233.4 L158.1,230.9 L158.9,230.2 L159.7,228.4 L160.5,226.9 L161.7,229.3 L162.8,233.2 L163.9,235.6 L165.1,237.9 L165.9,237.8 L166.7,237.2 L167.5,236.7 L168.7,229.0 L169.8,222.7 L170.9,227.2 L172.1,230.9 L173.0,233.5 L173.8,232.5 L174.7,236.6 L175.6,237.9 L176.5,237.3 L177.3,236.0 L178.2,234.1 L179.1,234.4 L180.0,235.0 L180.9,236.2 L181.8,237.7 L182.7,239.1 L183.6,238.2 L184.4,237.5 L185.3,238.0 L186.2,236.7 L187.1,237.8 L187.9,239.0 L188.8,239.0 L189.7,240.2 L190.6,239.5 L191.4,240.8 L192.3,240.2 L193.2,240.2 L194.1,240.2 L194.9,240.0 L195.8,240.5 L196.7,239.1 L197.6,238.9 L198.4,237.5 L199.3,237.7 L200.2,236.7 L201.1,235.9 L202.1,234.6 L203.0,233.2 L204.0,234.0 L205.0,234.1 L206.0,235.5 L207.3,237.9 L208.2,237.2 L209.1,237.2 L209.9,236.9 L210.8,236.7 L212.0,231.2 L213.2,228.5 L214.3,232.0 L215.5,236.7 L216.4,236.4 L217.2,237.9 L218.1,237.8 L219.0,237.9 L219.8,239.0 L220.6,240.2 L221.4,240.2 L222.3,240.5 L223.2,239.9 L224.0,240.0 L224.9,239.1 L225.8,238.9 L226.7,236.2 L227.5,233.2 L228.4,233.2 L229.6,232.2 L230.7,230.9 L231.6,231.2 L232.4,233.2 L233.3,233.3 L234.2,234.4 L235.1,235.1 L235.9,236.7 L236.8,237.1 L237.7,237.9 L238.6,237.1 L239.4,237.8 L240.3,237.7 L241.2,237.9 L242.3,236.2 L243.5,235.5 L244.3,232.6 L245.1,230.5 L245.9,228.5 L247.1,230.1 L248.2,230.9 L249.3,233.3 L250.5,236.7 L251.4,234.4 L252.3,236.0 L253.2,236.4 L254.1,235.5 L255.0,238.2 L255.9,238.3 L256.7,240.3 L257.6,241.4 L258.5,238.5 L259.4,234.7 L260.2,232.0 L261.1,229.7 L262.0,230.8 L262.9,232.8 L263.7,233.2 L264.6,235.5 L265.5,235.2 L266.4,236.0 L267.2,235.9 L268.1,235.5 L269.0,233.0 L269.9,232.6 L270.7,232.6 L271.6,232.0 L273.2,225.0 L274.1,230.9 L275.1,236.7 L276.0,237.0 L276.9,237.5 L277.7,238.2 L278.6,237.9 L279.5,235.5 L280.4,234.3 L281.2,234.6 L282.1,233.2 L283.1,231.1 L284.0,228.5 L285.1,233.6 L286.3,236.7 L287.2,236.0 L288.2,235.1 L289.1,234.4 L290.2,231.8 L291.4,229.7 L292.2,230.4 L293.0,231.6 L293.8,233.2 L294.7,232.3 L295.6,233.2 L296.4,234.0 L297.3,233.2 L298.5,231.9 L299.6,230.9 L300.8,235.1 L301.9,239.1 L302.8,238.3 L303.6,238.5 L304.5,239.5 L305.4,239.1 L306.3,235.8 L307.1,232.3 L308.0,228.8 L308.9,227.4 L309.7,224.8 L310.5,222.6 L311.3,220.4 L312.9,214.5 L313.9,220.0 L314.8,225.0 L316.0,230.2 L317.1,236.7 L318.0,235.3 L318.9,233.9 L319.7,231.3 L320.6,229.7 L321.8,227.4 L323.0,226.2 L324.1,223.9 L325.3,222.7 L326.5,228.7 L327.6,234.4 L328.5,235.1 L329.4,237.4 L330.2,238.8 L331.1,239.1 L332.0,238.6 L332.9,238.0 L333.7,238.5 L334.6,239.1 L335.5,240.4 L336.4,238.9 L337.2,238.6 L338.1,239.1 L339.1,225.2 L340.0,212.2 L340.9,210.8 L341.9,211.5 L342.8,211.0 L343.7,209.9 L344.6,209.8 L345.4,210.9 L346.3,209.9 L347.5,198.2 L348.7,222.7 L349.9,231.2 L351.0,239.1 L351.9,238.7 L352.8,239.1 L353.6,237.9 L354.5,237.9 L355.6,236.2 L356.8,233.2 L357.7,232.4 L358.6,234.0 L359.4,234.5 L360.3,235.5 L361.2,234.4 L362.1,233.8 L362.9,232.4 L363.8,230.9" fill="none" stroke="#ef8232" stroke-width="1.3" stroke-linejoin="round"/>
<path d="M55.3,282.8 L56.1,282.6 L56.9,283.5 L57.7,283.1 L58.9,282.6 L60.0,282.4 L61.2,282.9 L62.4,282.1 L63.5,284.2 L64.7,288.5 L65.8,284.2 L67.0,280.0 L68.0,277.4 L68.9,275.5 L69.8,276.3 L70.8,279.6 L71.7,283.0 L72.8,278.7 L74.0,276.8 L74.8,278.3 L75.6,280.7 L76.4,283.6 L77.6,281.9 L78.7,280.6 L79.8,282.1 L81.0,285.6 L82.0,289.2 L82.9,291.9 L83.8,289.4 L84.8,288.6 L85.7,287.5 L86.8,288.5 L88.0,288.8 L88.9,289.5 L89.8,290.9 L90.6,292.2 L91.5,295.1 L92.4,292.6 L93.3,289.9 L94.2,288.8 L95.1,287.3 L96.2,284.4 L97.4,280.8 L98.6,276.2 L99.7,273.6 L100.7,274.1 L101.6,272.2 L102.4,276.0 L103.2,280.8 L104.4,284.7 L105.6,290.2 L106.8,288.1 L107.9,286.8 L109.1,286.1 L110.2,284.6 L111.4,279.7 L112.6,275.1 L113.8,268.6 L114.9,264.1 L116.1,266.4 L117.2,266.0 L118.4,270.0 L119.6,273.9 L120.8,276.9 L121.9,280.0 L122.8,279.7 L123.7,279.0 L124.5,278.5 L125.4,277.9 L126.6,278.7 L127.8,281.1 L128.7,276.9 L129.7,272.8 L130.6,269.7 L131.6,270.9 L132.6,272.4 L133.6,275.2 L134.5,273.9 L135.3,273.6 L136.2,274.0 L137.1,272.6 L138.0,270.0 L138.8,269.3 L139.7,267.1 L140.6,265.8 L141.8,267.3 L142.9,272.3 L143.9,273.6 L145.0,273.2 L146.0,273.6 L146.9,269.4 L147.8,267.7 L148.6,264.3 L149.5,263.0 L150.4,264.3 L151.4,266.8 L152.3,268.8 L153.2,270.3 L154.1,272.4 L154.9,273.8 L155.8,275.5 L156.6,274.4 L157.4,274.6 L158.2,274.3 L159.0,274.0 L159.8,272.6 L160.8,275.3 L161.8,278.7 L162.8,281.8 L163.9,286.1 L165.1,291.9 L166.0,291.8 L166.8,292.0 L167.7,291.6 L168.6,291.0 L169.4,286.9 L170.2,284.2 L171.0,281.8 L172.2,281.3 L173.3,280.3 L174.4,284.2 L175.6,290.7 L176.4,291.9 L177.2,293.0 L178.0,292.0 L179.2,286.4 L180.3,283.3 L181.5,284.6 L182.7,287.0 L183.6,287.7 L184.4,287.2 L185.3,287.1 L186.2,286.5 L187.1,287.3 L187.9,287.8 L188.8,288.6 L189.7,289.3 L190.6,289.9 L191.4,288.9 L192.3,288.2 L193.2,288.8 L194.1,287.2 L194.9,286.1 L195.8,285.6 L196.7,284.2 L197.6,283.3 L198.4,282.2 L199.3,280.4 L200.2,280.0 L201.1,279.9 L202.1,281.4 L203.0,279.9 L204.0,282.4 L205.0,287.5 L206.0,292.9 L207.3,292.4 L208.2,292.5 L209.1,292.8 L209.9,291.9 L210.8,291.0 L211.7,290.0 L212.6,288.5 L213.4,287.0 L214.3,285.8 L215.1,284.4 L216.0,283.5 L216.8,282.3 L217.7,281.1 L218.5,280.7 L219.3,280.9 L220.2,282.6 L221.0,283.3 L221.8,285.0 L222.6,285.7 L223.5,287.0 L224.3,288.2 L225.2,287.9 L226.0,289.3 L226.8,286.8 L227.7,284.7 L228.5,282.3 L229.4,281.0 L230.2,279.6 L231.1,281.1 L232.1,283.3 L233.0,285.0 L233.9,286.2 L234.8,286.5 L235.6,287.0 L236.5,287.4 L237.4,287.8 L238.2,287.8 L239.1,287.5 L240.0,287.9 L240.9,286.9 L241.8,288.8 L242.6,288.6 L243.5,288.5 L244.4,286.5 L245.2,285.2 L246.1,284.6 L247.0,282.9 L247.9,281.8 L248.8,280.8 L249.6,279.8 L250.5,278.0 L251.5,273.4 L252.6,270.0 L253.6,267.0 L254.5,268.3 L255.5,271.1 L256.4,272.2 L257.5,276.3 L258.7,283.3 L259.6,280.5 L260.4,277.8 L261.3,275.8 L262.2,274.2 L263.2,275.0 L264.3,277.2 L265.3,279.3 L266.2,279.8 L267.2,281.0 L268.1,282.6 L269.0,280.9 L269.9,278.9 L270.7,277.4 L271.6,276.4 L272.6,278.5 L273.6,280.9 L274.6,284.1 L275.5,284.9 L276.5,285.4 L277.4,284.3 L278.5,286.3 L279.7,290.7 L280.7,286.1 L281.6,283.1 L282.6,281.7 L283.6,283.3 L284.6,285.3 L285.6,287.3 L286.5,289.2 L287.4,290.9 L288.2,291.1 L289.1,292.8 L290.0,288.9 L290.9,284.8 L291.7,282.2 L292.6,278.7 L293.5,277.6 L294.4,277.6 L295.2,276.9 L296.1,275.9 L297.2,275.6 L298.4,274.9 L299.2,278.5 L300.0,282.3 L300.8,285.8 L301.7,287.2 L302.6,287.6 L303.4,288.7 L304.3,288.8 L305.2,288.3 L306.1,288.5 L306.9,288.6 L307.8,287.3 L309.0,281.1 L310.1,274.8 L311.0,270.1 L312.0,265.2 L312.9,262.5 L313.9,263.7 L315.0,267.4 L316.0,270.2 L316.9,272.4 L317.8,273.0 L318.6,274.6 L319.5,274.5 L320.6,276.8 L321.8,277.2 L322.7,275.0 L323.7,272.8 L324.6,271.4 L325.8,274.3 L326.9,280.4 L327.9,284.1 L329.0,285.9 L330.0,288.4 L331.1,290.5 L332.3,291.4 L333.2,291.4 L334.1,291.6 L334.9,291.7 L335.8,292.4 L336.7,292.5 L337.6,291.8 L338.4,292.4 L339.3,291.5 L340.5,288.3 L341.7,285.3 L342.6,284.6 L343.5,280.9 L344.7,270.6 L345.9,262.8 L346.8,265.5 L347.8,270.7 L348.7,275.8 L349.6,277.9 L350.4,278.1 L351.3,279.3 L352.2,280.1 L353.1,281.2 L353.9,281.4 L354.8,281.6 L355.7,282.2 L356.6,282.5 L357.4,283.7 L358.3,284.2 L359.2,285.7 L360.1,285.5 L361.0,286.8 L362.0,286.8 L362.9,287.4 L363.8,287.8 L363.8,292.2 L362.9,292.1 L362.0,291.7 L361.0,291.6 L360.1,290.4 L359.2,290.6 L358.3,290.1 L357.4,288.6 L356.6,287.4 L355.7,286.1 L354.8,285.6 L353.9,285.1 L353.1,285.0 L352.2,284.3 L351.3,283.5 L350.4,282.9 L349.6,282.7 L348.7,283.3 L347.8,281.2 L346.8,275.6 L345.9,271.4 L344.7,282.4 L343.5,292.7 L342.6,291.0 L341.7,292.6 L340.5,295.7 L339.3,298.4 L338.4,297.8 L337.6,298.5 L336.7,298.6 L335.8,298.8 L334.9,298.4 L334.1,298.2 L333.2,297.9 L332.3,298.1 L331.1,297.8 L330.0,296.4 L329.0,292.9 L327.9,291.2 L326.9,288.5 L325.8,282.8 L324.6,276.0 L323.7,278.5 L322.7,280.1 L321.8,281.9 L320.6,281.2 L319.5,280.0 L318.6,278.8 L317.8,277.6 L316.9,278.2 L316.0,277.0 L315.0,275.3 L313.9,271.2 L312.9,267.1 L312.0,274.5 L311.0,279.8 L310.1,284.6 L309.0,289.8 L307.8,293.1 L306.9,292.7 L306.1,293.4 L305.2,293.7 L304.3,293.9 L303.4,293.7 L302.6,291.8 L301.7,291.6 L300.8,292.0 L300.0,288.7 L299.2,286.3 L298.4,281.9 L297.2,281.7 L296.1,283.1 L295.2,284.0 L294.4,284.2 L293.5,284.1 L292.6,285.9 L291.7,289.0 L290.9,292.1 L290.0,295.5 L289.1,297.5 L288.2,295.4 L287.4,295.2 L286.5,294.3 L285.6,293.1 L284.6,291.4 L283.6,289.9 L282.6,287.4 L281.6,291.1 L280.7,293.2 L279.7,294.1 L278.5,292.2 L277.4,289.7 L276.5,288.7 L275.5,288.8 L274.6,288.9 L273.6,286.5 L272.6,284.7 L271.6,280.6 L270.7,282.5 L269.9,285.3 L269.0,287.2 L268.1,288.3 L267.2,287.4 L266.2,286.3 L265.3,285.1 L264.3,283.8 L263.2,281.1 L262.2,278.7 L261.3,281.1 L260.4,283.4 L259.6,286.2 L258.7,287.9 L257.5,284.7 L256.4,280.0 L255.5,277.6 L254.5,274.0 L253.6,271.4 L252.6,277.1 L251.5,280.7 L250.5,283.6 L249.6,284.2 L248.8,285.2 L247.9,287.1 L247.0,288.6 L246.1,289.8 L245.2,290.9 L244.4,293.1 L243.5,294.3 L242.6,293.1 L241.8,293.8 L240.9,292.9 L240.0,293.1 L239.1,292.2 L238.2,292.3 L237.4,292.5 L236.5,292.7 L235.6,292.8 L234.8,292.0 L233.9,292.9 L233.0,292.5 L232.1,290.8 L231.1,288.3 L230.2,284.2 L229.4,287.4 L228.5,288.8 L227.7,290.6 L226.8,292.5 L226.0,293.8 L225.2,292.9 L224.3,292.6 L223.5,292.9 L222.6,291.8 L221.8,290.9 L221.0,289.5 L220.2,288.7 L219.3,287.1 L218.5,285.4 L217.7,286.7 L216.8,288.2 L216.0,289.1 L215.1,289.5 L214.3,290.5 L213.4,291.9 L212.6,293.3 L211.7,295.0 L210.8,295.9 L209.9,296.0 L209.1,296.3 L208.2,296.5 L207.3,297.2 L206.0,299.0 L205.0,296.4 L204.0,291.3 L203.0,286.3 L202.1,286.2 L201.1,285.8 L200.2,286.8 L199.3,288.0 L198.4,289.5 L197.6,290.1 L196.7,291.9 L195.8,292.6 L194.9,293.2 L194.1,293.8 L193.2,294.3 L192.3,294.7 L191.4,295.2 L190.6,295.2 L189.7,295.6 L188.8,295.6 L187.9,294.8 L187.1,294.3 L186.2,293.3 L185.3,293.2 L184.4,292.7 L183.6,293.1 L182.7,293.5 L181.5,290.9 L180.3,287.8 L179.2,294.4 L178.0,297.5 L177.2,296.7 L176.4,295.6 L175.6,296.8 L174.4,293.4 L173.3,286.3 L172.2,287.1 L171.0,288.7 L170.2,292.7 L169.4,296.4 L168.6,298.4 L167.7,298.3 L166.8,298.5 L166.0,298.5 L165.1,300.0 L163.9,296.9 L162.8,292.0 L161.8,288.5 L160.8,284.9 L159.8,279.2 L159.0,279.6 L158.2,279.7 L157.4,281.0 L156.6,281.3 L155.8,282.1 L154.9,280.5 L154.1,280.2 L153.2,278.2 L152.3,276.4 L151.4,274.0 L150.4,270.7 L149.5,266.4 L148.6,271.2 L147.8,273.6 L146.9,276.2 L146.0,279.3 L145.0,277.9 L143.9,277.5 L142.9,278.0 L141.8,275.1 L140.6,269.7 L139.7,272.9 L138.8,274.6 L138.0,275.8 L137.1,277.5 L136.2,278.4 L135.3,278.5 L134.5,279.1 L133.6,279.5 L132.6,278.6 L131.6,276.9 L130.6,275.1 L129.7,279.9 L128.7,283.4 L127.8,284.8 L126.6,283.6 L125.4,281.3 L124.5,282.7 L123.7,282.7 L122.8,283.5 L121.9,284.3 L120.8,283.0 L119.6,280.9 L118.4,277.5 L117.2,272.3 L116.1,271.5 L114.9,271.8 L113.8,278.8 L112.6,284.4 L111.4,288.0 L110.2,290.7 L109.1,290.4 L107.9,291.7 L106.8,294.0 L105.6,294.8 L104.4,291.9 L103.2,288.1 L102.4,284.0 L101.6,277.3 L100.7,278.2 L99.7,279.0 L98.6,284.6 L97.4,287.9 L96.2,290.6 L95.1,293.2 L94.2,295.0 L93.3,297.0 L92.4,298.7 L91.5,299.6 L90.6,299.1 L89.8,296.9 L88.9,295.3 L88.0,293.5 L86.8,292.7 L85.7,290.9 L84.8,293.4 L83.8,294.3 L82.9,295.2 L82.0,294.8 L81.0,292.5 L79.8,290.2 L78.7,285.3 L77.6,286.7 L76.4,287.8 L75.6,286.5 L74.8,283.9 L74.0,282.0 L72.8,286.9 L71.7,288.6 L70.8,287.7 L69.8,285.0 L68.9,281.8 L68.0,286.5 L67.0,288.8 L65.8,292.1 L64.7,294.1 L63.5,293.3 L62.4,289.7 L61.2,289.5 L60.0,288.9 L58.9,289.4 L57.7,289.7 L56.9,289.6 L56.1,289.3 L55.3,287.9Z" fill="rgba(125,150,200,0.34)" stroke="none"/>
<path d="M55.3,283.9 L56.1,284.3 L56.9,284.8 L57.7,285.3 L58.9,283.7 L60.0,283.8 L61.2,284.3 L62.4,283.9 L63.5,285.7 L64.7,289.4 L65.8,284.4 L67.0,281.1 L68.0,279.0 L68.9,276.4 L69.8,277.7 L70.8,280.6 L71.7,283.4 L72.8,279.2 L74.0,277.1 L74.8,278.7 L75.6,281.4 L76.4,283.6 L77.6,282.4 L78.7,281.7 L79.8,283.5 L81.0,286.0 L82.0,289.2 L82.9,292.8 L83.8,290.8 L84.8,289.7 L85.7,288.4 L86.8,288.9 L88.0,289.7 L88.9,291.0 L89.8,292.8 L90.6,293.9 L91.5,295.9 L92.4,293.5 L93.3,291.2 L94.2,289.4 L95.1,287.5 L96.2,284.1 L97.4,281.7 L98.6,277.4 L99.7,274.3 L100.7,275.1 L101.6,273.5 L102.4,277.1 L103.2,281.4 L104.4,285.4 L105.6,291.3 L106.8,289.2 L107.9,286.9 L109.1,286.3 L110.2,285.3 L111.4,280.6 L112.6,275.4 L113.8,269.7 L114.9,266.1 L116.1,268.0 L117.2,267.5 L118.4,271.1 L119.6,275.3 L120.8,277.8 L121.9,280.5 L122.8,280.6 L123.7,280.1 L124.5,279.5 L125.4,278.7 L126.6,279.1 L127.8,281.4 L128.7,276.5 L129.7,272.5 L130.6,270.5 L131.6,271.5 L132.6,273.8 L133.6,276.2 L134.5,275.4 L135.3,274.4 L136.2,274.2 L137.1,273.2 L138.0,271.1 L138.8,270.2 L139.7,267.6 L140.6,266.0 L141.8,267.8 L142.9,272.2 L143.9,273.4 L145.0,274.1 L146.0,273.7 L146.9,269.8 L147.8,267.4 L148.6,264.2 L149.5,262.7 L150.4,264.4 L151.4,267.6 L152.3,269.9 L153.2,272.2 L154.1,274.3 L154.9,276.3 L155.8,277.8 L156.6,277.2 L157.4,276.5 L158.2,276.5 L159.0,276.2 L159.8,274.6 L160.8,277.7 L161.8,281.3 L162.8,283.8 L163.9,288.7 L165.1,294.7 L166.0,294.7 L166.8,294.5 L167.7,294.2 L168.6,293.5 L169.4,289.8 L170.2,286.2 L171.0,283.5 L172.2,283.1 L173.3,281.6 L174.4,285.6 L175.6,291.9 L176.4,293.1 L177.2,293.9 L178.0,293.3 L179.2,287.4 L180.3,284.3 L181.5,285.4 L182.7,289.0 L183.6,289.8 L184.4,288.5 L185.3,289.1 L186.2,289.2 L187.1,289.6 L187.9,290.5 L188.8,291.5 L189.7,292.0 L190.6,291.2 L191.4,291.2 L192.3,290.0 L193.2,290.2 L194.1,288.8 L194.9,288.0 L195.8,287.8 L196.7,286.3 L197.6,284.5 L198.4,283.3 L199.3,281.6 L200.2,281.6 L201.1,281.6 L202.1,281.8 L203.0,280.8 L204.0,283.4 L205.0,288.3 L206.0,293.8 L207.3,292.8 L208.2,292.8 L209.1,292.9 L209.9,293.0 L210.8,292.7 L211.7,291.1 L212.6,289.9 L213.4,287.6 L214.3,286.3 L215.1,285.4 L216.0,284.3 L216.8,283.0 L217.7,281.9 L218.5,281.6 L219.3,281.5 L220.2,283.3 L221.0,284.2 L221.8,285.6 L222.6,287.0 L223.5,288.2 L224.3,289.0 L225.2,289.0 L226.0,290.0 L226.8,287.8 L227.7,285.9 L228.5,283.8 L229.4,282.3 L230.2,281.2 L231.1,282.8 L232.1,284.9 L233.0,287.8 L233.9,288.7 L234.8,288.8 L235.6,289.4 L236.5,289.7 L237.4,289.5 L238.2,289.7 L239.1,288.9 L240.0,288.7 L240.9,288.6 L241.8,289.9 L242.6,290.2 L243.5,290.6 L244.4,288.0 L245.2,285.9 L246.1,285.5 L247.0,284.2 L247.9,282.5 L248.8,280.9 L249.6,280.1 L250.5,278.2 L251.5,273.8 L252.6,270.1 L253.6,267.0 L254.5,268.8 L255.5,272.0 L256.4,274.1 L257.5,277.7 L258.7,284.3 L259.6,281.5 L260.4,278.8 L261.3,276.5 L262.2,274.7 L263.2,275.2 L264.3,277.5 L265.3,279.9 L266.2,281.3 L267.2,283.3 L268.1,284.9 L269.0,282.3 L269.9,279.6 L270.7,277.3 L271.6,276.8 L272.6,278.3 L273.6,280.8 L274.6,284.2 L275.5,285.0 L276.5,285.2 L277.4,284.3 L278.5,286.1 L279.7,290.6 L280.7,287.0 L281.6,284.6 L282.6,282.8 L283.6,283.9 L284.6,286.2 L285.6,288.4 L286.5,289.5 L287.4,290.5 L288.2,291.1 L289.1,292.7 L290.0,288.6 L290.9,285.1 L291.7,281.9 L292.6,279.2 L293.5,279.1 L294.4,278.8 L295.2,278.5 L296.1,278.4 L297.2,277.7 L298.4,277.1 L299.2,280.0 L300.0,283.6 L300.8,287.0 L301.7,287.9 L302.6,288.2 L303.4,289.8 L304.3,290.6 L305.2,289.5 L306.1,289.8 L306.9,289.9 L307.8,287.9 L309.0,281.2 L310.1,275.6 L311.0,270.8 L312.0,266.1 L312.9,263.0 L313.9,265.2 L315.0,268.4 L316.0,272.2 L316.9,273.4 L317.8,273.4 L318.6,274.5 L319.5,275.1 L320.6,277.0 L321.8,277.9 L322.7,275.2 L323.7,273.6 L324.6,272.6 L325.8,275.6 L326.9,281.3 L327.9,285.2 L329.0,287.7 L330.0,290.9 L331.1,292.8 L332.3,294.2 L333.2,294.3 L334.1,294.0 L334.9,294.1 L335.8,294.4 L336.7,294.9 L337.6,293.6 L338.4,293.7 L339.3,293.4 L340.5,289.7 L341.7,287.4 L342.6,286.8 L343.5,283.2 L344.7,272.3 L345.9,264.3 L346.8,267.9 L347.8,272.4 L348.7,277.7 L349.6,278.6 L350.4,278.9 L351.3,279.7 L352.2,280.7 L353.1,281.4 L353.9,282.0 L354.8,282.0 L355.7,282.8 L356.6,283.0 L357.4,283.8 L358.3,285.4 L359.2,285.9 L360.1,286.3 L361.0,287.8 L362.0,288.7 L362.9,288.8 L363.8,289.7 L363.8,292.7 L362.9,292.7 L362.0,292.2 L361.0,292.3 L360.1,291.7 L359.2,291.9 L358.3,291.1 L357.4,290.5 L356.6,289.0 L355.7,288.0 L354.8,287.0 L353.9,286.1 L353.1,286.3 L352.2,285.3 L351.3,285.2 L350.4,284.2 L349.6,283.6 L348.7,283.7 L347.8,281.0 L346.8,275.6 L345.9,271.5 L344.7,282.5 L343.5,292.2 L342.6,290.9 L341.7,292.6 L340.5,296.7 L339.3,298.4 L338.4,298.4 L337.6,298.3 L336.7,298.5 L335.8,298.8 L334.9,298.2 L334.1,298.0 L333.2,297.4 L332.3,297.6 L331.1,297.1 L330.0,296.1 L329.0,293.4 L327.9,291.7 L326.9,289.5 L325.8,284.0 L324.6,277.2 L323.7,279.4 L322.7,282.3 L321.8,283.5 L320.6,282.8 L319.5,281.7 L318.6,281.0 L317.8,279.7 L316.9,278.6 L316.0,277.6 L315.0,275.9 L313.9,272.1 L312.9,268.0 L312.0,275.2 L311.0,280.7 L310.1,285.8 L309.0,291.3 L307.8,294.5 L306.9,293.2 L306.1,293.8 L305.2,294.1 L304.3,294.2 L303.4,294.5 L302.6,293.5 L301.7,293.2 L300.8,293.0 L300.0,289.9 L299.2,286.7 L298.4,281.9 L297.2,282.0 L296.1,283.0 L295.2,283.9 L294.4,284.9 L293.5,285.2 L292.6,286.8 L291.7,290.8 L290.9,294.0 L290.0,297.4 L289.1,299.1 L288.2,297.8 L287.4,297.1 L286.5,295.5 L285.6,294.0 L284.6,292.5 L283.6,291.5 L282.6,288.0 L281.6,291.8 L280.7,294.7 L279.7,296.4 L278.5,294.4 L277.4,291.1 L276.5,290.6 L275.5,290.7 L274.6,291.2 L273.6,289.0 L272.6,286.4 L271.6,282.2 L270.7,284.4 L269.9,286.6 L269.0,287.8 L268.1,288.1 L267.2,287.7 L266.2,286.7 L265.3,286.1 L264.3,285.1 L263.2,282.5 L262.2,279.7 L261.3,283.0 L260.4,285.0 L259.6,286.8 L258.7,288.7 L257.5,285.3 L256.4,280.3 L255.5,278.4 L254.5,275.5 L253.6,273.4 L252.6,278.5 L251.5,282.8 L250.5,285.6 L249.6,285.7 L248.8,286.8 L247.9,288.0 L247.0,288.8 L246.1,290.9 L245.2,292.3 L244.4,293.7 L243.5,294.2 L242.6,293.6 L241.8,294.3 L240.9,293.8 L240.0,293.7 L239.1,292.7 L238.2,292.8 L237.4,292.6 L236.5,292.7 L235.6,292.8 L234.8,292.2 L233.9,292.0 L233.0,292.2 L232.1,290.7 L231.1,288.2 L230.2,284.8 L229.4,287.6 L228.5,289.5 L227.7,291.2 L226.8,293.8 L226.0,294.8 L225.2,294.2 L224.3,293.4 L223.5,293.1 L222.6,292.6 L221.8,292.2 L221.0,290.9 L220.2,290.2 L219.3,288.4 L218.5,286.8 L217.7,288.4 L216.8,289.6 L216.0,290.0 L215.1,290.9 L214.3,291.5 L213.4,292.8 L212.6,294.4 L211.7,295.4 L210.8,296.7 L209.9,297.1 L209.1,298.1 L208.2,298.6 L207.3,299.0 L206.0,300.4 L205.0,297.5 L204.0,292.9 L203.0,287.6 L202.1,287.3 L201.1,286.8 L200.2,286.8 L199.3,288.5 L198.4,290.2 L197.6,290.8 L196.7,291.5 L195.8,292.0 L194.9,292.7 L194.1,294.3 L193.2,294.6 L192.3,295.1 L191.4,295.3 L190.6,295.3 L189.7,295.0 L188.8,295.1 L187.9,294.4 L187.1,294.0 L186.2,293.2 L185.3,293.2 L184.4,293.2 L183.6,293.4 L182.7,293.4 L181.5,291.8 L180.3,288.7 L179.2,295.1 L178.0,298.5 L177.2,297.4 L176.4,296.6 L175.6,297.5 L174.4,293.9 L173.3,286.8 L172.2,287.7 L171.0,289.5 L170.2,293.2 L169.4,295.9 L168.6,298.3 L167.7,297.5 L166.8,298.4 L166.0,298.1 L165.1,299.5 L163.9,296.6 L162.8,291.6 L161.8,287.6 L160.8,284.4 L159.8,279.8 L159.0,279.6 L158.2,279.8 L157.4,280.7 L156.6,281.1 L155.8,281.2 L154.9,280.5 L154.1,279.7 L153.2,278.5 L152.3,277.5 L151.4,274.8 L150.4,272.9 L149.5,268.3 L148.6,272.9 L147.8,275.7 L146.9,278.2 L146.0,280.7 L145.0,279.4 L143.9,279.2 L142.9,279.8 L141.8,276.7 L140.6,272.0 L139.7,274.0 L138.8,275.5 L138.0,276.8 L137.1,278.8 L136.2,279.7 L135.3,279.5 L134.5,280.0 L133.6,280.6 L132.6,279.8 L131.6,278.2 L130.6,276.9 L129.7,281.8 L128.7,285.6 L127.8,287.0 L126.6,285.3 L125.4,282.7 L124.5,283.2 L123.7,284.1 L122.8,284.8 L121.9,285.5 L120.8,284.2 L119.6,281.5 L118.4,278.2 L117.2,272.9 L116.1,271.9 L114.9,271.9 L113.8,279.9 L112.6,286.0 L111.4,289.5 L110.2,292.5 L109.1,292.5 L107.9,293.1 L106.8,294.7 L105.6,295.7 L104.4,293.0 L103.2,289.4 L102.4,284.8 L101.6,278.5 L100.7,278.8 L99.7,280.1 L98.6,285.6 L97.4,289.1 L96.2,292.3 L95.1,294.9 L94.2,296.7 L93.3,297.7 L92.4,299.9 L91.5,300.5 L90.6,299.6 L89.8,297.4 L88.9,296.0 L88.0,295.1 L86.8,294.1 L85.7,291.6 L84.8,294.2 L83.8,295.3 L82.9,296.6 L82.0,296.3 L81.0,294.0 L79.8,290.5 L78.7,286.7 L77.6,288.4 L76.4,289.4 L75.6,287.6 L74.8,285.9 L74.0,283.3 L72.8,287.9 L71.7,289.6 L70.8,288.5 L69.8,285.8 L68.9,282.6 L68.0,286.5 L67.0,289.7 L65.8,293.5 L64.7,295.4 L63.5,293.4 L62.4,290.5 L61.2,289.9 L60.0,289.2 L58.9,289.9 L57.7,290.1 L56.9,289.8 L56.1,289.1 L55.3,289.1Z" fill="rgba(245,172,125,0.40)" stroke="none"/>
<path d="M55.3,285.3 L56.1,286.0 L56.9,286.6 L57.7,286.4 L58.9,286.0 L60.0,285.6 L61.2,286.2 L62.4,285.9 L63.5,288.8 L64.7,291.3 L65.8,288.1 L67.0,284.4 L68.0,281.9 L68.9,278.6 L69.8,280.7 L70.8,283.6 L71.7,285.8 L72.8,282.8 L74.0,279.4 L74.8,281.1 L75.6,283.6 L76.4,285.7 L77.6,284.3 L78.7,282.9 L79.8,286.1 L81.0,289.0 L82.0,292.0 L82.9,293.6 L83.8,291.8 L84.8,291.0 L85.7,289.2 L86.8,290.6 L88.0,291.2 L88.9,292.4 L89.8,293.9 L90.6,295.7 L91.5,297.4 L92.4,295.7 L93.3,293.5 L94.2,291.9 L95.1,290.2 L96.2,287.5 L97.4,284.3 L98.6,280.4 L99.7,276.3 L100.7,276.2 L101.6,274.7 L102.4,280.0 L103.2,284.5 L104.4,288.3 L105.6,292.5 L106.8,291.1 L107.9,289.2 L109.1,288.3 L110.2,287.7 L111.4,283.9 L112.6,279.7 L113.8,273.7 L114.9,268.0 L116.1,268.9 L117.2,269.2 L118.4,273.8 L119.6,277.4 L120.8,280.0 L121.9,282.2 L122.8,281.6 L123.7,280.8 L124.5,280.6 L125.4,279.6 L126.6,281.1 L127.8,283.0 L128.7,280.1 L129.7,276.4 L130.6,272.4 L131.6,273.9 L132.6,275.5 L133.6,277.4 L134.5,276.5 L135.3,276.1 L136.2,276.2 L137.1,275.0 L138.0,272.9 L138.8,272.0 L139.7,270.0 L140.6,267.7 L141.8,271.2 L142.9,275.1 L143.9,275.5 L145.0,275.6 L146.0,276.4 L146.9,272.8 L147.8,270.6 L148.6,267.7 L149.5,264.7 L150.4,267.5 L151.4,270.4 L152.3,272.6 L153.2,274.2 L154.1,276.3 L154.9,277.1 L155.8,278.8 L156.6,277.9 L157.4,277.8 L158.2,277.0 L159.0,276.8 L159.8,275.9 L160.8,280.1 L161.8,283.6 L162.8,286.9 L163.9,291.5 L165.1,295.9 L166.0,295.1 L166.8,295.2 L167.7,294.9 L168.6,294.7 L169.4,291.6 L170.2,288.5 L171.0,285.2 L172.2,284.2 L173.3,283.3 L174.4,288.8 L175.6,293.7 L176.4,293.8 L177.2,294.8 L178.0,294.7 L179.2,290.4 L180.3,285.6 L181.5,287.8 L182.7,290.2 L183.6,290.4 L184.4,290.0 L185.3,290.2 L186.2,289.9 L187.1,290.8 L187.9,291.3 L188.8,292.1 L189.7,292.5 L190.6,292.5 L191.4,292.1 L192.3,291.5 L193.2,291.6 L194.1,290.5 L194.9,289.6 L195.8,289.1 L196.7,288.0 L197.6,286.7 L198.4,285.8 L199.3,284.2 L200.2,283.4 L201.1,282.9 L202.1,283.8 L203.0,283.1 L204.0,286.8 L205.0,291.9 L206.0,295.9 L207.3,294.8 L208.2,294.5 L209.1,294.6 L209.9,294.0 L210.8,293.5 L211.7,292.5 L212.6,290.9 L213.4,289.4 L214.3,288.2 L215.1,287.0 L216.0,286.3 L216.8,285.2 L217.7,283.9 L218.5,283.1 L219.3,284.0 L220.2,285.6 L221.0,286.4 L221.8,288.0 L222.6,288.8 L223.5,289.9 L224.3,290.4 L225.2,290.4 L226.0,291.6 L226.8,289.6 L227.7,287.6 L228.5,285.5 L229.4,284.2 L230.2,281.9 L231.1,284.7 L232.1,287.1 L233.0,288.8 L233.9,289.6 L234.8,289.3 L235.6,289.9 L236.5,290.0 L237.4,290.1 L238.2,290.0 L239.1,289.8 L240.0,290.5 L240.9,289.9 L241.8,291.3 L242.6,290.9 L243.5,291.4 L244.4,289.8 L245.2,288.1 L246.1,287.2 L247.0,285.8 L247.9,284.5 L248.8,283.0 L249.6,282.0 L250.5,280.8 L251.5,277.1 L252.6,273.5 L253.6,269.2 L254.5,271.1 L255.5,274.3 L256.4,276.1 L257.5,280.5 L258.7,285.6 L259.6,283.3 L260.4,280.6 L261.3,278.5 L262.2,276.5 L263.2,278.1 L264.3,280.5 L265.3,282.2 L266.2,283.1 L267.2,284.2 L268.1,285.5 L269.0,284.0 L269.9,282.1 L270.7,279.9 L271.6,278.5 L272.6,281.6 L273.6,283.7 L274.6,286.5 L275.5,286.8 L276.5,287.0 L277.4,287.0 L278.5,289.3 L279.7,292.4 L280.7,289.6 L281.6,287.1 L282.6,284.6 L283.6,286.6 L284.6,288.3 L285.6,290.2 L286.5,291.7 L287.4,293.0 L288.2,293.2 L289.1,295.2 L290.0,292.2 L290.9,288.5 L291.7,285.6 L292.6,282.3 L293.5,280.9 L294.4,280.9 L295.2,280.4 L296.1,279.5 L297.2,278.7 L298.4,278.4 L299.2,282.4 L300.0,285.5 L300.8,288.9 L301.7,289.4 L302.6,289.7 L303.4,291.2 L304.3,291.3 L305.2,291.0 L306.1,291.0 L306.9,290.7 L307.8,290.2 L309.0,285.5 L310.1,279.7 L311.0,275.0 L312.0,269.9 L312.9,264.8 L313.9,267.5 L315.0,271.3 L316.0,273.6 L316.9,275.3 L317.8,275.3 L318.6,276.7 L319.5,277.3 L320.6,279.0 L321.8,279.5 L322.7,277.5 L323.7,275.6 L324.6,273.7 L325.8,278.5 L326.9,284.5 L327.9,287.7 L329.0,289.4 L330.0,292.4 L331.1,294.1 L332.3,294.7 L333.2,294.7 L334.1,294.9 L334.9,295.0 L335.8,295.6 L336.7,295.6 L337.6,295.2 L338.4,295.1 L339.3,294.9 L340.5,292.0 L341.7,289.0 L342.6,287.8 L343.5,286.8 L344.7,276.5 L345.9,267.1 L346.8,270.6 L347.8,275.9 L348.7,279.6 L349.6,280.3 L350.4,280.5 L351.3,281.4 L352.2,282.2 L353.1,283.1 L353.9,283.2 L354.8,283.6 L355.7,284.1 L356.6,285.0 L357.4,286.2 L358.3,287.2 L359.2,288.2 L360.1,288.0 L361.0,289.2 L362.0,289.3 L362.9,289.8 L363.8,290.0" fill="none" stroke="#2373b3" stroke-width="1.2" stroke-linejoin="round"/>
<path d="M55.3,286.5 L56.1,286.7 L56.9,287.3 L57.7,287.7 L58.9,286.8 L60.0,286.5 L61.2,287.1 L62.4,287.2 L63.5,289.6 L64.7,292.4 L65.8,288.9 L67.0,285.4 L68.0,282.8 L68.9,279.5 L69.8,281.8 L70.8,284.5 L71.7,286.5 L72.8,283.5 L74.0,280.2 L74.8,282.3 L75.6,284.5 L76.4,286.5 L77.6,285.4 L78.7,284.2 L79.8,287.0 L81.0,290.0 L82.0,292.7 L82.9,294.7 L83.8,293.1 L84.8,292.0 L85.7,290.0 L86.8,291.5 L88.0,292.4 L88.9,293.5 L89.8,295.1 L90.6,296.7 L91.5,298.2 L92.4,296.7 L93.3,294.4 L94.2,293.0 L95.1,291.2 L96.2,288.2 L97.4,285.4 L98.6,281.5 L99.7,277.2 L100.7,276.9 L101.6,276.0 L102.4,280.9 L103.2,285.4 L104.4,289.2 L105.6,293.5 L106.8,292.0 L107.9,290.0 L109.1,289.4 L110.2,288.9 L111.4,285.1 L112.6,280.7 L113.8,274.8 L114.9,269.0 L116.1,269.9 L117.2,270.2 L118.4,274.7 L119.6,278.4 L120.8,281.0 L121.9,283.0 L122.8,282.7 L123.7,282.1 L124.5,281.3 L125.4,280.7 L126.6,282.2 L127.8,284.2 L128.7,281.1 L129.7,277.2 L130.6,273.7 L131.6,274.9 L132.6,276.8 L133.6,278.4 L134.5,277.7 L135.3,277.0 L136.2,277.0 L137.1,276.0 L138.0,273.9 L138.8,272.8 L139.7,270.8 L140.6,269.0 L141.8,272.2 L142.9,276.0 L143.9,276.3 L145.0,276.8 L146.0,277.2 L146.9,274.0 L147.8,271.6 L148.6,268.5 L149.5,265.5 L150.4,268.6 L151.4,271.2 L152.3,273.7 L153.2,275.4 L154.1,277.0 L154.9,278.4 L155.8,279.5 L156.6,279.2 L157.4,278.6 L158.2,278.1 L159.0,277.9 L159.8,277.2 L160.8,281.0 L161.8,284.5 L162.8,287.7 L163.9,292.7 L165.1,297.1 L166.0,296.4 L166.8,296.4 L167.7,295.9 L168.6,295.9 L169.4,292.8 L170.2,289.7 L171.0,286.5 L172.2,285.4 L173.3,284.2 L174.4,289.7 L175.6,294.7 L176.4,294.9 L177.2,295.7 L178.0,295.9 L179.2,291.3 L180.3,286.5 L181.5,288.6 L182.7,291.2 L183.6,291.6 L184.4,290.8 L185.3,291.2 L186.2,291.2 L187.1,291.8 L187.9,292.4 L188.8,293.3 L189.7,293.5 L190.6,293.3 L191.4,293.3 L192.3,292.5 L193.2,292.4 L194.1,291.5 L194.9,290.4 L195.8,289.9 L196.7,288.9 L197.6,287.7 L198.4,286.8 L199.3,285.1 L200.2,284.2 L201.1,284.2 L202.1,284.6 L203.0,284.2 L204.0,288.1 L205.0,292.9 L206.0,297.1 L207.3,295.9 L208.2,295.7 L209.1,295.5 L209.9,295.0 L210.8,294.7 L211.7,293.3 L212.6,292.2 L213.4,290.2 L214.3,288.9 L215.1,288.1 L216.0,287.2 L216.8,286.3 L217.7,285.1 L218.5,284.2 L219.3,285.0 L220.2,286.8 L221.0,287.5 L221.8,288.9 L222.6,289.8 L223.5,290.7 L224.3,291.2 L225.2,291.6 L226.0,292.4 L226.8,290.8 L227.7,288.5 L228.5,286.6 L229.4,284.9 L230.2,283.0 L231.1,285.5 L232.1,287.8 L233.0,290.0 L233.9,290.3 L234.8,290.5 L235.6,291.1 L236.5,291.2 L237.4,291.1 L238.2,291.3 L239.1,290.8 L240.0,291.2 L240.9,291.2 L241.8,292.1 L242.6,291.9 L243.5,292.4 L244.4,290.9 L245.2,289.1 L246.1,288.2 L247.0,286.5 L247.9,285.2 L248.8,283.8 L249.6,282.9 L250.5,281.9 L251.5,278.3 L252.6,274.3 L253.6,270.2 L254.5,272.1 L255.5,275.2 L256.4,277.2 L257.5,281.5 L258.7,286.5 L259.6,284.2 L260.4,281.9 L261.3,279.8 L262.2,277.2 L263.2,278.8 L264.3,281.3 L265.3,283.0 L266.2,284.0 L267.2,285.5 L268.1,286.5 L269.0,285.1 L269.9,283.1 L270.7,280.9 L271.6,279.5 L272.6,282.4 L273.6,284.9 L274.6,287.7 L275.5,287.9 L276.5,287.9 L277.4,287.7 L278.5,290.3 L279.7,293.5 L280.7,290.9 L281.6,288.2 L282.6,285.4 L283.6,287.7 L284.6,289.4 L285.6,291.2 L286.5,292.5 L287.4,293.8 L288.2,294.5 L289.1,295.9 L290.0,293.0 L290.9,289.5 L291.7,286.3 L292.6,283.0 L293.5,282.1 L294.4,281.9 L295.2,281.2 L296.1,280.7 L297.2,279.9 L298.4,279.5 L299.2,283.4 L300.0,286.8 L300.8,290.0 L301.7,290.6 L302.6,290.9 L303.4,292.2 L304.3,292.4 L305.2,291.8 L306.1,291.8 L306.9,291.6 L307.8,291.2 L309.0,286.2 L310.1,280.7 L311.0,275.8 L312.0,270.6 L312.9,265.5 L313.9,268.6 L315.0,272.1 L316.0,274.9 L316.9,276.0 L317.8,276.5 L318.6,277.8 L319.5,278.4 L320.6,279.9 L321.8,280.7 L322.7,278.8 L323.7,276.5 L324.6,274.9 L325.8,279.8 L326.9,285.4 L327.9,288.5 L329.0,290.6 L330.0,293.5 L331.1,294.9 L332.3,295.9 L333.2,295.8 L334.1,296.0 L334.9,296.2 L335.8,296.6 L336.7,296.7 L337.6,295.9 L338.4,296.1 L339.3,295.9 L340.5,293.2 L341.7,290.0 L342.6,288.9 L343.5,287.7 L344.7,277.4 L345.9,267.9 L346.8,271.8 L347.8,276.7 L348.7,280.7 L349.6,281.1 L350.4,281.5 L351.3,282.4 L352.2,283.0 L353.1,283.8 L353.9,284.0 L354.8,284.5 L355.7,285.4 L356.6,286.0 L357.4,287.1 L358.3,288.2 L359.2,288.9 L360.1,289.0 L361.0,290.0 L362.0,290.4 L362.9,290.8 L363.8,291.2" fill="none" stroke="#ef8232" stroke-width="1.3" stroke-linejoin="round"/>
<path d="M55.3,353.3 L56.2,355.7 L57.0,352.8 L57.9,354.3 L58.8,354.1 L59.6,352.4 L60.4,353.2 L61.2,351.3 L62.8,347.0 L63.8,348.0 L64.9,349.2 L65.9,349.2 L66.8,348.0 L67.7,349.5 L68.5,350.1 L69.4,350.4 L70.6,350.6 L71.7,352.6 L72.6,351.5 L73.5,349.9 L74.3,349.2 L75.2,348.8 L76.1,350.2 L77.0,348.2 L77.8,350.5 L78.7,352.0 L79.6,353.7 L80.5,352.5 L81.3,352.9 L82.2,352.7 L83.3,351.7 L84.5,350.5 L85.4,349.0 L86.2,348.4 L87.1,349.6 L88.0,347.7 L88.9,347.6 L89.8,348.3 L90.6,348.6 L91.5,350.0 L92.4,349.9 L93.3,352.3 L94.2,353.6 L95.1,353.6 L96.0,353.0 L96.8,352.8 L97.7,351.9 L98.6,351.2 L99.5,351.6 L100.3,352.2 L101.2,352.1 L102.1,353.3 L103.0,350.9 L103.8,351.2 L104.7,349.5 L105.6,350.6 L106.5,350.2 L107.3,348.9 L108.2,349.2 L109.1,346.7 L110.0,345.8 L110.8,345.4 L111.7,343.8 L112.6,344.1 L113.8,343.3 L114.9,342.3 L116.1,345.0 L117.2,349.5 L118.4,354.1 L119.3,354.9 L120.3,353.8 L121.2,353.7 L122.2,354.6 L123.1,353.3 L124.0,353.2 L125.0,353.8 L125.9,353.8 L126.9,354.6 L127.8,353.9 L128.7,354.0 L129.6,354.4 L130.6,354.7 L131.5,353.8 L132.4,354.7 L133.3,354.8 L134.3,353.6 L135.2,353.8 L136.2,353.1 L137.1,353.7 L138.0,352.8 L139.0,352.8 L139.9,352.8 L140.9,353.6 L141.8,352.9 L142.7,351.9 L143.6,352.2 L144.6,352.9 L145.5,354.4 L146.4,352.4 L147.3,352.1 L148.3,351.5 L149.2,352.3 L150.2,351.5 L151.1,351.9 L152.0,351.3 L153.0,349.9 L153.9,350.0 L154.9,350.5 L155.8,351.8 L156.7,350.2 L157.7,350.9 L158.6,347.3 L159.6,348.9 L160.5,349.7 L161.4,350.9 L162.3,350.7 L163.3,351.1 L164.2,353.0 L165.1,351.4 L166.0,351.6 L167.0,351.4 L167.9,349.0 L168.9,351.5 L169.8,351.3 L170.7,351.0 L171.7,350.7 L172.6,349.8 L173.6,349.7 L174.5,350.1 L175.4,350.6 L176.2,350.5 L177.1,349.7 L178.0,351.5 L178.9,349.2 L179.8,349.0 L180.6,350.5 L181.5,348.5 L182.4,348.3 L183.4,349.1 L184.3,351.6 L185.3,354.5 L186.2,353.5 L187.1,353.1 L188.0,353.5 L189.0,352.9 L189.9,354.9 L190.8,354.4 L191.7,353.4 L192.7,354.3 L193.6,352.5 L194.6,351.9 L195.5,352.2 L196.4,352.9 L197.4,351.0 L198.3,352.1 L199.3,351.9 L200.2,350.2 L201.3,346.8 L202.5,346.3 L203.4,347.8 L204.2,348.7 L205.1,349.7 L206.0,351.2 L207.3,348.6 L208.2,348.3 L209.1,348.7 L209.9,349.3 L210.8,349.7 L211.7,348.0 L212.6,349.5 L213.4,350.0 L214.3,350.5 L215.2,351.8 L216.1,350.8 L216.9,351.2 L217.8,352.3 L218.7,352.8 L219.6,352.5 L220.5,351.9 L221.4,353.2 L222.3,352.7 L223.2,352.3 L224.0,353.0 L224.9,353.0 L225.8,352.6 L226.7,351.8 L227.5,352.1 L228.4,351.7 L229.3,351.3 L230.2,351.3 L231.2,351.0 L232.1,350.9 L233.0,351.2 L233.9,349.8 L234.9,350.0 L235.8,349.9 L236.8,349.2 L237.7,349.9 L238.6,349.7 L239.6,349.2 L240.5,349.3 L241.5,350.5 L242.4,350.7 L243.3,352.5 L244.2,350.9 L245.2,350.2 L246.1,352.1 L247.0,350.9 L247.9,351.7 L248.9,349.5 L249.8,348.4 L250.8,352.0 L251.7,349.3 L252.6,348.1 L253.4,348.4 L254.3,350.7 L255.2,350.1 L256.0,350.3 L256.8,351.7 L257.6,352.8 L258.5,351.5 L259.4,352.5 L260.4,351.6 L261.3,354.6 L262.2,353.9 L263.1,353.3 L264.1,354.3 L265.0,353.3 L266.0,352.7 L266.9,353.6 L267.8,351.9 L268.8,353.6 L269.7,351.6 L270.7,352.5 L271.6,353.7 L272.8,351.9 L273.9,349.4 L274.8,350.1 L275.6,349.6 L276.5,350.7 L277.4,349.8 L278.3,348.6 L279.1,350.1 L280.0,349.3 L280.9,348.9 L281.8,347.6 L282.8,348.8 L283.7,347.6 L284.7,348.9 L285.6,348.7 L286.5,348.4 L287.4,348.2 L288.2,346.6 L289.1,346.9 L290.0,347.2 L290.9,347.2 L291.7,348.0 L292.6,348.6 L293.5,349.0 L294.4,348.4 L295.2,348.4 L296.1,349.7 L297.0,349.2 L297.9,350.1 L298.7,350.9 L299.6,349.3 L300.5,350.5 L301.4,348.3 L302.2,348.2 L303.1,347.2 L304.0,345.9 L305.0,344.7 L305.9,344.1 L306.9,342.6 L307.8,342.9 L309.0,343.6 L310.1,340.5 L311.1,336.1 L312.0,331.0 L313.2,348.5 L314.1,351.7 L315.1,353.6 L316.0,353.3 L316.9,353.7 L317.8,352.5 L318.6,352.7 L319.5,353.6 L320.4,355.1 L321.2,350.9 L322.1,351.2 L323.0,351.2 L323.8,342.0 L324.6,333.2 L325.6,336.8 L326.5,340.8 L327.4,344.5 L328.2,345.7 L329.1,347.6 L330.0,349.2 L330.9,348.9 L331.8,349.2 L332.6,350.0 L333.5,349.4 L334.4,350.3 L335.2,349.6 L336.1,348.4 L337.0,348.7 L337.9,348.5 L338.8,348.0 L339.6,350.7 L340.5,350.1 L341.4,349.9 L342.2,347.6 L343.1,349.4 L344.0,346.7 L344.9,344.4 L345.9,340.6 L347.0,350.6 L347.8,351.6 L348.6,352.5 L349.4,352.1 L350.2,352.1 L351.0,352.8 L351.9,353.0 L352.9,351.5 L353.8,352.8 L354.8,352.9 L355.7,353.1 L356.6,352.0 L357.4,353.2 L358.3,352.0 L359.2,352.7 L360.1,352.3 L361.0,351.3 L362.0,351.1 L362.9,350.3 L363.8,350.6 L363.8,354.8 L362.9,353.6 L362.0,354.4 L361.0,355.2 L360.1,355.3 L359.2,355.1 L358.3,355.3 L357.4,355.8 L356.6,355.6 L355.7,357.1 L354.8,355.8 L353.8,356.8 L352.9,355.9 L351.9,357.9 L351.0,357.4 L350.2,356.2 L349.4,355.9 L348.6,356.1 L347.8,355.4 L347.0,359.6 L345.9,348.4 L344.9,349.1 L344.0,351.7 L343.1,353.2 L342.2,350.7 L341.4,353.5 L340.5,352.9 L339.6,353.9 L338.8,352.6 L337.9,351.9 L337.0,352.1 L336.1,352.3 L335.2,354.2 L334.4,354.6 L333.5,353.6 L332.6,353.0 L331.8,352.7 L330.9,352.9 L330.0,353.8 L329.1,352.8 L328.2,351.6 L327.4,349.9 L326.5,348.2 L325.6,343.6 L324.6,339.6 L323.8,351.4 L323.0,359.0 L322.1,355.9 L321.2,356.8 L320.4,359.4 L319.5,358.8 L318.6,357.5 L317.8,358.0 L316.9,358.1 L316.0,356.9 L315.1,357.3 L314.1,356.2 L313.2,356.9 L312.0,339.4 L311.1,342.6 L310.1,346.3 L309.0,346.6 L307.8,346.1 L306.9,346.5 L305.9,347.9 L305.0,348.4 L304.0,349.6 L303.1,351.2 L302.2,352.0 L301.4,353.1 L300.5,354.3 L299.6,353.7 L298.7,354.8 L297.9,354.7 L297.0,352.6 L296.1,353.3 L295.2,351.6 L294.4,351.1 L293.5,352.0 L292.6,352.2 L291.7,351.8 L290.9,350.6 L290.0,350.3 L289.1,351.5 L288.2,352.8 L287.4,354.0 L286.5,353.6 L285.6,354.3 L284.7,354.6 L283.7,353.1 L282.8,353.6 L281.8,351.5 L280.9,351.9 L280.0,352.3 L279.1,353.1 L278.3,351.1 L277.4,353.2 L276.5,353.4 L275.6,352.2 L274.8,352.9 L273.9,353.6 L272.8,356.1 L271.6,356.5 L270.7,355.9 L269.7,354.6 L268.8,357.5 L267.8,355.8 L266.9,356.6 L266.0,356.3 L265.0,357.9 L264.1,357.3 L263.1,357.3 L262.2,358.5 L261.3,359.8 L260.4,357.0 L259.4,357.8 L258.5,356.7 L257.6,357.4 L256.8,356.6 L256.0,354.3 L255.2,352.9 L254.3,353.7 L253.4,352.2 L252.6,351.4 L251.7,353.7 L250.8,355.1 L249.8,351.7 L248.9,353.9 L247.9,354.7 L247.0,354.5 L246.1,355.1 L245.2,352.9 L244.2,355.3 L243.3,355.7 L242.4,354.7 L241.5,354.7 L240.5,354.1 L239.6,352.6 L238.6,352.6 L237.7,353.1 L236.8,353.6 L235.8,354.7 L234.9,354.4 L233.9,354.1 L233.0,354.2 L232.1,353.3 L231.2,354.1 L230.2,354.3 L229.3,354.7 L228.4,356.1 L227.5,356.7 L226.7,355.8 L225.8,357.4 L224.9,357.2 L224.0,357.1 L223.2,356.3 L222.3,356.8 L221.4,357.0 L220.5,355.1 L219.6,356.0 L218.7,356.4 L217.8,355.5 L216.9,354.7 L216.1,354.2 L215.2,355.4 L214.3,354.9 L213.4,353.2 L212.6,354.3 L211.7,351.2 L210.8,353.3 L209.9,352.5 L209.1,352.5 L208.2,351.9 L207.3,352.2 L206.0,354.2 L205.1,353.2 L204.2,352.1 L203.4,351.4 L202.5,349.7 L201.3,351.7 L200.2,355.2 L199.3,354.7 L198.3,354.9 L197.4,353.8 L196.4,356.0 L195.5,355.6 L194.6,355.7 L193.6,356.5 L192.7,357.2 L191.7,356.1 L190.8,358.0 L189.9,358.8 L189.0,356.5 L188.0,356.0 L187.1,355.8 L186.2,356.7 L185.3,357.4 L184.3,356.3 L183.4,353.6 L182.4,352.0 L181.5,352.3 L180.6,352.9 L179.8,351.7 L178.9,353.5 L178.0,353.9 L177.1,352.8 L176.2,353.3 L175.4,353.5 L174.5,352.9 L173.6,352.5 L172.6,352.8 L171.7,353.7 L170.7,353.7 L169.8,354.1 L168.9,355.0 L167.9,352.6 L167.0,356.7 L166.0,354.9 L165.1,356.4 L164.2,356.4 L163.3,355.8 L162.3,353.6 L161.4,354.3 L160.5,353.3 L159.6,353.5 L158.6,353.7 L157.7,357.1 L156.7,354.7 L155.8,356.0 L154.9,355.3 L153.9,354.3 L153.0,355.3 L152.0,356.5 L151.1,355.9 L150.2,355.8 L149.2,356.5 L148.3,356.8 L147.3,357.8 L146.4,357.8 L145.5,359.2 L144.6,357.5 L143.6,357.3 L142.7,356.4 L141.8,357.3 L140.9,358.0 L139.9,357.6 L139.0,357.0 L138.0,358.3 L137.1,358.7 L136.2,358.4 L135.2,357.7 L134.3,357.3 L133.3,357.5 L132.4,357.7 L131.5,356.3 L130.6,357.7 L129.6,357.9 L128.7,357.6 L127.8,356.3 L126.9,357.4 L125.9,356.9 L125.0,356.6 L124.0,356.3 L123.1,356.9 L122.2,357.0 L121.2,356.3 L120.3,356.8 L119.3,357.7 L118.4,358.3 L117.2,355.9 L116.1,351.6 L114.9,346.7 L113.8,347.8 L112.6,347.3 L111.7,347.8 L110.8,348.8 L110.0,349.6 L109.1,351.7 L108.2,353.2 L107.3,353.1 L106.5,354.9 L105.6,354.8 L104.7,355.5 L103.8,357.1 L103.0,357.0 L102.1,359.1 L101.2,357.8 L100.3,356.4 L99.5,356.1 L98.6,356.6 L97.7,357.5 L96.8,357.4 L96.0,357.0 L95.1,356.6 L94.2,357.4 L93.3,357.9 L92.4,355.6 L91.5,355.4 L90.6,354.3 L89.8,354.0 L88.9,353.0 L88.0,353.1 L87.1,353.4 L86.2,352.1 L85.4,354.6 L84.5,354.9 L83.3,356.6 L82.2,357.5 L81.3,358.3 L80.5,357.1 L79.6,358.8 L78.7,358.2 L77.8,357.2 L77.0,353.7 L76.1,355.0 L75.2,354.2 L74.3,355.2 L73.5,356.3 L72.6,357.7 L71.7,357.6 L70.6,355.7 L69.4,355.0 L68.5,355.2 L67.7,354.9 L66.8,351.5 L65.9,353.8 L64.9,353.6 L63.8,351.8 L62.8,351.4 L61.2,356.5 L60.4,356.3 L59.6,356.9 L58.8,358.3 L57.9,359.0 L57.0,357.3 L56.2,358.9 L55.3,356.9Z" fill="rgba(125,150,200,0.34)" stroke="none"/>
<path d="M55.3,333.9 L56.5,327.1 L57.6,329.4 L58.8,332.5 L60.0,334.1 L61.2,334.1 L62.4,330.7 L63.5,328.1 L64.7,329.8 L65.9,339.9 L67.1,338.9 L68.2,338.7 L69.3,343.4 L70.5,344.9 L71.7,338.6 L72.9,333.5 L74.1,326.1 L75.2,322.6 L76.3,323.9 L77.5,321.7 L78.7,320.7 L79.9,319.5 L81.1,323.8 L82.2,329.7 L83.3,332.7 L84.5,331.6 L85.7,329.6 L86.9,335.6 L88.1,333.6 L89.2,341.6 L90.3,335.8 L91.5,333.8 L92.7,335.6 L93.9,334.5 L95.1,337.8 L96.2,340.8 L97.4,342.7 L98.6,339.8 L99.7,339.3 L100.9,341.1 L102.1,341.9 L103.2,342.8 L104.4,342.1 L105.6,342.1 L106.7,340.8 L107.9,342.0 L109.1,343.5 L110.2,340.0 L111.4,337.5 L112.6,336.9 L113.7,336.9 L114.9,334.2 L116.1,338.5 L117.2,344.6 L118.4,337.5 L119.6,336.4 L120.8,337.9 L121.9,335.0 L123.1,334.6 L124.3,331.0 L125.4,334.7 L126.6,332.1 L127.8,335.3 L128.9,333.5 L130.1,336.9 L131.3,333.5 L132.4,335.6 L133.6,339.3 L134.8,337.5 L135.9,339.4 L137.1,335.7 L138.3,333.0 L139.4,327.4 L140.6,328.2 L141.8,329.7 L142.9,335.9 L144.1,337.8 L145.2,337.6 L146.4,339.7 L147.6,338.1 L148.7,338.2 L149.9,337.5 L151.1,338.2 L152.3,336.5 L153.5,336.5 L154.7,335.0 L155.8,339.5 L157.0,340.7 L158.2,341.7 L159.3,343.6 L160.5,342.9 L161.7,348.4 L162.8,345.2 L164.0,346.0 L165.2,348.1 L166.3,346.3 L167.5,348.0 L168.7,346.2 L169.8,345.3 L171.0,331.2 L172.2,335.1 L173.3,339.8 L174.5,337.7 L175.6,340.3 L176.8,338.3 L178.0,337.6 L179.1,339.3 L180.3,339.1 L181.5,336.8 L182.6,336.5 L183.8,336.9 L185.0,338.4 L186.2,339.5 L187.3,336.5 L188.5,332.5 L189.7,320.7 L190.8,314.7 L192.0,319.4 L193.2,328.7 L194.6,318.8 L196.0,312.7 L197.8,320.7 L199.0,324.5 L200.2,332.2 L201.3,333.3 L202.5,334.9 L203.7,339.1 L204.8,345.1 L206.0,349.7 L207.3,347.0 L208.5,338.6 L209.7,338.0 L210.8,334.3 L212.0,334.7 L213.2,334.9 L214.3,335.2 L216.2,327.0 L217.8,335.1 L219.5,327.4 L220.7,322.9 L221.8,319.2 L223.7,331.0 L224.8,334.1 L226.0,331.3 L227.2,330.9 L228.4,325.1 L230.2,335.3 L231.9,345.0 L233.1,339.9 L234.2,334.4 L235.3,334.7 L236.5,340.9 L237.7,342.9 L238.9,339.5 L240.1,337.9 L241.2,341.2 L242.4,335.5 L243.6,334.0 L244.7,331.0 L245.9,325.5 L246.9,321.0 L247.9,315.1 L248.9,312.1 L250.5,324.3 L251.7,332.1 L252.9,334.2 L254.1,341.2 L255.3,339.2 L256.4,334.5 L257.6,333.2 L258.8,325.2 L259.9,326.7 L261.1,322.2 L262.2,330.4 L263.4,342.1 L264.6,337.2 L265.7,334.8 L266.9,334.1 L268.1,334.8 L269.2,331.3 L270.4,333.0 L271.8,328.4 L273.2,324.0 L275.1,335.8 L276.3,341.6 L277.4,344.2 L278.6,346.8 L279.8,342.6 L280.9,341.3 L282.1,340.8 L283.2,336.0 L284.2,334.0 L285.2,331.7 L286.3,331.2 L287.7,335.1 L289.1,340.4 L290.3,342.0 L291.4,345.0 L292.6,347.0 L293.8,347.7 L294.9,349.0 L296.1,346.0 L297.2,339.9 L298.4,339.4 L299.6,339.7 L300.8,345.8 L302.0,346.5 L303.1,346.3 L304.3,344.8 L305.5,345.2 L306.6,344.4 L307.8,342.0 L309.0,336.9 L310.1,333.8 L311.3,332.8 L312.5,337.7 L313.6,329.4 L314.8,325.7 L316.0,329.8 L317.1,328.5 L318.3,321.9 L319.5,320.0 L320.6,320.8 L321.8,325.5 L323.0,330.6 L324.1,331.3 L325.3,334.1 L326.4,338.7 L327.6,343.1 L328.8,347.7 L329.9,347.8 L331.1,349.3 L332.3,350.1 L333.4,345.3 L334.6,345.9 L335.8,341.2 L336.9,337.1 L338.1,338.4 L339.3,335.8 L340.5,334.9 L341.6,338.2 L342.8,342.0 L344.7,326.5 L345.9,329.7 L347.0,334.1 L348.7,318.9 L349.9,323.4 L351.0,326.1 L352.1,327.4 L353.3,338.6 L354.5,340.8 L355.7,343.1 L356.9,345.0 L358.0,348.3 L359.1,343.2 L360.3,343.3 L361.5,343.4 L362.6,341.7 L363.8,347.0 L363.8,353.8 L362.6,350.0 L361.5,350.7 L360.3,350.5 L359.1,352.3 L358.0,354.7 L356.9,353.2 L355.7,350.7 L354.5,347.3 L353.3,348.2 L352.1,336.6 L351.0,332.7 L349.9,329.6 L348.7,328.1 L347.0,343.3 L345.9,338.3 L344.7,336.9 L342.8,351.8 L341.6,346.2 L340.5,340.1 L339.3,340.8 L338.1,343.6 L336.9,344.6 L335.8,351.3 L334.6,352.5 L333.4,352.5 L332.3,356.5 L331.1,356.1 L329.9,353.1 L328.8,353.9 L327.6,350.7 L326.4,346.5 L325.3,341.6 L324.1,336.7 L323.0,336.1 L321.8,333.3 L320.6,327.5 L319.5,324.8 L318.3,329.8 L317.1,334.9 L316.0,334.7 L314.8,330.7 L313.6,340.2 L312.5,344.3 L311.3,340.0 L310.1,343.6 L309.0,347.8 L307.8,351.8 L306.6,351.9 L305.5,351.2 L304.3,351.2 L303.1,353.3 L302.0,353.0 L300.8,355.0 L299.6,349.9 L298.4,345.0 L297.2,348.2 L296.1,354.8 L294.9,354.0 L293.8,352.6 L292.6,351.4 L291.4,350.5 L290.3,347.3 L289.1,346.4 L287.7,343.0 L286.3,336.8 L285.2,336.6 L284.2,340.5 L283.2,342.9 L282.1,346.0 L280.9,345.8 L279.8,349.6 L278.6,351.6 L277.4,350.4 L276.3,349.4 L275.1,346.2 L273.2,332.4 L271.8,338.1 L270.4,339.8 L269.2,339.3 L268.1,342.7 L266.9,340.9 L265.7,343.1 L264.6,347.6 L263.4,351.7 L262.2,342.9 L261.1,331.8 L259.9,335.3 L258.8,335.7 L257.6,344.2 L256.4,343.5 L255.3,347.4 L254.1,347.8 L252.9,343.1 L251.7,340.4 L250.5,334.5 L248.9,320.9 L247.9,322.7 L246.9,329.7 L245.9,333.3 L244.7,338.0 L243.6,339.3 L242.4,341.9 L241.2,345.2 L240.1,342.5 L238.9,347.3 L237.7,347.9 L236.5,348.1 L235.3,342.0 L234.2,343.0 L233.1,350.9 L231.9,353.4 L230.2,346.7 L228.4,333.7 L227.2,338.4 L226.0,336.7 L224.8,340.1 L223.7,341.8 L221.8,327.8 L220.7,330.9 L219.5,336.0 L217.8,339.9 L216.2,331.8 L214.3,342.2 L213.2,339.3 L212.0,338.1 L210.8,340.5 L209.7,344.0 L208.5,347.3 L207.3,356.0 L206.0,355.7 L204.8,355.2 L203.7,350.1 L202.5,344.9 L201.3,340.4 L200.2,340.6 L199.0,334.9 L197.8,333.3 L196.0,320.3 L194.6,331.6 L193.2,334.7 L192.0,331.2 L190.8,320.7 L189.7,333.1 L188.5,344.9 L187.3,344.5 L186.2,347.3 L185.0,346.4 L183.8,345.1 L182.6,342.7 L181.5,344.1 L180.3,345.3 L179.1,345.1 L178.0,343.5 L176.8,343.7 L175.6,345.8 L174.5,343.7 L173.3,347.0 L172.2,344.7 L171.0,343.8 L169.8,357.7 L168.7,352.5 L167.5,352.8 L166.3,351.8 L165.2,353.3 L164.0,352.4 L162.8,349.4 L161.7,352.4 L160.5,348.5 L159.3,348.4 L158.2,347.6 L157.0,346.1 L155.8,347.6 L154.7,342.3 L153.5,343.3 L152.3,344.3 L151.1,345.3 L149.9,344.5 L148.7,344.2 L147.6,343.8 L146.4,344.7 L145.2,343.4 L144.1,342.2 L142.9,343.9 L141.8,339.0 L140.6,335.2 L139.4,335.5 L138.3,341.9 L137.1,341.7 L135.9,343.0 L134.8,340.8 L133.6,342.7 L132.4,341.7 L131.3,338.0 L130.1,340.5 L128.9,338.3 L127.8,341.0 L126.6,338.3 L125.4,340.4 L124.3,337.2 L123.1,342.8 L121.9,342.5 L120.8,343.8 L119.6,343.4 L118.4,348.4 L117.2,351.4 L116.1,349.6 L114.9,340.8 L113.7,343.4 L112.6,342.5 L111.4,344.5 L110.2,347.8 L109.1,348.2 L107.9,347.0 L106.7,345.0 L105.6,346.2 L104.4,346.9 L103.2,346.7 L102.1,345.8 L100.9,345.7 L99.7,343.0 L98.6,344.7 L97.4,346.3 L96.2,345.7 L95.1,344.2 L93.9,339.5 L92.7,339.4 L91.5,339.0 L90.3,344.2 L89.2,347.4 L88.1,340.2 L86.9,341.8 L85.7,336.5 L84.5,336.4 L83.3,336.5 L82.2,336.1 L81.1,332.5 L79.9,325.3 L78.7,325.1 L77.5,327.7 L76.3,330.1 L75.2,331.4 L74.1,337.9 L72.9,346.3 L71.7,350.0 L70.5,353.5 L69.3,352.3 L68.2,348.1 L67.1,346.3 L65.9,349.1 L64.7,342.6 L63.5,335.3 L62.4,340.1 L61.2,340.9 L60.0,339.5 L58.8,340.3 L57.6,337.4 L56.5,333.9 L55.3,338.9Z" fill="rgba(245,172,125,0.40)" stroke="none"/>
<path d="M55.3,355.1 L56.2,357.3 L57.0,355.0 L57.9,356.7 L58.8,356.2 L59.6,354.6 L60.4,354.7 L61.2,353.9 L62.8,349.2 L63.8,349.9 L64.9,351.4 L65.9,351.5 L66.8,349.8 L67.7,352.2 L68.5,352.7 L69.4,352.7 L70.6,353.1 L71.7,355.1 L72.6,354.6 L73.5,353.1 L74.3,352.2 L75.2,351.5 L76.1,352.6 L77.0,351.0 L77.8,353.9 L78.7,355.1 L79.6,356.3 L80.5,354.8 L81.3,355.6 L82.2,355.1 L83.3,354.1 L84.5,352.7 L85.4,351.8 L86.2,350.2 L87.1,351.5 L88.0,350.4 L88.9,350.3 L89.8,351.2 L90.6,351.4 L91.5,352.7 L92.4,352.7 L93.3,355.1 L94.2,355.5 L95.1,355.1 L96.0,355.0 L96.8,355.1 L97.7,354.7 L98.6,353.9 L99.5,353.8 L100.3,354.3 L101.2,355.0 L102.1,356.2 L103.0,354.0 L103.8,354.2 L104.7,352.5 L105.6,352.7 L106.5,352.5 L107.3,351.0 L108.2,351.2 L109.1,349.2 L110.0,347.7 L110.8,347.1 L111.7,345.8 L112.6,345.7 L113.8,345.5 L114.9,344.5 L116.1,348.3 L117.2,352.7 L118.4,356.2 L119.3,356.3 L120.3,355.3 L121.2,355.0 L122.2,355.8 L123.1,355.1 L124.0,354.7 L125.0,355.2 L125.9,355.3 L126.9,356.0 L127.8,355.1 L128.7,355.8 L129.6,356.2 L130.6,356.2 L131.5,355.1 L132.4,356.2 L133.3,356.2 L134.3,355.5 L135.2,355.8 L136.2,355.8 L137.1,356.2 L138.0,355.6 L139.0,354.9 L139.9,355.2 L140.9,355.8 L141.8,355.1 L142.7,354.2 L143.6,354.7 L144.6,355.2 L145.5,356.8 L146.4,355.1 L147.3,354.9 L148.3,354.2 L149.2,354.4 L150.2,353.6 L151.1,353.9 L152.0,353.9 L153.0,352.6 L153.9,352.1 L154.9,352.9 L155.8,353.9 L156.7,352.4 L157.7,354.0 L158.6,350.5 L159.6,351.2 L160.5,351.5 L161.4,352.6 L162.3,352.1 L163.3,353.5 L164.2,354.7 L165.1,353.9 L166.0,353.2 L167.0,354.0 L167.9,350.8 L168.9,353.3 L169.8,352.7 L170.7,352.3 L171.7,352.2 L172.6,351.3 L173.6,351.1 L174.5,351.5 L175.4,352.1 L176.2,351.9 L177.1,351.3 L178.0,352.7 L178.9,351.4 L179.8,350.3 L180.6,351.7 L181.5,350.4 L182.4,350.1 L183.4,351.3 L184.3,353.9 L185.3,355.9 L186.2,355.1 L187.1,354.5 L188.0,354.7 L189.0,354.7 L189.9,356.9 L190.8,356.2 L191.7,354.7 L192.7,355.7 L193.6,354.5 L194.6,353.8 L195.5,353.9 L196.4,354.5 L197.4,352.4 L198.3,353.5 L199.3,353.3 L200.2,352.7 L201.3,349.3 L202.5,348.0 L203.4,349.6 L204.2,350.4 L205.1,351.5 L206.0,352.7 L207.3,350.4 L208.2,350.1 L209.1,350.6 L209.9,350.9 L210.8,351.5 L211.7,349.6 L212.6,351.9 L213.4,351.6 L214.3,352.7 L215.2,353.6 L216.1,352.5 L216.9,352.9 L217.8,353.9 L218.7,354.6 L219.6,354.2 L220.5,353.5 L221.4,355.1 L222.3,354.8 L223.2,354.3 L224.0,355.1 L224.9,355.1 L225.8,355.0 L226.7,353.8 L227.5,354.4 L228.4,353.9 L229.3,353.0 L230.2,352.8 L231.2,352.6 L232.1,352.1 L233.0,352.7 L233.9,351.9 L234.9,352.2 L235.8,352.3 L236.8,351.4 L237.7,351.5 L238.6,351.1 L239.6,350.9 L240.5,351.7 L241.5,352.6 L242.4,352.7 L243.3,354.1 L244.2,353.1 L245.2,351.5 L246.1,353.6 L247.0,352.7 L247.9,353.2 L248.9,351.7 L249.8,350.1 L250.8,353.6 L251.7,351.5 L252.6,349.7 L253.4,350.3 L254.3,352.2 L255.2,351.5 L256.0,352.3 L256.8,354.1 L257.6,355.1 L258.5,354.1 L259.4,355.1 L260.4,354.3 L261.3,357.2 L262.2,356.2 L263.1,355.3 L264.1,355.8 L265.0,355.6 L266.0,354.5 L266.9,355.1 L267.8,353.9 L268.8,355.6 L269.7,353.1 L270.7,354.2 L271.6,355.1 L272.8,354.0 L273.9,351.5 L274.8,351.5 L275.6,350.9 L276.5,352.0 L277.4,351.5 L278.3,349.9 L279.1,351.6 L280.0,350.8 L280.9,350.4 L281.8,349.6 L282.8,351.2 L283.7,350.4 L284.7,351.8 L285.6,351.5 L286.5,351.0 L287.4,351.1 L288.2,349.7 L289.1,349.2 L290.0,348.8 L290.9,348.9 L291.7,349.9 L292.6,350.4 L293.5,350.5 L294.4,349.8 L295.2,350.0 L296.1,351.5 L297.0,350.9 L297.9,352.4 L298.7,352.8 L299.6,351.5 L300.5,352.4 L301.4,350.7 L302.2,350.1 L303.1,349.2 L304.0,347.8 L305.0,346.5 L305.9,346.0 L306.9,344.5 L307.8,344.5 L309.0,345.1 L310.1,343.4 L311.1,339.4 L312.0,335.2 L313.2,352.7 L314.1,353.9 L315.1,355.4 L316.0,355.1 L316.9,355.9 L317.8,355.2 L318.6,355.1 L319.5,356.2 L320.4,357.3 L321.2,353.9 L322.1,353.6 L323.0,355.1 L323.8,346.7 L324.6,336.4 L325.6,340.2 L326.5,344.5 L327.4,347.2 L328.2,348.6 L329.1,350.2 L330.0,351.5 L330.9,350.9 L331.8,351.0 L332.6,351.5 L333.5,351.5 L334.4,352.4 L335.2,351.9 L336.1,350.3 L337.0,350.4 L337.9,350.2 L338.8,350.3 L339.6,352.3 L340.5,351.5 L341.4,351.7 L342.2,349.2 L343.1,351.3 L344.0,349.2 L344.9,346.7 L345.9,344.5 L347.0,355.1 L347.8,353.5 L348.6,354.3 L349.4,354.0 L350.2,354.1 L351.0,355.1 L351.9,355.5 L352.9,353.7 L353.8,354.8 L354.8,354.3 L355.7,355.1 L356.6,353.8 L357.4,354.5 L358.3,353.7 L359.2,353.9 L360.1,353.8 L361.0,353.2 L362.0,352.7 L362.9,351.9 L363.8,352.7" fill="none" stroke="#2373b3" stroke-width="1.2" stroke-linejoin="round"/>
<path d="M55.3,336.4 L56.5,330.5 L57.6,333.4 L58.8,336.4 L60.0,336.8 L61.2,337.5 L62.4,335.4 L63.5,331.7 L64.7,336.2 L65.9,344.5 L67.1,342.6 L68.2,343.4 L69.3,347.9 L70.5,349.2 L71.7,344.3 L72.9,339.9 L74.1,332.0 L75.2,327.0 L76.3,327.0 L77.5,324.7 L78.7,322.9 L79.9,322.4 L81.1,328.1 L82.2,332.9 L83.3,334.6 L84.5,334.0 L85.7,333.1 L86.9,338.7 L88.1,336.9 L89.2,344.5 L90.3,340.0 L91.5,336.4 L92.7,337.5 L93.9,337.0 L95.1,341.0 L96.2,343.2 L97.4,344.5 L98.6,342.3 L99.7,341.1 L100.9,343.4 L102.1,343.8 L103.2,344.7 L104.4,344.5 L105.6,344.1 L106.7,342.9 L107.9,344.5 L109.1,345.9 L110.2,343.9 L111.4,341.0 L112.6,339.7 L113.7,340.2 L114.9,337.5 L116.1,344.1 L117.2,348.0 L118.4,343.0 L119.6,339.9 L120.8,340.9 L121.9,338.7 L123.1,338.7 L124.3,334.1 L125.4,337.5 L126.6,335.2 L127.8,338.2 L128.9,335.9 L130.1,338.7 L131.3,335.7 L132.4,338.6 L133.6,341.0 L134.8,339.2 L135.9,341.2 L137.1,338.7 L138.3,337.5 L139.4,331.5 L140.6,331.7 L141.8,334.3 L142.9,339.9 L144.1,340.0 L145.2,340.5 L146.4,342.2 L147.6,341.0 L148.7,341.2 L149.9,341.0 L151.1,341.7 L152.3,340.4 L153.5,339.9 L154.7,338.7 L155.8,343.6 L157.0,343.4 L158.2,344.6 L159.3,346.0 L160.5,345.7 L161.7,350.4 L162.8,347.3 L164.0,349.2 L165.2,350.7 L166.3,349.1 L167.5,350.4 L168.7,349.4 L169.8,351.5 L171.0,337.5 L172.2,339.9 L173.3,343.4 L174.5,340.7 L175.6,343.1 L176.8,341.0 L178.0,340.5 L179.1,342.2 L180.3,342.2 L181.5,340.4 L182.6,339.6 L183.8,341.0 L185.0,342.4 L186.2,343.4 L187.3,340.5 L188.5,338.7 L189.7,326.9 L190.8,317.7 L192.0,325.3 L193.2,331.7 L194.6,325.2 L196.0,316.5 L197.8,327.0 L199.0,329.7 L200.2,336.4 L201.3,336.8 L202.5,339.9 L203.7,344.6 L204.8,350.1 L206.0,352.7 L207.3,351.5 L208.5,343.0 L209.7,341.0 L210.8,337.4 L212.0,336.4 L213.2,337.1 L214.3,338.7 L216.2,329.4 L217.8,337.5 L219.5,331.7 L220.7,326.9 L221.8,323.5 L223.7,336.4 L224.8,337.1 L226.0,334.0 L227.2,334.7 L228.4,329.4 L230.2,341.0 L231.9,349.2 L233.1,345.4 L234.2,338.7 L235.3,338.3 L236.5,344.5 L237.7,345.4 L238.9,343.4 L240.1,340.2 L241.2,343.2 L242.4,338.7 L243.6,336.6 L244.7,334.5 L245.9,329.4 L246.9,325.4 L247.9,318.9 L248.9,316.5 L250.5,329.4 L251.7,336.2 L252.9,338.6 L254.1,344.5 L255.3,343.3 L256.4,339.0 L257.6,338.7 L258.8,330.5 L259.9,331.0 L261.1,327.0 L262.2,336.6 L263.4,346.9 L264.6,342.4 L265.7,338.9 L266.9,337.5 L268.1,338.7 L269.2,335.3 L270.4,336.4 L271.8,333.3 L273.2,328.2 L275.1,341.0 L276.3,345.5 L277.4,347.3 L278.6,349.2 L279.8,346.1 L280.9,343.6 L282.1,343.4 L283.2,339.4 L284.2,337.3 L285.2,334.2 L286.3,334.0 L287.7,339.1 L289.1,343.4 L290.3,344.6 L291.4,347.8 L292.6,349.2 L293.8,350.1 L294.9,351.5 L296.1,350.4 L297.2,344.1 L298.4,342.2 L299.6,344.8 L300.8,350.4 L302.0,349.7 L303.1,349.8 L304.3,348.0 L305.5,348.2 L306.6,348.1 L307.8,346.9 L309.0,342.3 L310.1,338.7 L311.3,336.4 L312.5,341.0 L313.6,334.8 L314.8,328.2 L316.0,332.3 L317.1,331.7 L318.3,325.8 L319.5,322.4 L320.6,324.2 L321.8,329.4 L323.0,333.3 L324.1,334.0 L325.3,337.8 L326.4,342.6 L327.6,346.9 L328.8,350.8 L329.9,350.5 L331.1,352.7 L332.3,353.3 L333.4,348.9 L334.6,349.2 L335.8,346.3 L336.9,340.8 L338.1,341.0 L339.3,338.3 L340.5,337.5 L341.6,342.2 L342.8,346.9 L344.7,331.7 L345.9,334.0 L347.0,338.7 L348.7,323.5 L349.9,326.5 L351.0,329.4 L352.1,332.0 L353.3,343.4 L354.5,344.0 L355.7,346.9 L356.9,349.1 L358.0,351.5 L359.1,347.7 L360.3,346.9 L361.5,347.1 L362.6,345.9 L363.8,350.4" fill="none" stroke="#ef8232" stroke-width="1.3" stroke-linejoin="round"/>
<text x="40.61" y="375.52" font-size="12.23">0Mb</text>
<text x="107.68" y="375.69" font-size="12.41">25Mb</text>
<text x="181.52" y="375.55" font-size="12.02">50Mb</text>
<text x="253.48" y="375.70" font-size="12.45">75Mb</text>
<text x="326.08" y="375.62" font-size="12.21">100Mb</text>
<text x="161.59" y="401.97" font-size="14.19" style="fill:#333">Chromsome 2</text>
<text x="371.23" y="13.97" font-size="16.42" font-weight="bold">b.</text>
<rect x="397.6" y="8.6" width="137.8" height="214.6" fill="#d3dde8" stroke="#5283c2" stroke-width="1.2"/>
<rect x="546.6" y="8.6" width="137.6" height="214.8" fill="#ebc6b0" stroke="#e08f60" stroke-width="1.2"/>
<text x="404.40" y="26.89" font-size="16.09" font-weight="bold">(i)</text>
<text x="549.38" y="26.93" font-size="16.44" font-weight="bold">(ii)</text>
<text x="445.49" y="32.96" font-size="11.36">chr2:12.6-15Mb</text>
<text x="594.48" y="30.40" font-size="11.46">chr2:48.5-51Mb</text>
<text x="409.15" y="48.65" font-size="10.59">DP R1</text>
<text x="416.15" y="61.21" font-size="10.67">Hi-C</text>
<text x="409.23" y="135.24" font-size="10.84">DP R2</text>
<text x="414.04" y="147.60" font-size="10.77">Hi-C</text>
<text x="550.25" y="45.78" font-size="10.58">DP Hi-C</text>
<text x="550.22" y="128.08" font-size="10.58">SP Hi-C</text>
<text x="554.26" y="201.06" font-size="10.46">DP CDs</text>
<text x="554.63" y="214.84" font-size="10.40">SP CDs</text>
<line x1="600.7" y1="198.1" x2="630.0" y2="198.1" stroke="#1d3f9e" stroke-width="1.8"/>
<line x1="630.8" y1="198.1" x2="648.4" y2="198.1" stroke="#1d3f9e" stroke-width="1.8"/>
<line x1="650.0" y1="198.1" x2="669.0" y2="198.1" stroke="#1d3f9e" stroke-width="1.8"/>
<line x1="600.3" y1="211.9" x2="635.3" y2="211.9" stroke="#1d3f9e" stroke-width="1.8"/>
<rect x="444.0" y="37.6" width="78.6" height="77.6" fill="#fff" stroke="#d0d0d0" stroke-width="0.7"/>
<rect x="445.8" y="39.5" width="75.0" height="74.0" fill="#fbe5dc"/>
<rect x="445.8" y="39.5" width="75.0" height="74.0" fill="#000" filter="url(#nz1)" mask="url(#mdiag)" opacity="0.80"/>
<rect x="445.8" y="39.5" width="16.5" height="16.3" fill="#ea6048" opacity="0.10"/>
<rect x="445.8" y="39.5" width="16.5" height="16.3" fill="#000" filter="url(#nz2)" opacity="0.60"/>
<rect x="461.6" y="55.0" width="30.8" height="30.3" fill="#ea6048" opacity="0.07"/>
<rect x="461.6" y="55.0" width="30.8" height="30.3" fill="#000" filter="url(#nz2)" opacity="0.41"/>
<rect x="468.3" y="61.7" width="15.0" height="14.8" fill="#ea6048" opacity="0.04"/>
<rect x="468.3" y="61.7" width="15.0" height="14.8" fill="#000" filter="url(#nz2)" opacity="0.22"/>
<rect x="492.3" y="85.4" width="13.5" height="13.3" fill="#ea6048" opacity="0.02"/>
<rect x="492.3" y="85.4" width="13.5" height="13.3" fill="#000" filter="url(#nz2)" opacity="0.15"/>
<rect x="505.8" y="98.7" width="12.0" height="11.8" fill="#ea6048" opacity="0.04"/>
<rect x="505.8" y="98.7" width="12.0" height="11.8" fill="#000" filter="url(#nz2)" opacity="0.26"/>
<rect x="462.3" y="54.8" width="39.8" height="2.0" fill="#000" filter="url(#nz2)" opacity="0.66"/>
<rect x="461.3" y="55.8" width="2.0" height="39.2" fill="#000" filter="url(#nz2)" opacity="0.66"/>
<rect x="479.6" y="71.8" width="26.3" height="2.0" fill="#000" filter="url(#nz2)" opacity="0.48"/>
<rect x="478.6" y="72.8" width="2.0" height="25.9" fill="#000" filter="url(#nz2)" opacity="0.48"/>
<rect x="492.3" y="84.4" width="24.7" height="2.0" fill="#000" filter="url(#nz2)" opacity="0.42"/>
<rect x="491.3" y="85.4" width="2.0" height="24.4" fill="#000" filter="url(#nz2)" opacity="0.42"/>
<rect x="445.8" y="39.5" width="75.0" height="74.0" fill="url(#gdiag2)"/>
<line x1="446.3" y1="40.0" x2="520.3" y2="113.0" stroke="#bd141c" stroke-width="1.55" opacity="0.95"/>
<rect x="444.4" y="118.0" width="79.2" height="78.4" fill="#fff" stroke="#d0d0d0" stroke-width="0.7"/>
<rect x="446.2" y="119.9" width="75.6" height="74.8" fill="#fbe5dc"/>
<rect x="446.2" y="119.9" width="75.6" height="74.8" fill="#000" filter="url(#nz1)" mask="url(#mdiag)" opacity="0.80"/>
<rect x="446.2" y="119.9" width="16.6" height="16.5" fill="#ea6048" opacity="0.10"/>
<rect x="446.2" y="119.9" width="16.6" height="16.5" fill="#000" filter="url(#nz2)" opacity="0.60"/>
<rect x="462.1" y="135.6" width="31.0" height="30.7" fill="#ea6048" opacity="0.07"/>
<rect x="462.1" y="135.6" width="31.0" height="30.7" fill="#000" filter="url(#nz2)" opacity="0.41"/>
<rect x="468.9" y="142.3" width="15.1" height="15.0" fill="#ea6048" opacity="0.04"/>
<rect x="468.9" y="142.3" width="15.1" height="15.0" fill="#000" filter="url(#nz2)" opacity="0.22"/>
<rect x="493.1" y="166.3" width="13.6" height="13.5" fill="#ea6048" opacity="0.02"/>
<rect x="493.1" y="166.3" width="13.6" height="13.5" fill="#000" filter="url(#nz2)" opacity="0.15"/>
<rect x="506.7" y="179.7" width="12.1" height="12.0" fill="#ea6048" opacity="0.04"/>
<rect x="506.7" y="179.7" width="12.1" height="12.0" fill="#000" filter="url(#nz2)" opacity="0.26"/>
<rect x="462.8" y="135.4" width="40.1" height="2.0" fill="#000" filter="url(#nz2)" opacity="0.66"/>
<rect x="461.8" y="136.4" width="2.0" height="39.6" fill="#000" filter="url(#nz2)" opacity="0.66"/>
<rect x="480.2" y="152.6" width="26.5" height="2.0" fill="#000" filter="url(#nz2)" opacity="0.48"/>
<rect x="479.2" y="153.6" width="2.0" height="26.2" fill="#000" filter="url(#nz2)" opacity="0.48"/>
<rect x="493.1" y="165.3" width="24.9" height="2.0" fill="#000" filter="url(#nz2)" opacity="0.42"/>
<rect x="492.1" y="166.3" width="2.0" height="24.7" fill="#000" filter="url(#nz2)" opacity="0.42"/>
<rect x="446.2" y="119.9" width="75.6" height="74.8" fill="url(#gdiag2)"/>
<line x1="446.7" y1="120.4" x2="521.3" y2="194.2" stroke="#bd141c" stroke-width="1.55" opacity="0.95"/>
<rect x="598.4" y="33.0" width="79.0" height="78.2" fill="#fff" stroke="#d0d0d0" stroke-width="0.7"/>
<rect x="600.2" y="34.9" width="75.4" height="74.6" fill="#fdf0eb"/>
<rect x="600.2" y="34.9" width="75.4" height="74.6" fill="#000" filter="url(#nz1)" mask="url(#mdiag)" opacity="0.64"/>
<rect x="600.2" y="34.9" width="32.4" height="32.1" fill="#ea6048" opacity="0.06"/>
<rect x="600.2" y="34.9" width="32.4" height="32.1" fill="#000" filter="url(#nz2)" opacity="0.38"/>
<rect x="607.7" y="42.4" width="15.1" height="14.9" fill="#ea6048" opacity="0.04"/>
<rect x="607.7" y="42.4" width="15.1" height="14.9" fill="#000" filter="url(#nz2)" opacity="0.22"/>
<rect x="632.6" y="67.0" width="16.6" height="16.4" fill="#ea6048" opacity="0.05"/>
<rect x="632.6" y="67.0" width="16.6" height="16.4" fill="#000" filter="url(#nz2)" opacity="0.34"/>
<rect x="649.2" y="83.4" width="26.4" height="26.1" fill="#ea6048" opacity="0.05"/>
<rect x="649.2" y="83.4" width="26.4" height="26.1" fill="#000" filter="url(#nz2)" opacity="0.30"/>
<rect x="632.6" y="66.0" width="21.9" height="2.0" fill="#000" filter="url(#nz2)" opacity="0.54"/>
<rect x="631.6" y="67.0" width="2.0" height="21.6" fill="#000" filter="url(#nz2)" opacity="0.54"/>
<rect x="649.2" y="82.4" width="22.6" height="2.0" fill="#000" filter="url(#nz2)" opacity="0.45"/>
<rect x="648.2" y="83.4" width="2.0" height="22.4" fill="#000" filter="url(#nz2)" opacity="0.45"/>
<rect x="600.2" y="34.9" width="75.4" height="74.6" fill="url(#gdiag2)"/>
<line x1="600.7" y1="35.4" x2="675.1" y2="109.0" stroke="#bd141c" stroke-width="1.55" opacity="0.95"/>
<rect x="598.4" y="114.9" width="79.4" height="76.8" fill="#fff" stroke="#d0d0d0" stroke-width="0.7"/>
<rect x="600.2" y="116.8" width="75.8" height="73.2" fill="#fdf0eb"/>
<rect x="600.2" y="116.8" width="75.8" height="73.2" fill="#000" filter="url(#nz1)" mask="url(#mdiag)" opacity="0.60"/>
<rect x="606.3" y="122.7" width="43.2" height="41.7" fill="#ea6048" opacity="0.05"/>
<rect x="606.3" y="122.7" width="43.2" height="41.7" fill="#000" filter="url(#nz2)" opacity="0.30"/>
<rect x="607.8" y="124.1" width="22.7" height="22.0" fill="#ea6048" opacity="0.04"/>
<rect x="607.8" y="124.1" width="22.7" height="22.0" fill="#000" filter="url(#nz2)" opacity="0.22"/>
<rect x="649.5" y="164.4" width="26.5" height="25.6" fill="#ea6048" opacity="0.02"/>
<rect x="649.5" y="164.4" width="26.5" height="25.6" fill="#000" filter="url(#nz2)" opacity="0.11"/>
<rect x="630.5" y="145.1" width="19.0" height="2.0" fill="#000" filter="url(#nz2)" opacity="0.45"/>
<rect x="629.5" y="146.1" width="2.0" height="18.3" fill="#000" filter="url(#nz2)" opacity="0.45"/>
<rect x="649.5" y="163.4" width="19.0" height="2.0" fill="#000" filter="url(#nz2)" opacity="0.36"/>
<rect x="648.5" y="164.4" width="2.0" height="18.3" fill="#000" filter="url(#nz2)" opacity="0.36"/>
<rect x="600.2" y="116.8" width="75.8" height="73.2" fill="url(#gdiag2)"/>
<line x1="600.7" y1="117.3" x2="675.5" y2="189.5" stroke="#bd141c" stroke-width="1.55" opacity="0.95"/>
<path d="M443.4,252.2 V304.1 H660.2" fill="none" stroke="#3a3a3a" stroke-width="1.1"/>
<line x1="439.9" y1="304.1" x2="443.4" y2="304.1" stroke="#3a3a3a" stroke-width="0.9"/>
<line x1="439.9" y1="293.8" x2="443.4" y2="293.8" stroke="#3a3a3a" stroke-width="0.9"/>
<line x1="439.9" y1="283.5" x2="443.4" y2="283.5" stroke="#3a3a3a" stroke-width="0.9"/>
<line x1="439.9" y1="273.2" x2="443.4" y2="273.2" stroke="#3a3a3a" stroke-width="0.9"/>
<line x1="439.9" y1="262.9" x2="443.4" y2="262.9" stroke="#3a3a3a" stroke-width="0.9"/>
<line x1="439.9" y1="252.6" x2="443.4" y2="252.6" stroke="#3a3a3a" stroke-width="0.9"/>
<text x="421.32" y="256.76" font-size="10.45">100</text>
<text x="435.17" y="304.53" font-size="8.21">0</text>
<text transform="translate(421.16,303.97) rotate(-90)" font-size="10.33">percentille</text>
<rect x="452.4" y="255.2" width="8.4" height="48.9" fill="#d2dcea" stroke="#7198d0" stroke-width="0.9"/>
<rect x="462.4" y="263.3" width="8.4" height="40.8" fill="#efc4ad" stroke="#e69a72" stroke-width="0.9"/>
<line x1="461.0" y1="304.1" x2="461.0" y2="307.1" stroke="#3a3a3a" stroke-width="0.9"/>
<text x="447.12" y="318.29" font-size="9.55">1-SSIM</text>
<text transform="translate(459.74,252.80) rotate(-90)" font-size="9.40">96.3</text>
<text transform="translate(469.74,260.88) rotate(-90)" font-size="9.40">80.4</text>
<rect x="488.7" y="256.3" width="8.4" height="47.8" fill="#d2dcea" stroke="#7198d0" stroke-width="0.9"/>
<rect x="498.7" y="262.0" width="8.4" height="42.1" fill="#efc4ad" stroke="#e69a72" stroke-width="0.9"/>
<line x1="497.2" y1="304.1" x2="497.2" y2="307.1" stroke="#3a3a3a" stroke-width="0.9"/>
<text x="483.73" y="318.29" font-size="9.55">PSNR</text>
<text transform="translate(495.99,253.97) rotate(-90)" font-size="9.40">94.0</text>
<text transform="translate(505.99,259.61) rotate(-90)" font-size="9.40">82.9</text>
<rect x="525.0" y="301.1" width="8.4" height="3.0" fill="#d2dcea" stroke="#7198d0" stroke-width="0.9"/>
<rect x="535.0" y="295.4" width="8.4" height="8.7" fill="#efc4ad" stroke="#e69a72" stroke-width="0.9"/>
<line x1="533.5" y1="304.1" x2="533.5" y2="307.1" stroke="#3a3a3a" stroke-width="0.9"/>
<text x="522.02" y="318.29" font-size="9.55">MSE</text>
<text transform="translate(532.24,298.72) rotate(-90)" font-size="9.40">6.0</text>
<text transform="translate(542.24,293.32) rotate(-90)" font-size="9.40">17.1</text>
<rect x="561.2" y="293.7" width="8.4" height="10.4" fill="#d2dcea" stroke="#7198d0" stroke-width="0.9"/>
<rect x="571.2" y="293.7" width="8.4" height="10.4" fill="#efc4ad" stroke="#e69a72" stroke-width="0.9"/>
<line x1="569.8" y1="304.1" x2="569.8" y2="307.1" stroke="#3a3a3a" stroke-width="0.9"/>
<text x="548.24" y="318.41" font-size="9.55">Hausdorff</text>
<text transform="translate(568.49,291.41) rotate(-90)" font-size="9.40">20.4</text>
<text transform="translate(578.49,291.41) rotate(-90)" font-size="9.40">20.4</text>
<rect x="597.5" y="300.0" width="8.4" height="4.1" fill="#d2dcea" stroke="#7198d0" stroke-width="0.9"/>
<rect x="607.5" y="293.9" width="8.4" height="10.2" fill="#efc4ad" stroke="#e69a72" stroke-width="0.9"/>
<line x1="606.0" y1="304.1" x2="606.0" y2="307.1" stroke="#3a3a3a" stroke-width="0.9"/>
<text x="598.91" y="318.29" font-size="9.55">NMI</text>
<text transform="translate(604.74,297.61) rotate(-90)" font-size="9.40">8.1</text>
<text transform="translate(614.74,291.61) rotate(-90)" font-size="9.40">20.0</text>
<rect x="643.7" y="253.4" width="8.4" height="50.7" fill="#efc4ad" stroke="#e69a72" stroke-width="0.9"/>
<line x1="642.2" y1="304.1" x2="642.2" y2="307.1" stroke="#3a3a3a" stroke-width="0.9"/>
<text x="632.92" y="318.41" font-size="9.55">Twins</text>
<text transform="translate(640.99,301.65) rotate(-90)" font-size="9.40">0.05</text>
<text transform="translate(650.99,250.97) rotate(-90)" font-size="9.40">99.9</text>
<text x="523.50" y="343.99" font-size="9.29">per window renormalised contacts</text>
<rect x="518.4" y="348.6" width="152" height="7.8" fill="url(#reds)" stroke="#222" stroke-width="1.2"/>
<line x1="520.4" y1="356.6" x2="520.4" y2="358.4" stroke="#555" stroke-width="0.6"/>
<line x1="524.1" y1="356.6" x2="524.1" y2="358.4" stroke="#555" stroke-width="0.6"/>
<line x1="548.6" y1="356.6" x2="548.6" y2="358.4" stroke="#555" stroke-width="0.6"/>
<line x1="561.1" y1="356.6" x2="561.1" y2="358.4" stroke="#555" stroke-width="0.6"/>
<line x1="569.9" y1="356.6" x2="569.9" y2="358.4" stroke="#555" stroke-width="0.6"/>
<line x1="576.8" y1="356.6" x2="576.8" y2="358.4" stroke="#555" stroke-width="0.6"/>
<line x1="582.4" y1="356.6" x2="582.4" y2="358.4" stroke="#555" stroke-width="0.6"/>
<line x1="587.1" y1="356.6" x2="587.1" y2="358.4" stroke="#555" stroke-width="0.6"/>
<line x1="591.2" y1="356.6" x2="591.2" y2="358.4" stroke="#555" stroke-width="0.6"/>
<line x1="594.9" y1="356.6" x2="594.9" y2="358.4" stroke="#555" stroke-width="0.6"/>
<line x1="619.4" y1="356.6" x2="619.4" y2="358.4" stroke="#555" stroke-width="0.6"/>
<line x1="631.9" y1="356.6" x2="631.9" y2="358.4" stroke="#555" stroke-width="0.6"/>
<line x1="640.7" y1="356.6" x2="640.7" y2="358.4" stroke="#555" stroke-width="0.6"/>
<line x1="647.6" y1="356.6" x2="647.6" y2="358.4" stroke="#555" stroke-width="0.6"/>
<line x1="653.2" y1="356.6" x2="653.2" y2="358.4" stroke="#555" stroke-width="0.6"/>
<line x1="657.9" y1="356.6" x2="657.9" y2="358.4" stroke="#555" stroke-width="0.6"/>
<line x1="662.0" y1="356.6" x2="662.0" y2="358.4" stroke="#555" stroke-width="0.6"/>
<line x1="665.7" y1="356.6" x2="665.7" y2="358.4" stroke="#555" stroke-width="0.6"/>
<line x1="527.3" y1="356.6" x2="527.3" y2="359.8" stroke="#333" stroke-width="0.8"/>
<line x1="598.1" y1="356.6" x2="598.1" y2="359.8" stroke="#333" stroke-width="0.8"/>
<line x1="668.9" y1="356.6" x2="668.9" y2="359.8" stroke="#333" stroke-width="0.8"/>
<text x="520.61" y="367.63" font-size="7.32" style="fill:#444">0.01</text>
<text x="592.41" y="367.56" font-size="7.14" style="fill:#444">0.1</text>
<text x="667.80" y="367.86" font-size="8.00" style="fill:#444">1</text>
<text x="64.77" y="434.50" font-size="15.86" font-weight="bold">c.</text>
<text x="200.82" y="436.95" font-size="13.59" font-weight="bold">separation index</text>
<text x="466.11" y="434.16" font-size="13.65" font-weight="bold">mean performance</text>
<text x="146.43" y="457.27" font-size="13.61">T-cell</text>
<text x="119.46" y="476.53" font-size="13.52">differentiation</text>
<text x="240.51" y="456.97" font-size="13.67">NPC</text>
<text x="214.21" y="476.07" font-size="13.87">CTCF degron</text>
<text x="323.92" y="457.22" font-size="13.49">liver</text>
<text x="314.10" y="476.28" font-size="13.28">ΔNIPBL</text>
<text x="419.52" y="457.37" font-size="13.91">T-cell</text>
<text x="393.26" y="476.55" font-size="13.57">differentiation</text>
<text x="512.49" y="457.07" font-size="13.82">NPC</text>
<text x="486.01" y="475.50" font-size="13.80">CTCF degron</text>
<text x="602.42" y="456.81" font-size="13.60">liver</text>
<text x="591.99" y="476.01" font-size="13.51">ΔNIPBL</text>
<line x1="116.4" y1="481.2" x2="366.2" y2="481.2" stroke="#222" stroke-width="1.2"/>
<line x1="392.8" y1="480.9" x2="642.4" y2="480.9" stroke="#222" stroke-width="1.2"/>
<text x="45.15" y="495.04" font-size="14.02">1-SSIM</text>
<text x="52.99" y="514.89" font-size="13.89">PSNR</text>
<text x="60.83" y="534.17" font-size="13.40">MSE</text>
<text x="27.81" y="553.94" font-size="13.68">Hausdorff</text>
<text x="62.37" y="573.71" font-size="14.10">NMI</text>
<text x="54.67" y="592.47" font-size="13.47" font-weight="bold">Twins</text>
<text x="140.54" y="495.42" font-size="13.23" textLength="41.58" lengthAdjust="spacingAndGlyphs">0.1179</text>
<text x="234.66" y="495.35" font-size="13.05" textLength="41.47" lengthAdjust="spacingAndGlyphs">0.1695</text>
<text x="316.86" y="495.35" font-size="13.05" textLength="41.47" lengthAdjust="spacingAndGlyphs">0.1280</text>
<text x="414.36" y="495.35" font-size="13.06" textLength="41.54" lengthAdjust="spacingAndGlyphs">0.5163</text>
<text x="507.26" y="495.35" font-size="13.06" textLength="41.54" lengthAdjust="spacingAndGlyphs">0.5503</text>
<text x="595.46" y="494.36" font-size="13.07" textLength="41.61" lengthAdjust="spacingAndGlyphs">0.5437</text>
<text x="140.56" y="514.85" font-size="13.06" textLength="41.54" lengthAdjust="spacingAndGlyphs">0.1243</text>
<text x="234.66" y="514.86" font-size="13.07" textLength="41.61" lengthAdjust="spacingAndGlyphs">0.1922</text>
<text x="316.86" y="514.85" font-size="13.05" textLength="41.47" lengthAdjust="spacingAndGlyphs">0.1610</text>
<text x="414.36" y="514.85" font-size="13.06" textLength="41.54" lengthAdjust="spacingAndGlyphs">0.5029</text>
<text x="507.26" y="514.86" font-size="13.07" textLength="41.61" lengthAdjust="spacingAndGlyphs">0.5271</text>
<text x="595.46" y="513.85" font-size="13.05" textLength="41.47" lengthAdjust="spacingAndGlyphs">0.5018</text>
<text x="140.56" y="534.65" font-size="13.05" textLength="41.47" lengthAdjust="spacingAndGlyphs">0.1275</text>
<text x="234.64" y="534.72" font-size="13.25" textLength="41.65" lengthAdjust="spacingAndGlyphs">0.1811</text>
<text x="316.86" y="534.65" font-size="13.05" textLength="41.47" lengthAdjust="spacingAndGlyphs">0.1405</text>
<text x="414.36" y="534.65" font-size="13.06" textLength="41.54" lengthAdjust="spacingAndGlyphs">0.5173</text>
<text x="507.26" y="534.65" font-size="13.06" textLength="41.54" lengthAdjust="spacingAndGlyphs">0.5023</text>
<text x="595.46" y="533.65" font-size="13.05" textLength="41.47" lengthAdjust="spacingAndGlyphs">0.5580</text>
<text x="140.56" y="553.56" font-size="13.07" textLength="41.61" lengthAdjust="spacingAndGlyphs">0.0827</text>
<text x="234.66" y="553.56" font-size="13.07" textLength="41.61" lengthAdjust="spacingAndGlyphs">0.0532</text>
<text x="316.86" y="553.55" font-size="13.06" textLength="41.54" lengthAdjust="spacingAndGlyphs">0.0493</text>
<text x="414.36" y="553.55" font-size="13.06" textLength="41.54" lengthAdjust="spacingAndGlyphs">0.5089</text>
<text x="507.24" y="553.61" font-size="13.22" textLength="41.50" lengthAdjust="spacingAndGlyphs">0.5115</text>
<text x="595.46" y="552.55" font-size="13.05" textLength="41.47" lengthAdjust="spacingAndGlyphs">0.5010</text>
<text x="140.56" y="573.36" font-size="13.07" textLength="41.61" lengthAdjust="spacingAndGlyphs">0.1227</text>
<text x="234.66" y="573.35" font-size="13.06" textLength="41.54" lengthAdjust="spacingAndGlyphs">0.1699</text>
<text x="316.86" y="573.35" font-size="13.05" textLength="41.47" lengthAdjust="spacingAndGlyphs">0.1550</text>
<text x="418.06" y="573.37" font-size="13.11" textLength="34.25" lengthAdjust="spacingAndGlyphs">0.502</text>
<text x="507.26" y="573.34" font-size="13.02" textLength="41.33" lengthAdjust="spacingAndGlyphs">0.5004</text>
<text x="595.46" y="572.34" font-size="13.02" textLength="41.33" lengthAdjust="spacingAndGlyphs">0.5064</text>
<text x="140.56" y="592.64" font-size="13.01" font-weight="bold" textLength="41.26" lengthAdjust="spacingAndGlyphs">0.7001</text>
<text x="234.66" y="592.62" font-size="12.97" font-weight="bold" textLength="40.99" lengthAdjust="spacingAndGlyphs">0.9154</text>
<text x="316.86" y="592.65" font-size="13.06" font-weight="bold" textLength="41.54" lengthAdjust="spacingAndGlyphs">0.9247</text>
<text x="414.36" y="592.65" font-size="13.03" font-weight="bold" textLength="41.40" lengthAdjust="spacingAndGlyphs">0.8513</text>
<text x="507.26" y="592.65" font-size="13.05" font-weight="bold" textLength="41.47" lengthAdjust="spacingAndGlyphs">0.9572</text>
<text x="595.46" y="591.65" font-size="13.03" font-weight="bold" textLength="41.40" lengthAdjust="spacingAndGlyphs">0.9609</text>
</svg></body></html>
